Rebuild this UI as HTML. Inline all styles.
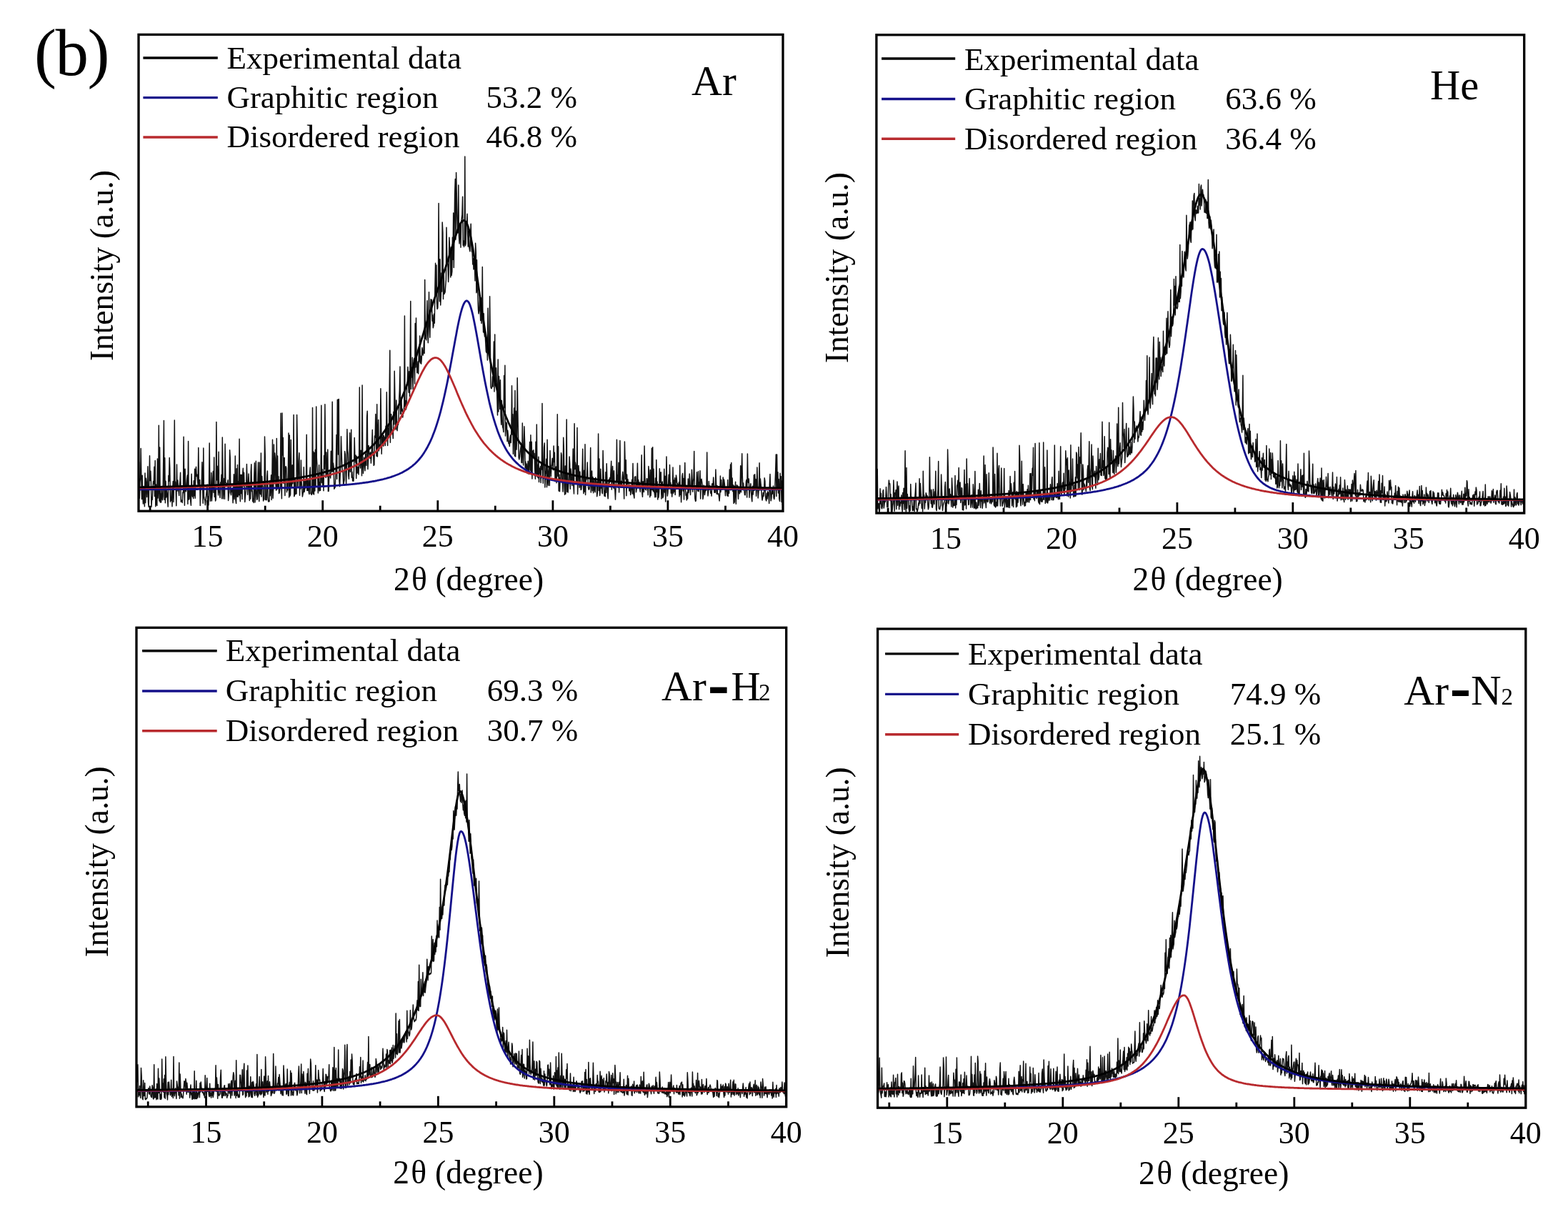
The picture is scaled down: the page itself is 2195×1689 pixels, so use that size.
<!DOCTYPE html>
<html><head><meta charset="utf-8"><title>XRD fits</title>
<style>html,body{margin:0;padding:0;background:#fff;}svg{display:block;}</style>
</head><body>
<svg xmlns="http://www.w3.org/2000/svg" width="2195" height="1689" viewBox="0 0 2195 1689"><rect width="2195" height="1689" fill="#fff"/><clipPath id="c0"><rect x="194.0" y="48.4" width="902.0" height="666.8000000000001"/></clipPath><g clip-path="url(#c0)"><polyline points="194.0,690.5 194.6,646.8 195.3,697.3 195.9,674.9 196.6,668.3 197.2,627.4 197.9,670.9 198.5,698.6 199.2,665.2 199.8,694.5 200.4,704.9 201.1,680.6 201.7,700.0 202.4,708.8 203.0,662.1 203.7,703.5 204.3,669.3 205.0,675.6 205.6,695.4 206.2,681.9 206.9,652.8 207.5,702.5 208.2,709.3 208.8,676.1 209.5,637.8 210.1,672.6 210.8,659.3 211.4,673.0 212.0,709.3 212.7,696.1 213.3,699.3 214.0,681.9 214.6,673.5 215.3,677.1 215.9,653.2 216.5,694.6 217.2,644.5 217.8,708.7 218.5,678.0 219.1,705.7 219.8,707.4 220.4,642.1 221.1,696.9 221.7,684.5 222.3,595.2 223.0,701.1 223.6,626.0 224.3,703.1 224.9,691.0 225.6,703.0 226.2,682.6 226.9,695.3 227.5,699.7 228.1,694.6 228.8,640.2 229.4,588.4 230.1,699.3 230.7,640.7 231.4,703.7 232.0,673.2 232.7,696.0 233.3,685.7 233.9,689.9 234.6,698.5 235.2,709.1 235.9,665.5 236.5,673.6 237.2,640.6 237.8,655.9 238.5,702.2 239.1,699.4 239.7,700.3 240.4,683.9 241.0,708.8 241.7,684.6 242.3,673.6 243.0,702.4 243.6,666.9 244.3,587.9 244.9,679.8 245.5,674.1 246.2,685.1 246.8,707.8 247.5,650.0 248.1,687.0 248.8,671.9 249.4,682.0 250.1,687.8 250.7,693.5 251.3,679.6 252.0,673.2 252.6,661.2 253.3,702.2 253.9,700.1 254.6,700.2 255.2,703.4 255.9,688.8 256.5,689.6 257.1,611.2 257.8,676.5 258.4,707.3 259.1,656.2 259.7,683.1 260.4,687.8 261.0,680.8 261.6,671.1 262.3,664.9 262.9,705.2 263.6,617.5 264.2,699.1 264.9,698.2 265.5,687.4 266.2,684.8 266.8,701.4 267.4,707.2 268.1,663.3 268.7,690.0 269.4,694.9 270.0,685.7 270.7,697.6 271.3,672.8 272.0,693.8 272.6,656.2 273.2,697.3 273.9,658.2 274.5,653.3 275.2,666.5 275.8,664.0 276.5,671.4 277.1,679.3 277.8,626.5 278.4,675.0 279.0,679.9 279.7,671.5 280.3,707.6 281.0,682.3 281.6,684.9 282.3,675.9 282.9,646.7 283.6,681.3 284.2,704.2 284.8,627.1 285.5,694.6 286.1,697.9 286.8,700.3 287.4,706.7 288.1,698.2 288.7,693.4 289.4,685.0 290.0,677.9 290.6,705.4 291.3,694.9 291.9,707.1 292.6,675.9 293.2,620.1 293.9,684.2 294.5,701.2 295.2,689.2 295.8,661.5 296.4,701.0 297.1,691.5 297.7,670.1 298.4,659.4 299.0,689.2 299.7,639.9 300.3,695.2 301.0,683.4 301.6,701.1 302.2,699.3 302.9,590.4 303.5,671.8 304.2,652.2 304.8,678.1 305.5,692.9 306.1,632.3 306.7,687.3 307.4,690.7 308.0,696.4 308.7,675.1 309.3,679.5 310.0,664.3 310.6,697.8 311.3,612.1 311.9,654.3 312.5,697.9 313.2,684.7 313.8,669.6 314.5,698.2 315.1,621.3 315.8,675.5 316.4,675.7 317.1,677.7 317.7,678.0 318.3,677.4 319.0,671.8 319.6,700.5 320.3,692.0 320.9,688.2 321.6,629.7 322.2,640.1 322.9,689.5 323.5,692.8 324.1,684.4 324.8,687.9 325.4,682.9 326.1,703.7 326.7,688.7 327.4,663.8 328.0,698.7 328.7,690.6 329.3,638.1 329.9,699.3 330.6,704.5 331.2,655.7 331.9,695.0 332.5,650.6 333.2,695.3 333.8,674.1 334.5,692.8 335.1,614.3 335.7,690.5 336.4,701.8 337.0,664.3 337.7,690.4 338.3,664.5 339.0,698.5 339.6,664.1 340.3,655.2 340.9,680.3 341.5,661.3 342.2,683.7 342.8,702.5 343.5,694.0 344.1,688.2 344.8,677.4 345.4,649.6 346.1,676.2 346.7,692.2 347.3,680.2 348.0,663.1 348.6,679.3 349.3,700.6 349.9,676.1 350.6,697.9 351.2,660.8 351.8,649.7 352.5,687.8 353.1,686.0 353.8,701.8 354.4,698.0 355.1,703.4 355.7,667.5 356.4,647.8 357.0,702.9 357.6,693.7 358.3,645.2 358.9,685.3 359.6,699.3 360.2,698.6 360.9,675.6 361.5,647.0 362.2,694.7 362.8,701.6 363.4,647.0 364.1,688.9 364.7,691.7 365.4,634.0 366.0,695.1 366.7,666.6 367.3,680.2 368.0,680.0 368.6,701.1 369.2,698.2 369.9,699.0 370.5,611.1 371.2,636.2 371.8,699.6 372.5,698.5 373.1,699.7 373.8,666.7 374.4,658.9 375.0,696.4 375.7,701.9 376.3,701.6 377.0,701.8 377.6,672.4 378.3,693.8 378.9,680.3 379.6,664.8 380.2,699.5 380.8,673.7 381.5,615.3 382.1,697.3 382.8,681.3 383.4,622.0 384.1,674.0 384.7,634.1 385.4,642.4 386.0,678.6 386.6,686.2 387.3,613.6 387.9,684.8 388.6,638.0 389.2,682.7 389.9,666.7 390.5,690.6 391.2,689.2 391.8,683.9 392.4,682.2 393.1,578.3 393.7,673.4 394.4,697.7 395.0,578.0 395.7,637.0 396.3,612.6 396.9,676.4 397.6,641.4 398.2,640.5 398.9,693.6 399.5,653.6 400.2,652.7 400.8,654.9 401.5,688.8 402.1,674.3 402.7,686.0 403.4,659.7 404.0,606.0 404.7,696.1 405.3,609.1 406.0,694.0 406.6,691.7 407.3,615.5 407.9,676.0 408.5,680.8 409.2,650.7 409.8,676.8 410.5,667.6 411.1,580.4 411.8,694.8 412.4,693.1 413.1,670.2 413.7,691.5 414.3,689.4 415.0,690.9 415.6,580.6 416.3,618.3 416.9,681.6 417.6,665.5 418.2,645.4 418.9,633.8 419.5,693.3 420.1,673.3 420.8,684.1 421.4,644.1 422.1,675.4 422.7,681.1 423.4,694.9 424.0,691.6 424.7,687.8 425.3,653.7 425.9,688.5 426.6,685.6 427.2,673.4 427.9,683.0 428.5,670.7 429.2,608.3 429.8,686.4 430.5,670.2 431.1,686.4 431.7,670.9 432.4,689.7 433.0,691.4 433.7,660.8 434.3,654.0 435.0,690.3 435.6,691.4 436.3,692.4 436.9,686.2 437.5,570.4 438.2,691.1 438.8,631.9 439.5,691.9 440.1,633.4 440.8,687.1 441.4,629.3 442.0,681.0 442.7,569.1 443.3,641.1 444.0,653.0 444.6,665.6 445.3,689.9 445.9,679.6 446.6,650.8 447.2,686.9 447.8,674.7 448.5,686.3 449.1,657.3 449.8,567.2 450.4,675.5 451.1,656.8 451.7,680.7 452.4,665.7 453.0,686.7 453.6,637.6 454.3,656.2 454.9,565.7 455.6,633.6 456.2,668.5 456.9,633.1 457.5,661.0 458.2,667.0 458.8,628.9 459.4,687.5 460.1,687.3 460.7,667.9 461.4,661.1 462.0,661.7 462.7,668.9 463.3,631.3 464.0,652.0 464.6,660.6 465.2,562.2 465.9,659.8 466.5,647.9 467.2,654.1 467.8,684.2 468.5,682.7 469.1,682.1 469.8,666.5 470.4,647.6 471.0,608.5 471.7,670.3 472.3,559.4 473.0,559.1 473.6,636.0 474.3,558.6 474.9,672.4 475.6,680.8 476.2,665.1 476.8,652.4 477.5,610.7 478.1,631.9 478.8,651.2 479.4,660.2 480.1,659.2 480.7,679.1 481.4,674.8 482.0,671.7 482.6,631.5 483.3,635.8 483.9,657.3 484.6,677.2 485.2,656.4 485.9,600.8 486.5,629.4 487.1,634.8 487.8,665.3 488.4,670.3 489.1,645.5 489.7,605.7 490.4,660.2 491.0,640.0 491.7,601.3 492.3,668.2 492.9,660.2 493.6,673.0 494.2,669.1 494.9,673.2 495.5,656.6 496.2,612.4 496.8,637.4 497.5,647.0 498.1,637.0 498.7,669.5 499.4,638.8 500.0,662.1 500.7,661.4 501.3,653.6 502.0,663.9 502.6,647.1 503.3,541.9 503.9,645.1 504.5,655.1 505.2,630.2 505.8,635.7 506.5,665.8 507.1,538.9 507.8,646.7 508.4,662.5 509.1,651.3 509.7,640.3 510.3,646.4 511.0,658.8 511.6,635.0 512.3,643.2 512.9,651.6 513.6,584.0 514.2,575.2 514.9,656.6 515.5,644.1 516.1,623.5 516.8,632.9 517.4,635.2 518.1,641.3 518.7,633.0 519.4,648.1 520.0,637.8 520.7,620.1 521.3,601.6 521.9,635.3 522.6,632.7 523.2,651.4 523.9,650.2 524.5,609.9 525.2,612.4 525.8,579.6 526.5,622.2 527.1,638.2 527.7,565.8 528.4,639.0 529.0,608.9 529.7,587.4 530.3,630.9 531.0,627.1 531.6,622.1 532.2,626.7 532.9,543.8 533.5,586.8 534.2,635.2 534.8,611.5 535.5,621.5 536.1,608.0 536.8,624.3 537.4,609.7 538.0,617.8 538.7,612.0 539.3,623.6 540.0,596.3 540.6,613.2 541.3,548.8 541.9,596.0 542.6,623.4 543.2,598.7 543.8,603.2 544.5,609.2 545.1,550.2 545.8,490.2 546.4,619.3 547.1,580.3 547.7,579.6 548.4,606.7 549.0,601.8 549.6,603.6 550.3,613.6 550.9,576.2 551.6,593.7 552.2,519.3 552.9,556.9 553.5,597.0 554.2,601.0 554.8,560.0 555.4,585.1 556.1,602.7 556.7,595.0 557.4,594.5 558.0,588.6 558.7,559.2 559.3,546.6 560.0,512.9 560.6,579.6 561.2,578.9 561.9,557.5 562.5,575.1 563.2,572.3 563.8,584.0 564.5,575.2 565.1,578.3 565.8,564.8 566.4,442.0 567.0,569.0 567.7,560.4 568.3,572.9 569.0,569.6 569.6,538.5 570.3,534.0 570.9,513.5 571.6,533.4 572.2,549.2 572.8,519.8 573.5,554.5 574.1,505.9 574.8,421.4 575.4,544.6 576.1,514.5 576.7,528.0 577.3,500.3 578.0,544.8 578.6,515.2 579.3,504.0 579.9,501.3 580.6,537.1 581.2,452.4 581.9,514.0 582.5,445.1 583.1,498.6 583.8,521.8 584.4,520.6 585.1,506.0 585.7,523.0 586.4,488.4 587.0,505.7 587.7,470.1 588.3,508.0 588.9,498.3 589.6,509.3 590.2,502.6 590.9,486.6 591.5,491.2 592.2,497.1 592.8,493.0 593.5,476.6 594.1,494.5 594.7,391.6 595.4,474.0 596.0,470.1 596.7,475.9 597.3,455.0 598.0,420.7 598.6,465.8 599.3,479.7 599.9,449.5 600.5,408.8 601.2,455.0 601.8,472.2 602.5,442.5 603.1,418.8 603.8,427.9 604.4,419.4 605.1,449.3 605.7,441.0 606.3,458.8 607.0,455.6 607.6,439.3 608.3,452.3 608.9,403.8 609.6,368.3 610.2,413.2 610.9,370.9 611.5,422.8 612.1,432.5 612.8,430.9 613.4,414.3 614.1,284.5 614.7,388.2 615.4,421.8 616.0,362.7 616.7,426.9 617.3,413.6 617.9,382.0 618.6,407.9 619.2,311.1 619.9,325.7 620.5,418.6 621.2,382.2 621.8,411.6 622.4,410.1 623.1,408.9 623.7,400.0 624.4,391.8 625.0,318.3 625.7,357.8 626.3,367.1 627.0,370.7 627.6,394.4 628.2,384.0 628.9,332.3 629.5,344.5 630.2,349.9 630.8,387.9 631.5,346.0 632.1,385.4 632.8,379.8 633.4,332.3 634.0,363.3 634.7,297.9 635.3,374.6 636.0,324.4 636.6,273.0 637.3,250.4 637.9,335.2 638.6,241.5 639.2,269.0 639.8,303.8 640.5,325.7 641.1,325.7 641.8,259.1 642.4,329.4 643.1,340.9 643.7,318.4 644.4,312.4 645.0,346.3 645.6,310.0 646.3,305.0 646.9,300.9 647.6,275.2 648.2,343.3 648.9,337.1 649.5,345.5 650.2,338.0 650.8,218.9 651.4,343.7 652.1,340.9 652.7,310.3 653.4,312.9 654.0,299.3 654.7,328.5 655.3,345.1 656.0,323.3 656.6,344.4 657.2,348.5 657.9,351.8 658.5,330.8 659.2,313.3 659.8,342.9 660.5,352.3 661.1,352.9 661.8,369.9 662.4,361.8 663.0,376.9 663.7,374.0 664.3,365.5 665.0,392.9 665.6,340.2 666.3,352.7 666.9,409.7 667.5,363.8 668.2,405.9 668.8,410.5 669.5,433.1 670.1,439.0 670.8,433.8 671.4,416.2 672.1,430.4 672.7,448.5 673.3,416.7 674.0,452.6 674.6,440.4 675.3,373.6 675.9,441.2 676.6,465.0 677.2,438.8 677.9,466.0 678.5,470.9 679.1,466.6 679.8,480.2 680.4,491.7 681.1,493.5 681.7,474.5 682.4,503.9 683.0,431.2 683.7,486.7 684.3,485.0 684.9,493.8 685.6,414.7 686.2,466.9 686.9,540.7 687.5,543.3 688.2,543.6 688.8,540.6 689.5,527.1 690.1,541.0 690.7,513.9 691.4,477.9 692.0,548.1 692.7,468.0 693.3,539.0 694.0,530.0 694.6,514.7 695.3,534.6 695.9,557.4 696.5,581.0 697.2,503.0 697.8,575.9 698.5,526.6 699.1,542.9 699.8,572.5 700.4,531.8 701.1,581.6 701.7,594.3 702.3,560.6 703.0,582.9 703.6,597.6 704.3,599.5 704.9,604.6 705.6,525.4 706.2,570.5 706.9,511.2 707.5,610.1 708.1,600.9 708.8,591.1 709.4,592.7 710.1,617.8 710.7,602.2 711.4,609.9 712.0,620.7 712.6,617.3 713.3,624.6 713.9,613.7 714.6,609.0 715.2,619.6 715.9,601.4 716.5,539.7 717.2,608.3 717.8,579.7 718.4,635.2 719.1,598.0 719.7,571.1 720.4,638.0 721.0,546.6 721.7,638.9 722.3,575.2 723.0,629.1 723.6,614.9 724.2,528.7 724.9,579.8 725.5,609.7 726.2,640.4 726.8,642.9 727.5,639.3 728.1,631.6 728.8,627.5 729.4,623.9 730.0,647.3 730.7,647.7 731.3,592.1 732.0,628.5 732.6,650.9 733.3,627.2 733.9,596.8 734.6,619.7 735.2,654.7 735.8,646.0 736.5,659.4 737.1,649.1 737.8,658.0 738.4,662.6 739.1,645.2 739.7,655.3 740.4,663.5 741.0,639.2 741.6,618.5 742.3,658.2 742.9,608.8 743.6,661.9 744.2,618.2 744.9,670.0 745.5,631.1 746.2,638.8 746.8,629.7 747.4,639.6 748.1,634.6 748.7,657.3 749.4,670.2 750.0,618.3 750.7,663.8 751.3,594.1 752.0,667.0 752.6,650.4 753.2,668.8 753.9,639.2 754.5,674.6 755.2,655.2 755.8,662.5 756.5,652.7 757.1,675.6 757.7,648.5 758.4,657.0 759.0,564.6 759.7,662.6 760.3,676.3 761.0,649.0 761.6,625.8 762.3,619.9 762.9,682.0 763.5,660.2 764.2,662.4 764.8,642.3 765.5,681.8 766.1,615.2 766.8,673.3 767.4,679.3 768.1,659.7 768.7,654.3 769.3,679.6 770.0,630.5 770.6,651.3 771.3,666.8 771.9,653.1 772.6,649.6 773.2,641.2 773.9,651.7 774.5,657.8 775.1,623.9 775.8,646.6 776.4,633.2 777.1,673.8 777.7,665.5 778.4,653.0 779.0,675.8 779.7,653.0 780.3,579.7 780.9,666.5 781.6,624.7 782.2,687.0 782.9,664.2 783.5,687.8 784.2,668.7 784.8,671.4 785.5,633.7 786.1,636.6 786.7,673.8 787.4,675.5 788.0,687.9 788.7,612.2 789.3,627.6 790.0,679.3 790.6,692.3 791.3,652.1 791.9,690.9 792.5,662.4 793.2,587.0 793.8,688.2 794.5,664.3 795.1,689.1 795.8,676.1 796.4,671.4 797.1,638.9 797.7,648.8 798.3,684.2 799.0,655.9 799.6,664.4 800.3,674.1 800.9,679.4 801.6,659.1 802.2,628.1 802.8,679.1 803.5,690.9 804.1,592.7 804.8,656.4 805.4,647.1 806.1,651.9 806.7,676.6 807.4,669.8 808.0,598.5 808.6,691.4 809.3,669.4 809.9,651.4 810.6,663.6 811.2,682.2 811.9,660.1 812.5,674.2 813.2,685.5 813.8,684.7 814.4,676.0 815.1,657.3 815.7,628.2 816.4,678.3 817.0,690.6 817.7,658.3 818.3,688.0 819.0,621.8 819.6,692.6 820.2,670.7 820.9,671.2 821.5,666.6 822.2,647.0 822.8,665.4 823.5,682.5 824.1,685.1 824.8,684.8 825.4,681.3 826.0,670.9 826.7,626.5 827.3,689.1 828.0,673.2 828.6,659.0 829.3,686.7 829.9,667.4 830.6,689.7 831.2,682.0 831.8,670.0 832.5,686.6 833.1,688.8 833.8,668.3 834.4,673.2 835.1,673.9 835.7,694.7 836.4,689.3 837.0,659.2 837.6,607.0 838.3,686.4 838.9,642.1 839.6,693.4 840.2,688.7 840.9,656.2 841.5,682.9 842.2,679.2 842.8,689.2 843.4,690.7 844.1,630.5 844.7,656.2 845.4,676.6 846.0,693.9 846.7,686.9 847.3,694.7 847.9,660.7 848.6,689.2 849.2,648.8 849.9,671.7 850.5,691.5 851.2,697.8 851.8,678.3 852.5,670.7 853.1,676.0 853.7,668.5 854.4,673.1 855.0,659.4 855.7,645.2 856.3,685.1 857.0,667.4 857.6,652.4 858.3,673.5 858.9,683.1 859.5,658.8 860.2,682.9 860.8,685.1 861.5,699.1 862.1,682.2 862.8,670.7 863.4,615.3 864.1,673.9 864.7,664.7 865.3,682.3 866.0,647.3 866.6,688.9 867.3,671.0 867.9,616.5 868.6,678.8 869.2,682.3 869.9,673.3 870.5,680.3 871.1,669.0 871.8,660.3 872.4,666.4 873.1,680.6 873.7,698.0 874.4,618.1 875.0,642.4 875.7,670.6 876.3,643.7 876.9,693.7 877.6,664.0 878.2,677.9 878.9,670.8 879.5,676.2 880.2,675.5 880.8,687.0 881.5,686.0 882.1,678.9 882.7,692.5 883.4,686.9 884.0,681.2 884.7,671.2 885.3,690.9 886.0,648.5 886.6,690.2 887.3,693.7 887.9,697.1 888.5,667.2 889.2,672.4 889.8,666.8 890.5,688.7 891.1,684.6 891.8,673.0 892.4,648.3 893.0,680.9 893.7,671.5 894.3,679.1 895.0,674.8 895.6,683.7 896.3,688.2 896.9,678.3 897.6,669.1 898.2,636.7 898.8,689.1 899.5,695.3 900.1,673.8 900.8,681.4 901.4,688.4 902.1,623.9 902.7,659.6 903.4,684.9 904.0,685.1 904.6,685.9 905.3,669.7 905.9,669.7 906.6,681.6 907.2,692.7 907.9,652.6 908.5,659.9 909.2,677.9 909.8,695.8 910.4,657.4 911.1,693.5 911.7,682.2 912.4,627.3 913.0,685.5 913.7,625.8 914.3,687.2 915.0,656.2 915.6,688.4 916.2,689.7 916.9,695.8 917.5,669.0 918.2,695.5 918.8,643.4 919.5,688.4 920.1,673.9 920.8,699.0 921.4,684.2 922.0,696.1 922.7,687.9 923.3,655.7 924.0,675.5 924.6,661.4 925.3,660.9 925.9,698.1 926.6,678.5 927.2,674.1 927.8,696.8 928.5,694.6 929.1,684.7 929.8,656.2 930.4,689.1 931.1,666.2 931.7,701.9 932.4,679.5 933.0,639.1 933.6,677.6 934.3,694.1 934.9,690.0 935.6,676.2 936.2,664.3 936.9,678.9 937.5,650.6 938.1,677.1 938.8,675.5 939.4,690.1 940.1,682.7 940.7,695.1 941.4,686.7 942.0,654.1 942.7,690.2 943.3,672.0 943.9,687.9 944.6,668.8 945.2,692.4 945.9,677.7 946.5,665.0 947.2,669.3 947.8,676.9 948.5,676.8 949.1,680.1 949.7,683.5 950.4,674.9 951.0,694.7 951.7,651.2 952.3,692.2 953.0,683.0 953.6,702.8 954.3,686.2 954.9,666.4 955.5,662.5 956.2,687.1 956.8,669.4 957.5,698.9 958.1,673.0 958.8,647.6 959.4,680.1 960.1,693.3 960.7,691.1 961.3,699.9 962.0,688.7 962.6,698.1 963.3,670.1 963.9,689.6 964.6,684.0 965.2,662.9 965.9,674.5 966.5,692.5 967.1,681.3 967.8,678.7 968.4,657.3 969.1,671.8 969.7,688.1 970.4,673.9 971.0,669.0 971.7,631.6 972.3,682.8 972.9,697.6 973.6,701.4 974.2,701.0 974.9,679.0 975.5,660.7 976.2,683.5 976.8,687.0 977.5,659.8 978.1,687.8 978.7,675.0 979.4,678.8 980.0,658.8 980.7,698.0 981.3,672.1 982.0,670.2 982.6,674.2 983.2,679.1 983.9,698.4 984.5,695.0 985.2,679.1 985.8,681.1 986.5,692.5 987.1,688.4 987.8,680.8 988.4,686.6 989.0,683.2 989.7,633.1 990.3,680.0 991.0,694.0 991.6,689.5 992.3,673.5 992.9,685.0 993.6,680.1 994.2,681.2 994.8,690.2 995.5,687.8 996.1,694.1 996.8,676.9 997.4,676.8 998.1,679.1 998.7,668.1 999.4,679.9 1000.0,689.1 1000.6,689.3 1001.3,689.0 1001.9,657.1 1002.6,677.7 1003.2,691.2 1003.9,679.4 1004.5,690.9 1005.2,691.7 1005.8,690.7 1006.4,694.6 1007.1,701.0 1007.7,692.7 1008.4,665.9 1009.0,688.5 1009.7,671.6 1010.3,684.8 1011.0,685.0 1011.6,683.8 1012.2,667.9 1012.9,681.4 1013.5,671.0 1014.2,676.4 1014.8,681.5 1015.5,693.8 1016.1,683.9 1016.8,687.5 1017.4,684.0 1018.0,693.8 1018.7,671.6 1019.3,694.4 1020.0,682.3 1020.6,690.3 1021.3,657.0 1021.9,684.9 1022.6,649.9 1023.2,686.0 1023.8,647.5 1024.5,684.1 1025.1,668.9 1025.8,687.6 1026.4,678.7 1027.1,704.4 1027.7,680.1 1028.3,702.9 1029.0,683.7 1029.6,674.3 1030.3,705.2 1030.9,685.7 1031.6,678.8 1032.2,681.2 1032.9,680.1 1033.5,698.2 1034.1,682.4 1034.8,683.0 1035.4,690.8 1036.1,685.6 1036.7,651.7 1037.4,688.7 1038.0,662.7 1038.7,634.7 1039.3,666.1 1039.9,683.3 1040.6,675.9 1041.2,685.9 1041.9,686.5 1042.5,692.3 1043.2,692.8 1043.8,685.1 1044.5,673.6 1045.1,671.2 1045.7,695.9 1046.4,634.9 1047.0,672.4 1047.7,675.5 1048.3,670.0 1049.0,696.2 1049.6,685.8 1050.3,681.9 1050.9,676.7 1051.5,687.9 1052.2,697.1 1052.8,701.8 1053.5,680.2 1054.1,692.1 1054.8,685.2 1055.4,664.7 1056.1,686.2 1056.7,663.8 1057.3,680.6 1058.0,670.5 1058.6,694.2 1059.3,683.7 1059.9,654.1 1060.6,679.8 1061.2,697.0 1061.9,689.0 1062.5,679.6 1063.1,647.7 1063.8,685.9 1064.4,670.1 1065.1,677.3 1065.7,683.4 1066.4,694.2 1067.0,700.0 1067.7,696.3 1068.3,689.4 1068.9,694.4 1069.6,687.2 1070.2,668.8 1070.9,673.3 1071.5,693.5 1072.2,699.7 1072.8,700.9 1073.4,690.2 1074.1,697.9 1074.7,687.8 1075.4,689.3 1076.0,694.1 1076.7,704.4 1077.3,678.2 1078.0,663.5 1078.6,687.5 1079.2,700.8 1079.9,697.1 1080.5,686.7 1081.2,691.2 1081.8,687.4 1082.5,680.1 1083.1,696.4 1083.8,698.5 1084.4,693.9 1085.0,676.9 1085.7,658.7 1086.3,635.9 1087.0,694.4 1087.6,635.9 1088.3,685.0 1088.9,660.7 1089.6,690.1 1090.2,670.6 1090.8,698.0 1091.5,701.4 1092.1,662.3 1092.8,681.1 1093.4,666.7 1094.1,702.6 1094.7,672.9 1095.4,706.4 1096.0,654.2" fill="none" stroke="#111" stroke-width="1.5" stroke-linejoin="round"/><polyline points="194.0,685.0 195.3,685.0 196.6,685.0 197.9,684.9 199.2,684.9 200.4,684.9 201.7,684.9 203.0,684.9 204.3,684.9 205.6,684.9 206.9,684.9 208.2,684.9 209.5,684.9 210.8,684.9 212.0,684.9 213.3,684.9 214.6,684.9 215.9,684.9 217.2,684.9 218.5,684.8 219.8,684.8 221.1,684.8 222.3,684.8 223.6,684.8 224.9,684.8 226.2,684.8 227.5,684.8 228.8,684.8 230.1,684.8 231.4,684.8 232.7,684.8 233.9,684.8 235.2,684.7 236.5,684.7 237.8,684.7 239.1,684.7 240.4,684.7 241.7,684.7 243.0,684.7 244.3,684.7 245.5,684.7 246.8,684.7 248.1,684.7 249.4,684.7 250.7,684.6 252.0,684.6 253.3,684.6 254.6,684.6 255.9,684.6 257.1,684.6 258.4,684.6 259.7,684.6 261.0,684.6 262.3,684.6 263.6,684.6 264.9,684.5 266.2,684.5 267.4,684.5 268.7,684.5 270.0,684.5 271.3,684.5 272.6,684.5 273.9,684.5 275.2,684.5 276.5,684.5 277.8,684.4 279.0,684.4 280.3,684.4 281.6,684.4 282.9,684.4 284.2,684.4 285.5,684.4 286.8,684.4 288.1,684.4 289.4,684.3 290.6,684.3 291.9,684.3 293.2,684.3 294.5,684.3 295.8,684.3 297.1,684.3 298.4,684.3 299.7,684.2 301.0,684.2 302.2,684.2 303.5,684.2 304.8,684.2 306.1,684.2 307.4,684.2 308.7,684.1 310.0,684.1 311.3,684.1 312.5,684.1 313.8,684.1 315.1,684.1 316.4,684.1 317.7,684.0 319.0,684.0 320.3,684.0 321.6,684.0 322.9,684.0 324.1,684.0 325.4,683.9 326.7,683.9 328.0,683.9 329.3,683.9 330.6,683.9 331.9,683.9 333.2,683.8 334.5,683.8 335.7,683.8 337.0,683.8 338.3,683.8 339.6,683.8 340.9,683.7 342.2,683.7 343.5,683.7 344.8,683.7 346.1,683.7 347.3,683.6 348.6,683.6 349.9,683.6 351.2,683.6 352.5,683.6 353.8,683.5 355.1,683.5 356.4,683.5 357.6,683.5 358.9,683.5 360.2,683.4 361.5,683.4 362.8,683.4 364.1,683.4 365.4,683.3 366.7,683.3 368.0,683.3 369.2,683.3 370.5,683.2 371.8,683.2 373.1,683.2 374.4,683.2 375.7,683.1 377.0,683.1 378.3,683.1 379.6,683.1 380.8,683.0 382.1,683.0 383.4,683.0 384.7,682.9 386.0,682.9 387.3,682.9 388.6,682.8 389.9,682.8 391.2,682.8 392.4,682.8 393.7,682.7 395.0,682.7 396.3,682.7 397.6,682.6 398.9,682.6 400.2,682.6 401.5,682.5 402.7,682.5 404.0,682.4 405.3,682.4 406.6,682.4 407.9,682.3 409.2,682.3 410.5,682.3 411.8,682.2 413.1,682.2 414.3,682.1 415.6,682.1 416.9,682.1 418.2,682.0 419.5,682.0 420.8,681.9 422.1,681.9 423.4,681.8 424.7,681.8 425.9,681.7 427.2,681.7 428.5,681.6 429.8,681.6 431.1,681.5 432.4,681.5 433.7,681.4 435.0,681.4 436.3,681.3 437.5,681.3 438.8,681.2 440.1,681.2 441.4,681.1 442.7,681.0 444.0,681.0 445.3,680.9 446.6,680.9 447.8,680.8 449.1,680.7 450.4,680.7 451.7,680.6 453.0,680.5 454.3,680.5 455.6,680.4 456.9,680.3 458.2,680.2 459.4,680.2 460.7,680.1 462.0,680.0 463.3,679.9 464.6,679.8 465.9,679.8 467.2,679.7 468.5,679.6 469.8,679.5 471.0,679.4 472.3,679.3 473.6,679.2 474.9,679.1 476.2,679.0 477.5,678.9 478.8,678.8 480.1,678.7 481.4,678.6 482.6,678.5 483.9,678.4 485.2,678.3 486.5,678.2 487.8,678.1 489.1,677.9 490.4,677.8 491.7,677.7 492.9,677.6 494.2,677.4 495.5,677.3 496.8,677.1 498.1,677.0 499.4,676.9 500.7,676.7 502.0,676.6 503.3,676.4 504.5,676.2 505.8,676.1 507.1,675.9 508.4,675.7 509.7,675.5 511.0,675.4 512.3,675.2 513.6,675.0 514.9,674.8 516.1,674.6 517.4,674.4 518.7,674.2 520.0,674.0 521.3,673.7 522.6,673.5 523.9,673.3 525.2,673.0 526.5,672.8 527.7,672.5 529.0,672.2 530.3,672.0 531.6,671.7 532.9,671.4 534.2,671.1 535.5,670.8 536.8,670.5 538.0,670.1 539.3,669.8 540.6,669.5 541.9,669.1 543.2,668.7 544.5,668.4 545.8,668.0 547.1,667.6 548.4,667.1 549.6,666.7 550.9,666.2 552.2,665.8 553.5,665.3 554.8,664.8 556.1,664.3 557.4,663.7 558.7,663.2 560.0,662.6 561.2,662.0 562.5,661.4 563.8,660.7 565.1,660.0 566.4,659.3 567.7,658.6 569.0,657.8 570.3,657.0 571.6,656.2 572.8,655.3 574.1,654.4 575.4,653.5 576.7,652.5 578.0,651.4 579.3,650.3 580.6,649.2 581.9,648.0 583.1,646.7 584.4,645.4 585.7,644.0 587.0,642.5 588.3,640.9 589.6,639.3 590.9,637.6 592.2,635.8 593.5,633.9 594.7,631.9 596.0,629.8 597.3,627.5 598.6,625.2 599.9,622.7 601.2,620.1 602.5,617.4 603.8,614.5 605.1,611.5 606.3,608.3 607.6,604.9 608.9,601.4 610.2,597.7 611.5,593.8 612.8,589.7 614.1,585.4 615.4,580.9 616.7,576.2 617.9,571.3 619.2,566.1 620.5,560.8 621.8,555.2 623.1,549.4 624.4,543.4 625.7,537.3 627.0,530.9 628.2,524.3 629.5,517.5 630.8,510.7 632.1,503.7 633.4,496.6 634.7,489.5 636.0,482.4 637.3,475.3 638.6,468.4 639.8,461.7 641.1,455.2 642.4,449.0 643.7,443.3 645.0,438.0 646.3,433.3 647.6,429.3 648.9,426.0 650.2,423.5 651.4,421.8 652.7,420.9 654.0,421.0 655.3,422.0 656.6,423.9 657.9,426.8 659.2,430.6 660.5,435.1 661.8,440.3 663.0,446.1 664.3,452.5 665.6,459.2 666.9,466.2 668.2,473.5 669.5,480.9 670.8,488.4 672.1,495.9 673.3,503.3 674.6,510.6 675.9,517.8 677.2,524.8 678.5,531.7 679.8,538.3 681.1,544.6 682.4,550.8 683.7,556.7 684.9,562.3 686.2,567.7 687.5,572.9 688.8,577.8 690.1,582.5 691.4,587.0 692.7,591.2 694.0,595.3 695.3,599.1 696.5,602.8 697.8,606.2 699.1,609.5 700.4,612.6 701.7,615.6 703.0,618.4 704.3,621.1 705.6,623.6 706.9,626.0 708.1,628.3 709.4,630.4 710.7,632.5 712.0,634.4 713.3,636.3 714.6,638.0 715.9,639.7 717.2,641.3 718.4,642.8 719.7,644.2 721.0,645.6 722.3,646.9 723.6,648.1 724.9,649.3 726.2,650.5 727.5,651.6 728.8,652.6 730.0,653.6 731.3,654.5 732.6,655.4 733.9,656.3 735.2,657.1 736.5,657.9 737.8,658.7 739.1,659.4 740.4,660.1 741.6,660.8 742.9,661.5 744.2,662.1 745.5,662.7 746.8,663.3 748.1,663.9 749.4,664.4 750.7,664.9 752.0,665.4 753.2,665.9 754.5,666.4 755.8,666.8 757.1,667.3 758.4,667.7 759.7,668.1 761.0,668.5 762.3,668.9 763.5,669.3 764.8,669.6 766.1,670.0 767.4,670.3 768.7,670.6 770.0,671.0 771.3,671.3 772.6,671.6 773.9,671.9 775.1,672.1 776.4,672.4 777.7,672.7 779.0,672.9 780.3,673.2 781.6,673.4 782.9,673.7 784.2,673.9 785.5,674.1 786.7,674.3 788.0,674.6 789.3,674.8 790.6,675.0 791.9,675.2 793.2,675.3 794.5,675.5 795.8,675.7 797.1,675.9 798.3,676.1 799.6,676.2 800.9,676.4 802.2,676.6 803.5,676.7 804.8,676.9 806.1,677.0 807.4,677.2 808.6,677.3 809.9,677.4 811.2,677.6 812.5,677.7 813.8,677.8 815.1,678.0 816.4,678.1 817.7,678.2 819.0,678.3 820.2,678.4 821.5,678.5 822.8,678.7 824.1,678.8 825.4,678.9 826.7,679.0 828.0,679.1 829.3,679.2 830.6,679.3 831.8,679.4 833.1,679.5 834.4,679.5 835.7,679.6 837.0,679.7 838.3,679.8 839.6,679.9 840.9,680.0 842.2,680.1 843.4,680.1 844.7,680.2 846.0,680.3 847.3,680.4 848.6,680.4 849.9,680.5 851.2,680.6 852.5,680.6 853.7,680.7 855.0,680.8 856.3,680.8 857.6,680.9 858.9,681.0 860.2,681.0 861.5,681.1 862.8,681.2 864.1,681.2 865.3,681.3 866.6,681.3 867.9,681.4 869.2,681.4 870.5,681.5 871.8,681.5 873.1,681.6 874.4,681.6 875.7,681.7 876.9,681.7 878.2,681.8 879.5,681.8 880.8,681.9 882.1,681.9 883.4,682.0 884.7,682.0 886.0,682.1 887.3,682.1 888.5,682.1 889.8,682.2 891.1,682.2 892.4,682.3 893.7,682.3 895.0,682.4 896.3,682.4 897.6,682.4 898.8,682.5 900.1,682.5 901.4,682.5 902.7,682.6 904.0,682.6 905.3,682.6 906.6,682.7 907.9,682.7 909.2,682.7 910.4,682.8 911.7,682.8 913.0,682.8 914.3,682.9 915.6,682.9 916.9,682.9 918.2,683.0 919.5,683.0 920.8,683.0 922.0,683.0 923.3,683.1 924.6,683.1 925.9,683.1 927.2,683.2 928.5,683.2 929.8,683.2 931.1,683.2 932.4,683.3 933.6,683.3 934.9,683.3 936.2,683.3 937.5,683.4 938.8,683.4 940.1,683.4 941.4,683.4 942.7,683.5 943.9,683.5 945.2,683.5 946.5,683.5 947.8,683.5 949.1,683.6 950.4,683.6 951.7,683.6 953.0,683.6 954.3,683.6 955.5,683.7 956.8,683.7 958.1,683.7 959.4,683.7 960.7,683.7 962.0,683.8 963.3,683.8 964.6,683.8 965.9,683.8 967.1,683.8 968.4,683.9 969.7,683.9 971.0,683.9 972.3,683.9 973.6,683.9 974.9,683.9 976.2,684.0 977.5,684.0 978.7,684.0 980.0,684.0 981.3,684.0 982.6,684.0 983.9,684.1 985.2,684.1 986.5,684.1 987.8,684.1 989.0,684.1 990.3,684.1 991.6,684.1 992.9,684.2 994.2,684.2 995.5,684.2 996.8,684.2 998.1,684.2 999.4,684.2 1000.6,684.2 1001.9,684.3 1003.2,684.3 1004.5,684.3 1005.8,684.3 1007.1,684.3 1008.4,684.3 1009.7,684.3 1011.0,684.3 1012.2,684.4 1013.5,684.4 1014.8,684.4 1016.1,684.4 1017.4,684.4 1018.7,684.4 1020.0,684.4 1021.3,684.4 1022.6,684.4 1023.8,684.5 1025.1,684.5 1026.4,684.5 1027.7,684.5 1029.0,684.5 1030.3,684.5 1031.6,684.5 1032.9,684.5 1034.1,684.5 1035.4,684.5 1036.7,684.6 1038.0,684.6 1039.3,684.6 1040.6,684.6 1041.9,684.6 1043.2,684.6 1044.5,684.6 1045.7,684.6 1047.0,684.6 1048.3,684.6 1049.6,684.7 1050.9,684.7 1052.2,684.7 1053.5,684.7 1054.8,684.7 1056.1,684.7 1057.3,684.7 1058.6,684.7 1059.9,684.7 1061.2,684.7 1062.5,684.7 1063.8,684.7 1065.1,684.8 1066.4,684.8 1067.7,684.8 1068.9,684.8 1070.2,684.8 1071.5,684.8 1072.8,684.8 1074.1,684.8 1075.4,684.8 1076.7,684.8 1078.0,684.8 1079.2,684.8 1080.5,684.8 1081.8,684.9 1083.1,684.9 1084.4,684.9 1085.7,684.9 1087.0,684.9 1088.3,684.9 1089.6,684.9 1090.8,684.9 1092.1,684.9 1093.4,684.9 1094.7,684.9 1096.0,684.9" fill="none" stroke="#14108a" stroke-width="2.8" stroke-linejoin="round"/><polyline points="194.0,683.0 195.3,683.0 196.6,683.0 197.9,682.9 199.2,682.9 200.4,682.9 201.7,682.9 203.0,682.9 204.3,682.8 205.6,682.8 206.9,682.8 208.2,682.8 209.5,682.8 210.8,682.7 212.0,682.7 213.3,682.7 214.6,682.7 215.9,682.7 217.2,682.6 218.5,682.6 219.8,682.6 221.1,682.6 222.3,682.5 223.6,682.5 224.9,682.5 226.2,682.5 227.5,682.5 228.8,682.4 230.1,682.4 231.4,682.4 232.7,682.4 233.9,682.3 235.2,682.3 236.5,682.3 237.8,682.3 239.1,682.2 240.4,682.2 241.7,682.2 243.0,682.2 244.3,682.1 245.5,682.1 246.8,682.1 248.1,682.0 249.4,682.0 250.7,682.0 252.0,682.0 253.3,681.9 254.6,681.9 255.9,681.9 257.1,681.8 258.4,681.8 259.7,681.8 261.0,681.7 262.3,681.7 263.6,681.7 264.9,681.7 266.2,681.6 267.4,681.6 268.7,681.6 270.0,681.5 271.3,681.5 272.6,681.5 273.9,681.4 275.2,681.4 276.5,681.4 277.8,681.3 279.0,681.3 280.3,681.2 281.6,681.2 282.9,681.2 284.2,681.1 285.5,681.1 286.8,681.1 288.1,681.0 289.4,681.0 290.6,680.9 291.9,680.9 293.2,680.9 294.5,680.8 295.8,680.8 297.1,680.7 298.4,680.7 299.7,680.6 301.0,680.6 302.2,680.6 303.5,680.5 304.8,680.5 306.1,680.4 307.4,680.4 308.7,680.3 310.0,680.3 311.3,680.2 312.5,680.2 313.8,680.1 315.1,680.1 316.4,680.0 317.7,680.0 319.0,679.9 320.3,679.9 321.6,679.8 322.9,679.8 324.1,679.7 325.4,679.7 326.7,679.6 328.0,679.5 329.3,679.5 330.6,679.4 331.9,679.4 333.2,679.3 334.5,679.3 335.7,679.2 337.0,679.1 338.3,679.1 339.6,679.0 340.9,678.9 342.2,678.9 343.5,678.8 344.8,678.7 346.1,678.7 347.3,678.6 348.6,678.5 349.9,678.5 351.2,678.4 352.5,678.3 353.8,678.2 355.1,678.2 356.4,678.1 357.6,678.0 358.9,677.9 360.2,677.8 361.5,677.8 362.8,677.7 364.1,677.6 365.4,677.5 366.7,677.4 368.0,677.3 369.2,677.2 370.5,677.2 371.8,677.1 373.1,677.0 374.4,676.9 375.7,676.8 377.0,676.7 378.3,676.6 379.6,676.5 380.8,676.4 382.1,676.3 383.4,676.2 384.7,676.1 386.0,676.0 387.3,675.8 388.6,675.7 389.9,675.6 391.2,675.5 392.4,675.4 393.7,675.3 395.0,675.1 396.3,675.0 397.6,674.9 398.9,674.8 400.2,674.6 401.5,674.5 402.7,674.4 404.0,674.2 405.3,674.1 406.6,673.9 407.9,673.8 409.2,673.7 410.5,673.5 411.8,673.4 413.1,673.2 414.3,673.0 415.6,672.9 416.9,672.7 418.2,672.5 419.5,672.4 420.8,672.2 422.1,672.0 423.4,671.8 424.7,671.7 425.9,671.5 427.2,671.3 428.5,671.1 429.8,670.9 431.1,670.7 432.4,670.5 433.7,670.3 435.0,670.1 436.3,669.9 437.5,669.6 438.8,669.4 440.1,669.2 441.4,668.9 442.7,668.7 444.0,668.5 445.3,668.2 446.6,667.9 447.8,667.7 449.1,667.4 450.4,667.1 451.7,666.9 453.0,666.6 454.3,666.3 455.6,666.0 456.9,665.7 458.2,665.4 459.4,665.1 460.7,664.8 462.0,664.4 463.3,664.1 464.6,663.7 465.9,663.4 467.2,663.0 468.5,662.7 469.8,662.3 471.0,661.9 472.3,661.5 473.6,661.1 474.9,660.7 476.2,660.3 477.5,659.8 478.8,659.4 480.1,658.9 481.4,658.5 482.6,658.0 483.9,657.5 485.2,657.0 486.5,656.5 487.8,656.0 489.1,655.4 490.4,654.9 491.7,654.3 492.9,653.7 494.2,653.1 495.5,652.5 496.8,651.9 498.1,651.2 499.4,650.6 500.7,649.9 502.0,649.2 503.3,648.5 504.5,647.8 505.8,647.0 507.1,646.2 508.4,645.4 509.7,644.6 511.0,643.8 512.3,642.9 513.6,642.0 514.9,641.1 516.1,640.2 517.4,639.2 518.7,638.2 520.0,637.2 521.3,636.1 522.6,635.1 523.9,634.0 525.2,632.8 526.5,631.6 527.7,630.4 529.0,629.2 530.3,627.9 531.6,626.6 532.9,625.3 534.2,623.9 535.5,622.4 536.8,621.0 538.0,619.5 539.3,617.9 540.6,616.3 541.9,614.7 543.2,613.0 544.5,611.2 545.8,609.4 547.1,607.6 548.4,605.7 549.6,603.8 550.9,601.8 552.2,599.7 553.5,597.6 554.8,595.5 556.1,593.3 557.4,591.0 558.7,588.7 560.0,586.4 561.2,584.0 562.5,581.5 563.8,579.0 565.1,576.4 566.4,573.8 567.7,571.1 569.0,568.4 570.3,565.7 571.6,562.9 572.8,560.1 574.1,557.3 575.4,554.4 576.7,551.5 578.0,548.6 579.3,545.7 580.6,542.9 581.9,540.0 583.1,537.1 584.4,534.3 585.7,531.5 587.0,528.8 588.3,526.1 589.6,523.5 590.9,520.9 592.2,518.5 593.5,516.2 594.7,514.0 596.0,511.9 597.3,510.0 598.6,508.2 599.9,506.6 601.2,505.2 602.5,503.9 603.8,502.8 605.1,502.0 606.3,501.3 607.6,500.9 608.9,500.6 610.2,500.6 611.5,500.8 612.8,501.3 614.1,502.0 615.4,502.9 616.7,504.0 617.9,505.4 619.2,507.0 620.5,508.7 621.8,510.7 623.1,512.8 624.4,515.1 625.7,517.5 627.0,520.1 628.2,522.7 629.5,525.5 630.8,528.3 632.1,531.2 633.4,534.2 634.7,537.2 636.0,540.3 637.3,543.3 638.6,546.4 639.8,549.5 641.1,552.6 642.4,555.6 643.7,558.7 645.0,561.7 646.3,564.7 647.6,567.6 648.9,570.5 650.2,573.3 651.4,576.1 652.7,578.9 654.0,581.5 655.3,584.2 656.6,586.7 657.9,589.2 659.2,591.7 660.5,594.1 661.8,596.4 663.0,598.7 664.3,600.9 665.6,603.0 666.9,605.1 668.2,607.1 669.5,609.1 670.8,611.0 672.1,612.9 673.3,614.7 674.6,616.4 675.9,618.1 677.2,619.8 678.5,621.4 679.8,622.9 681.1,624.4 682.4,625.9 683.7,627.3 684.9,628.7 686.2,630.0 687.5,631.3 688.8,632.6 690.1,633.8 691.4,635.0 692.7,636.1 694.0,637.3 695.3,638.3 696.5,639.4 697.8,640.4 699.1,641.4 700.4,642.4 701.7,643.3 703.0,644.2 704.3,645.1 705.6,646.0 706.9,646.8 708.1,647.6 709.4,648.4 710.7,649.1 712.0,649.9 713.3,650.6 714.6,651.3 715.9,652.0 717.2,652.7 718.4,653.3 719.7,653.9 721.0,654.6 722.3,655.2 723.6,655.7 724.9,656.3 726.2,656.9 727.5,657.4 728.8,657.9 730.0,658.4 731.3,658.9 732.6,659.4 733.9,659.9 735.2,660.3 736.5,660.8 737.8,661.2 739.1,661.7 740.4,662.1 741.6,662.5 742.9,662.9 744.2,663.3 745.5,663.6 746.8,664.0 748.1,664.4 749.4,664.7 750.7,665.1 752.0,665.4 753.2,665.7 754.5,666.0 755.8,666.4 757.1,666.7 758.4,667.0 759.7,667.3 761.0,667.5 762.3,667.8 763.5,668.1 764.8,668.4 766.1,668.6 767.4,668.9 768.7,669.1 770.0,669.4 771.3,669.6 772.6,669.9 773.9,670.1 775.1,670.3 776.4,670.5 777.7,670.8 779.0,671.0 780.3,671.2 781.6,671.4 782.9,671.6 784.2,671.8 785.5,672.0 786.7,672.2 788.0,672.4 789.3,672.5 790.6,672.7 791.9,672.9 793.2,673.1 794.5,673.2 795.8,673.4 797.1,673.6 798.3,673.7 799.6,673.9 800.9,674.0 802.2,674.2 803.5,674.3 804.8,674.5 806.1,674.6 807.4,674.7 808.6,674.9 809.9,675.0 811.2,675.1 812.5,675.3 813.8,675.4 815.1,675.5 816.4,675.7 817.7,675.8 819.0,675.9 820.2,676.0 821.5,676.1 822.8,676.2 824.1,676.4 825.4,676.5 826.7,676.6 828.0,676.7 829.3,676.8 830.6,676.9 831.8,677.0 833.1,677.1 834.4,677.2 835.7,677.3 837.0,677.4 838.3,677.5 839.6,677.6 840.9,677.6 842.2,677.7 843.4,677.8 844.7,677.9 846.0,678.0 847.3,678.1 848.6,678.2 849.9,678.2 851.2,678.3 852.5,678.4 853.7,678.5 855.0,678.5 856.3,678.6 857.6,678.7 858.9,678.8 860.2,678.8 861.5,678.9 862.8,679.0 864.1,679.0 865.3,679.1 866.6,679.2 867.9,679.2 869.2,679.3 870.5,679.4 871.8,679.4 873.1,679.5 874.4,679.6 875.7,679.6 876.9,679.7 878.2,679.7 879.5,679.8 880.8,679.9 882.1,679.9 883.4,680.0 884.7,680.0 886.0,680.1 887.3,680.1 888.5,680.2 889.8,680.2 891.1,680.3 892.4,680.3 893.7,680.4 895.0,680.4 896.3,680.5 897.6,680.5 898.8,680.6 900.1,680.6 901.4,680.7 902.7,680.7 904.0,680.8 905.3,680.8 906.6,680.9 907.9,680.9 909.2,680.9 910.4,681.0 911.7,681.0 913.0,681.1 914.3,681.1 915.6,681.1 916.9,681.2 918.2,681.2 919.5,681.3 920.8,681.3 922.0,681.3 923.3,681.4 924.6,681.4 925.9,681.5 927.2,681.5 928.5,681.5 929.8,681.6 931.1,681.6 932.4,681.6 933.6,681.7 934.9,681.7 936.2,681.7 937.5,681.8 938.8,681.8 940.1,681.8 941.4,681.9 942.7,681.9 943.9,681.9 945.2,682.0 946.5,682.0 947.8,682.0 949.1,682.0 950.4,682.1 951.7,682.1 953.0,682.1 954.3,682.2 955.5,682.2 956.8,682.2 958.1,682.2 959.4,682.3 960.7,682.3 962.0,682.3 963.3,682.4 964.6,682.4 965.9,682.4 967.1,682.4 968.4,682.5 969.7,682.5 971.0,682.5 972.3,682.5 973.6,682.6 974.9,682.6 976.2,682.6 977.5,682.6 978.7,682.6 980.0,682.7 981.3,682.7 982.6,682.7 983.9,682.7 985.2,682.8 986.5,682.8 987.8,682.8 989.0,682.8 990.3,682.8 991.6,682.9 992.9,682.9 994.2,682.9 995.5,682.9 996.8,683.0 998.1,683.0 999.4,683.0 1000.6,683.0 1001.9,683.0 1003.2,683.1 1004.5,683.1 1005.8,683.1 1007.1,683.1 1008.4,683.1 1009.7,683.1 1011.0,683.2 1012.2,683.2 1013.5,683.2 1014.8,683.2 1016.1,683.2 1017.4,683.3 1018.7,683.3 1020.0,683.3 1021.3,683.3 1022.6,683.3 1023.8,683.3 1025.1,683.4 1026.4,683.4 1027.7,683.4 1029.0,683.4 1030.3,683.4 1031.6,683.4 1032.9,683.4 1034.1,683.5 1035.4,683.5 1036.7,683.5 1038.0,683.5 1039.3,683.5 1040.6,683.5 1041.9,683.6 1043.2,683.6 1044.5,683.6 1045.7,683.6 1047.0,683.6 1048.3,683.6 1049.6,683.6 1050.9,683.7 1052.2,683.7 1053.5,683.7 1054.8,683.7 1056.1,683.7 1057.3,683.7 1058.6,683.7 1059.9,683.7 1061.2,683.8 1062.5,683.8 1063.8,683.8 1065.1,683.8 1066.4,683.8 1067.7,683.8 1068.9,683.8 1070.2,683.8 1071.5,683.9 1072.8,683.9 1074.1,683.9 1075.4,683.9 1076.7,683.9 1078.0,683.9 1079.2,683.9 1080.5,683.9 1081.8,684.0 1083.1,684.0 1084.4,684.0 1085.7,684.0 1087.0,684.0 1088.3,684.0 1089.6,684.0 1090.8,684.0 1092.1,684.0 1093.4,684.0 1094.7,684.1 1096.0,684.1" fill="none" stroke="#b82a2e" stroke-width="2.8" stroke-linejoin="round"/><polyline points="194.0,681.9 195.3,681.9 196.6,681.9 197.9,681.9 199.2,681.8 200.4,681.8 201.7,681.8 203.0,681.8 204.3,681.7 205.6,681.7 206.9,681.7 208.2,681.6 209.5,681.6 210.8,681.6 212.0,681.6 213.3,681.5 214.6,681.5 215.9,681.5 217.2,681.5 218.5,681.4 219.8,681.4 221.1,681.4 222.3,681.3 223.6,681.3 224.9,681.3 226.2,681.2 227.5,681.2 228.8,681.2 230.1,681.1 231.4,681.1 232.7,681.1 233.9,681.1 235.2,681.0 236.5,681.0 237.8,681.0 239.1,680.9 240.4,680.9 241.7,680.8 243.0,680.8 244.3,680.8 245.5,680.7 246.8,680.7 248.1,680.7 249.4,680.6 250.7,680.6 252.0,680.6 253.3,680.5 254.6,680.5 255.9,680.4 257.1,680.4 258.4,680.4 259.7,680.3 261.0,680.3 262.3,680.2 263.6,680.2 264.9,680.2 266.2,680.1 267.4,680.1 268.7,680.0 270.0,680.0 271.3,679.9 272.6,679.9 273.9,679.9 275.2,679.8 276.5,679.8 277.8,679.7 279.0,679.7 280.3,679.6 281.6,679.6 282.9,679.5 284.2,679.5 285.5,679.4 286.8,679.4 288.1,679.3 289.4,679.3 290.6,679.2 291.9,679.2 293.2,679.1 294.5,679.1 295.8,679.0 297.1,679.0 298.4,678.9 299.7,678.9 301.0,678.8 302.2,678.7 303.5,678.7 304.8,678.6 306.1,678.6 307.4,678.5 308.7,678.4 310.0,678.4 311.3,678.3 312.5,678.3 313.8,678.2 315.1,678.1 316.4,678.1 317.7,678.0 319.0,677.9 320.3,677.9 321.6,677.8 322.9,677.7 324.1,677.6 325.4,677.6 326.7,677.5 328.0,677.4 329.3,677.4 330.6,677.3 331.9,677.2 333.2,677.1 334.5,677.0 335.7,677.0 337.0,676.9 338.3,676.8 339.6,676.7 340.9,676.6 342.2,676.6 343.5,676.5 344.8,676.4 346.1,676.3 347.3,676.2 348.6,676.1 349.9,676.0 351.2,675.9 352.5,675.8 353.8,675.7 355.1,675.6 356.4,675.5 357.6,675.4 358.9,675.3 360.2,675.2 361.5,675.1 362.8,675.0 364.1,674.9 365.4,674.8 366.7,674.7 368.0,674.6 369.2,674.5 370.5,674.4 371.8,674.2 373.1,674.1 374.4,674.0 375.7,673.9 377.0,673.8 378.3,673.6 379.6,673.5 380.8,673.4 382.1,673.2 383.4,673.1 384.7,673.0 386.0,672.8 387.3,672.7 388.6,672.5 389.9,672.4 391.2,672.3 392.4,672.1 393.7,671.9 395.0,671.8 396.3,671.6 397.6,671.5 398.9,671.3 400.2,671.2 401.5,671.0 402.7,670.8 404.0,670.6 405.3,670.5 406.6,670.3 407.9,670.1 409.2,669.9 410.5,669.7 411.8,669.5 413.1,669.3 414.3,669.1 415.6,668.9 416.9,668.7 418.2,668.5 419.5,668.3 420.8,668.1 422.1,667.9 423.4,667.6 424.7,667.4 425.9,667.2 427.2,666.9 428.5,666.7 429.8,666.4 431.1,666.2 432.4,665.9 433.7,665.7 435.0,665.4 436.3,665.1 437.5,664.9 438.8,664.6 440.1,664.3 441.4,664.0 442.7,663.7 444.0,663.4 445.3,663.1 446.6,662.8 447.8,662.4 449.1,662.1 450.4,661.8 451.7,661.4 453.0,661.1 454.3,660.7 455.6,660.4 456.9,660.0 458.2,659.6 459.4,659.2 460.7,658.8 462.0,658.4 463.3,658.0 464.6,657.6 465.9,657.1 467.2,656.7 468.5,656.2 469.8,655.8 471.0,655.3 472.3,654.8 473.6,654.3 474.9,653.8 476.2,653.3 477.5,652.7 478.8,652.2 480.1,651.6 481.4,651.1 482.6,650.5 483.9,649.9 485.2,649.3 486.5,648.6 487.8,648.0 489.1,647.3 490.4,646.6 491.7,645.9 492.9,645.2 494.2,644.5 495.5,643.8 496.8,643.0 498.1,642.2 499.4,641.4 500.7,640.6 502.0,639.7 503.3,638.8 504.5,638.0 505.8,637.0 507.1,636.1 508.4,635.1 509.7,634.1 511.0,633.1 512.3,632.1 513.6,631.0 514.9,629.9 516.1,628.7 517.4,627.6 518.7,626.4 520.0,625.1 521.3,623.8 522.6,622.5 523.9,621.2 525.2,619.8 526.5,618.4 527.7,616.9 529.0,615.4 530.3,613.9 531.6,612.3 532.9,610.6 534.2,608.9 535.5,607.2 536.8,605.4 538.0,603.6 539.3,601.7 540.6,599.7 541.9,597.7 543.2,595.7 544.5,593.5 545.8,591.4 547.1,589.1 548.4,586.8 549.6,584.4 550.9,582.0 552.2,579.5 553.5,576.9 554.8,574.3 556.1,571.5 557.4,568.7 558.7,565.9 560.0,562.9 561.2,559.9 562.5,556.8 563.8,553.7 565.1,550.4 566.4,547.1 567.7,543.7 569.0,540.2 570.3,536.7 571.6,533.1 572.8,529.4 574.1,525.6 575.4,521.8 576.7,518.0 578.0,514.0 579.3,510.0 580.6,506.0 581.9,501.9 583.1,497.8 584.4,493.6 585.7,489.4 587.0,485.2 588.3,481.0 589.6,476.7 590.9,472.5 592.2,468.3 593.5,464.0 594.7,459.8 596.0,455.6 597.3,451.5 598.6,447.4 599.9,443.3 601.2,439.2 602.5,435.2 603.8,431.3 605.1,427.4 606.3,423.5 607.6,419.7 608.9,415.9 610.2,412.2 611.5,408.5 612.8,404.8 614.1,401.2 615.4,397.6 616.7,394.1 617.9,390.5 619.2,386.9 620.5,383.3 621.8,379.7 623.1,376.0 624.4,372.2 625.7,368.4 627.0,364.5 628.2,360.6 629.5,356.5 630.8,352.5 632.1,348.3 633.4,344.1 634.7,340.0 636.0,335.8 637.3,331.8 638.6,327.8 639.8,324.1 641.1,320.5 642.4,317.3 643.7,314.5 645.0,312.1 646.3,310.3 647.6,309.1 648.9,308.5 650.2,308.7 651.4,309.6 652.7,311.3 654.0,313.8 655.3,317.2 656.6,321.6 657.9,326.7 659.2,332.7 660.5,339.4 661.8,346.7 663.0,354.6 664.3,362.9 665.6,371.5 666.9,380.4 668.2,389.4 669.5,398.6 670.8,407.7 672.1,416.9 673.3,425.9 674.6,434.7 675.9,443.4 677.2,451.8 678.5,460.1 679.8,468.0 681.1,475.7 682.4,483.2 683.7,490.3 684.9,497.2 686.2,503.8 687.5,510.2 688.8,516.3 690.1,522.2 691.4,527.8 692.7,533.1 694.0,538.3 695.3,543.2 696.5,547.9 697.8,552.5 699.1,556.8 700.4,561.0 701.7,565.0 703.0,568.8 704.3,572.5 705.6,576.0 706.9,579.4 708.1,582.7 709.4,585.8 710.7,588.8 712.0,591.7 713.3,594.5 714.6,597.2 715.9,599.8 717.2,602.2 718.4,604.6 719.7,607.0 721.0,609.2 722.3,611.3 723.6,613.4 724.9,615.4 726.2,617.3 727.5,619.1 728.8,620.9 730.0,622.6 731.3,624.3 732.6,625.9 733.9,627.4 735.2,628.9 736.5,630.4 737.8,631.7 739.1,633.1 740.4,634.3 741.6,635.6 742.9,636.8 744.2,637.9 745.5,639.0 746.8,640.1 748.1,641.1 749.4,642.1 750.7,643.1 752.0,644.0 753.2,644.9 754.5,645.8 755.8,646.6 757.1,647.4 758.4,648.2 759.7,648.9 761.0,649.7 762.3,650.4 763.5,651.1 764.8,651.7 766.1,652.4 767.4,653.0 768.7,653.6 770.0,654.2 771.3,654.7 772.6,655.3 773.9,655.8 775.1,656.3 776.4,656.9 777.7,657.3 779.0,657.8 780.3,658.3 781.6,658.7 782.9,659.2 784.2,659.6 785.5,660.0 786.7,660.5 788.0,660.9 789.3,661.2 790.6,661.6 791.9,662.0 793.2,662.4 794.5,662.7 795.8,663.1 797.1,663.4 798.3,663.7 799.6,664.1 800.9,664.4 802.2,664.7 803.5,665.0 804.8,665.3 806.1,665.6 807.4,665.9 808.6,666.1 809.9,666.4 811.2,666.7 812.5,666.9 813.8,667.2 815.1,667.5 816.4,667.7 817.7,667.9 819.0,668.2 820.2,668.4 821.5,668.6 822.8,668.9 824.1,669.1 825.4,669.3 826.7,669.5 828.0,669.7 829.3,669.9 830.6,670.1 831.8,670.3 833.1,670.5 834.4,670.7 835.7,670.9 837.0,671.1 838.3,671.2 839.6,671.4 840.9,671.6 842.2,671.8 843.4,671.9 844.7,672.1 846.0,672.2 847.3,672.4 848.6,672.6 849.9,672.7 851.2,672.9 852.5,673.0 853.7,673.1 855.0,673.3 856.3,673.4 857.6,673.6 858.9,673.7 860.2,673.8 861.5,674.0 862.8,674.1 864.1,674.2 865.3,674.3 866.6,674.5 867.9,674.6 869.2,674.7 870.5,674.8 871.8,674.9 873.1,675.1 874.4,675.2 875.7,675.3 876.9,675.4 878.2,675.5 879.5,675.6 880.8,675.7 882.1,675.8 883.4,675.9 884.7,676.0 886.0,676.1 887.3,676.2 888.5,676.3 889.8,676.4 891.1,676.5 892.4,676.6 893.7,676.7 895.0,676.8 896.3,676.8 897.6,676.9 898.8,677.0 900.1,677.1 901.4,677.2 902.7,677.3 904.0,677.3 905.3,677.4 906.6,677.5 907.9,677.6 909.2,677.6 910.4,677.7 911.7,677.8 913.0,677.9 914.3,677.9 915.6,678.0 916.9,678.1 918.2,678.2 919.5,678.2 920.8,678.3 922.0,678.4 923.3,678.4 924.6,678.5 925.9,678.5 927.2,678.6 928.5,678.7 929.8,678.7 931.1,678.8 932.4,678.9 933.6,678.9 934.9,679.0 936.2,679.0 937.5,679.1 938.8,679.1 940.1,679.2 941.4,679.3 942.7,679.3 943.9,679.4 945.2,679.4 946.5,679.5 947.8,679.5 949.1,679.6 950.4,679.6 951.7,679.7 953.0,679.7 954.3,679.8 955.5,679.8 956.8,679.9 958.1,679.9 959.4,680.0 960.7,680.0 962.0,680.1 963.3,680.1 964.6,680.1 965.9,680.2 967.1,680.2 968.4,680.3 969.7,680.3 971.0,680.4 972.3,680.4 973.6,680.4 974.9,680.5 976.2,680.5 977.5,680.6 978.7,680.6 980.0,680.6 981.3,680.7 982.6,680.7 983.9,680.8 985.2,680.8 986.5,680.8 987.8,680.9 989.0,680.9 990.3,680.9 991.6,681.0 992.9,681.0 994.2,681.0 995.5,681.1 996.8,681.1 998.1,681.1 999.4,681.2 1000.6,681.2 1001.9,681.2 1003.2,681.3 1004.5,681.3 1005.8,681.3 1007.1,681.4 1008.4,681.4 1009.7,681.4 1011.0,681.5 1012.2,681.5 1013.5,681.5 1014.8,681.6 1016.1,681.6 1017.4,681.6 1018.7,681.6 1020.0,681.7 1021.3,681.7 1022.6,681.7 1023.8,681.8 1025.1,681.8 1026.4,681.8 1027.7,681.8 1029.0,681.9 1030.3,681.9 1031.6,681.9 1032.9,681.9 1034.1,682.0 1035.4,682.0 1036.7,682.0 1038.0,682.0 1039.3,682.1 1040.6,682.1 1041.9,682.1 1043.2,682.1 1044.5,682.2 1045.7,682.2 1047.0,682.2 1048.3,682.2 1049.6,682.3 1050.9,682.3 1052.2,682.3 1053.5,682.3 1054.8,682.3 1056.1,682.4 1057.3,682.4 1058.6,682.4 1059.9,682.4 1061.2,682.5 1062.5,682.5 1063.8,682.5 1065.1,682.5 1066.4,682.5 1067.7,682.6 1068.9,682.6 1070.2,682.6 1071.5,682.6 1072.8,682.6 1074.1,682.7 1075.4,682.7 1076.7,682.7 1078.0,682.7 1079.2,682.7 1080.5,682.8 1081.8,682.8 1083.1,682.8 1084.4,682.8 1085.7,682.8 1087.0,682.8 1088.3,682.9 1089.6,682.9 1090.8,682.9 1092.1,682.9 1093.4,682.9 1094.7,682.9 1096.0,683.0" fill="none" stroke="#000" stroke-width="2.8" stroke-linejoin="round"/></g><rect x="194.0" y="48.4" width="902.0" height="666.8000000000001" fill="none" stroke="#000" stroke-width="3.3"/><line x1="210.1" y1="715.2" x2="210.1" y2="707.7" stroke="#000" stroke-width="2.8"/><line x1="290.6" y1="715.2" x2="290.6" y2="700.2" stroke="#000" stroke-width="2.8"/><line x1="371.2" y1="715.2" x2="371.2" y2="707.7" stroke="#000" stroke-width="2.8"/><line x1="451.7" y1="715.2" x2="451.7" y2="700.2" stroke="#000" stroke-width="2.8"/><line x1="532.2" y1="715.2" x2="532.2" y2="707.7" stroke="#000" stroke-width="2.8"/><line x1="612.8" y1="715.2" x2="612.8" y2="700.2" stroke="#000" stroke-width="2.8"/><line x1="693.3" y1="715.2" x2="693.3" y2="707.7" stroke="#000" stroke-width="2.8"/><line x1="773.9" y1="715.2" x2="773.9" y2="700.2" stroke="#000" stroke-width="2.8"/><line x1="854.4" y1="715.2" x2="854.4" y2="707.7" stroke="#000" stroke-width="2.8"/><line x1="934.9" y1="715.2" x2="934.9" y2="700.2" stroke="#000" stroke-width="2.8"/><line x1="1015.5" y1="715.2" x2="1015.5" y2="707.7" stroke="#000" stroke-width="2.8"/><text x="290.6" y="764.5" font-family="'Liberation Serif','Times New Roman',serif" font-size="44" text-anchor="middle">15</text><text x="451.7" y="764.5" font-family="'Liberation Serif','Times New Roman',serif" font-size="44" text-anchor="middle">20</text><text x="612.8" y="764.5" font-family="'Liberation Serif','Times New Roman',serif" font-size="44" text-anchor="middle">25</text><text x="773.9" y="764.5" font-family="'Liberation Serif','Times New Roman',serif" font-size="44" text-anchor="middle">30</text><text x="934.9" y="764.5" font-family="'Liberation Serif','Times New Roman',serif" font-size="44" text-anchor="middle">35</text><text x="1096.0" y="764.5" font-family="'Liberation Serif','Times New Roman',serif" font-size="44" text-anchor="middle">40</text><text x="550.9" y="825.5" font-family="'Liberation Serif','Times New Roman',serif" font-size="45.5">2<tspan dx="2.3">θ</tspan><tspan dx="0.5"> (degree)</tspan></text><text transform="translate(158.1,505.3) rotate(-90)" font-family="'Liberation Serif','Times New Roman',serif" font-size="45.6">Intensity (a.u.)</text><line x1="200.4" y1="81.0" x2="304.8" y2="81.0" stroke="#000" stroke-width="3.4"/><text x="317.4" y="95.5" font-family="'Liberation Serif','Times New Roman',serif" font-size="45">Experimental data</text><line x1="200.4" y1="136.6" x2="304.8" y2="136.6" stroke="#14108a" stroke-width="3.4"/><text x="317.4" y="151.4" font-family="'Liberation Serif','Times New Roman',serif" font-size="45">Graphitic region</text><line x1="200.4" y1="192.0" x2="304.8" y2="192.0" stroke="#b82a2e" stroke-width="3.4"/><text x="317.4" y="206.2" font-family="'Liberation Serif','Times New Roman',serif" font-size="45">Disordered region</text><text x="680.5" y="151.4" font-family="'Liberation Serif','Times New Roman',serif" font-size="45">53.2 %</text><text x="680.5" y="206.2" font-family="'Liberation Serif','Times New Roman',serif" font-size="45">46.8 %</text><clipPath id="c1"><rect x="1226.9" y="48.8" width="906.7999999999997" height="669.2"/></clipPath><g clip-path="url(#c1)"><polyline points="1226.9,704.3 1227.5,688.0 1228.2,656.4 1228.8,712.0 1229.5,705.9 1230.1,704.5 1230.8,717.4 1231.4,714.2 1232.1,683.7 1232.7,705.0 1233.4,690.2 1234.0,710.7 1234.7,711.7 1235.3,708.2 1236.0,687.2 1236.6,685.5 1237.3,711.1 1237.9,706.3 1238.6,700.6 1239.2,702.4 1239.9,696.1 1240.5,681.6 1241.1,691.7 1241.8,709.4 1242.4,708.9 1243.1,709.3 1243.7,680.7 1244.4,672.0 1245.0,677.3 1245.7,676.7 1246.3,700.6 1247.0,691.4 1247.6,716.6 1248.3,696.8 1248.9,716.5 1249.6,708.4 1250.2,704.6 1250.9,671.9 1251.5,691.1 1252.2,715.3 1252.8,689.7 1253.5,691.5 1254.1,685.6 1254.8,712.5 1255.4,691.4 1256.0,673.9 1256.7,707.2 1257.3,687.3 1258.0,680.1 1258.6,712.7 1259.3,700.5 1259.9,708.3 1260.6,702.8 1261.2,704.0 1261.9,692.7 1262.5,708.5 1263.2,716.4 1263.8,689.6 1264.5,704.5 1265.1,683.2 1265.8,713.3 1266.4,694.7 1267.1,630.7 1267.7,710.4 1268.4,716.4 1269.0,654.5 1269.6,711.2 1270.3,691.5 1270.9,698.8 1271.6,697.8 1272.2,711.7 1272.9,716.7 1273.5,707.8 1274.2,714.8 1274.8,677.6 1275.5,699.3 1276.1,695.6 1276.8,706.4 1277.4,714.6 1278.1,708.7 1278.7,713.9 1279.4,697.4 1280.0,715.7 1280.7,696.7 1281.3,688.9 1282.0,676.0 1282.6,712.6 1283.3,711.8 1283.9,716.1 1284.5,714.4 1285.2,710.6 1285.8,703.8 1286.5,707.1 1287.1,669.8 1287.8,704.4 1288.4,676.6 1289.1,689.6 1289.7,698.1 1290.4,711.2 1291.0,705.5 1291.7,715.9 1292.3,659.2 1293.0,694.6 1293.6,692.7 1294.3,712.0 1294.9,701.2 1295.6,703.3 1296.2,689.7 1296.9,691.9 1297.5,695.2 1298.1,693.7 1298.8,706.0 1299.4,712.7 1300.1,710.1 1300.7,697.1 1301.4,639.7 1302.0,683.1 1302.7,690.9 1303.3,704.7 1304.0,685.2 1304.6,709.4 1305.3,710.1 1305.9,706.2 1306.6,684.7 1307.2,701.4 1307.9,705.5 1308.5,688.0 1309.2,696.6 1309.8,659.2 1310.5,712.2 1311.1,714.6 1311.8,698.1 1312.4,694.3 1313.0,684.9 1313.7,645.5 1314.3,711.5 1315.0,712.4 1315.6,712.7 1316.3,708.9 1316.9,707.0 1317.6,663.9 1318.2,681.7 1318.9,697.5 1319.5,714.5 1320.2,707.2 1320.8,705.4 1321.5,703.1 1322.1,701.9 1322.8,680.6 1323.4,674.4 1324.1,700.6 1324.7,708.1 1325.4,698.3 1326.0,704.0 1326.6,629.1 1327.3,655.8 1327.9,705.1 1328.6,698.9 1329.2,683.9 1329.9,699.6 1330.5,691.8 1331.2,699.2 1331.8,709.0 1332.5,669.1 1333.1,682.1 1333.8,709.9 1334.4,699.2 1335.1,707.5 1335.7,707.6 1336.4,707.0 1337.0,665.6 1337.7,710.9 1338.3,701.2 1339.0,706.3 1339.6,679.5 1340.2,678.1 1340.9,672.2 1341.5,692.8 1342.2,654.6 1342.8,695.6 1343.5,677.2 1344.1,675.0 1344.8,703.4 1345.4,697.8 1346.1,682.4 1346.7,683.6 1347.4,713.5 1348.0,703.1 1348.7,714.0 1349.3,694.8 1350.0,657.4 1350.6,707.0 1351.3,705.6 1351.9,677.4 1352.6,712.1 1353.2,642.0 1353.9,694.4 1354.5,676.7 1355.1,692.1 1355.8,706.5 1356.4,705.6 1357.1,669.4 1357.7,695.8 1358.4,694.3 1359.0,710.2 1359.7,701.8 1360.3,692.6 1361.0,703.4 1361.6,710.1 1362.3,677.7 1362.9,686.4 1363.6,711.2 1364.2,710.3 1364.9,659.5 1365.5,710.6 1366.2,712.3 1366.8,703.1 1367.5,711.0 1368.1,709.1 1368.7,710.7 1369.4,685.3 1370.0,707.3 1370.7,694.9 1371.3,676.5 1372.0,702.3 1372.6,710.4 1373.3,686.8 1373.9,701.5 1374.6,695.9 1375.2,711.2 1375.9,704.0 1376.5,691.8 1377.2,638.1 1377.8,703.9 1378.5,700.2 1379.1,650.4 1379.8,704.0 1380.4,710.6 1381.1,663.8 1381.7,700.1 1382.4,702.5 1383.0,701.9 1383.6,695.1 1384.3,661.8 1384.9,691.6 1385.6,703.9 1386.2,695.5 1386.9,697.5 1387.5,704.9 1388.2,702.9 1388.8,696.5 1389.5,701.9 1390.1,626.1 1390.8,655.2 1391.4,706.6 1392.1,708.3 1392.7,663.6 1393.4,709.9 1394.0,709.5 1394.7,702.5 1395.3,707.7 1396.0,634.3 1396.6,707.9 1397.2,695.4 1397.9,656.0 1398.5,651.5 1399.2,696.3 1399.8,697.3 1400.5,708.1 1401.1,688.3 1401.8,655.1 1402.4,686.2 1403.1,708.3 1403.7,705.6 1404.4,703.3 1405.0,698.9 1405.7,655.4 1406.3,710.1 1407.0,701.8 1407.6,694.4 1408.3,699.1 1408.9,709.6 1409.6,695.0 1410.2,709.1 1410.9,700.1 1411.5,710.1 1412.1,686.5 1412.8,704.2 1413.4,710.4 1414.1,666.4 1414.7,690.5 1415.4,676.8 1416.0,684.9 1416.7,707.7 1417.3,690.5 1418.0,688.4 1418.6,709.6 1419.3,675.2 1419.9,690.4 1420.6,659.5 1421.2,698.8 1421.9,690.8 1422.5,709.7 1423.2,687.6 1423.8,708.4 1424.5,690.8 1425.1,703.1 1425.7,689.4 1426.4,695.6 1427.0,623.2 1427.7,642.8 1428.3,700.2 1429.0,707.7 1429.6,690.6 1430.3,645.2 1430.9,692.2 1431.6,706.1 1432.2,677.4 1432.9,693.4 1433.5,702.7 1434.2,708.2 1434.8,702.6 1435.5,707.5 1436.1,688.8 1436.8,703.0 1437.4,699.1 1438.1,684.7 1438.7,702.5 1439.4,679.3 1440.0,694.4 1440.6,703.0 1441.3,697.6 1441.9,662.7 1442.6,699.5 1443.2,662.4 1443.9,691.6 1444.5,682.8 1445.2,655.2 1445.8,665.3 1446.5,626.2 1447.1,698.5 1447.8,688.1 1448.4,700.7 1449.1,620.6 1449.7,693.0 1450.4,692.3 1451.0,697.6 1451.7,688.1 1452.3,692.9 1453.0,687.3 1453.6,701.6 1454.2,703.9 1454.9,619.8 1455.5,705.8 1456.2,694.3 1456.8,685.4 1457.5,701.8 1458.1,695.5 1458.8,702.3 1459.4,700.2 1460.1,697.4 1460.7,618.9 1461.4,699.2 1462.0,675.7 1462.7,653.8 1463.3,704.5 1464.0,694.4 1464.6,692.9 1465.3,703.1 1465.9,630.0 1466.6,704.0 1467.2,700.8 1467.8,698.7 1468.5,690.9 1469.1,700.2 1469.8,693.4 1470.4,677.8 1471.1,690.6 1471.7,699.4 1472.4,671.4 1473.0,667.4 1473.7,699.7 1474.3,699.7 1475.0,699.3 1475.6,687.7 1476.3,623.0 1476.9,695.7 1477.6,690.9 1478.2,692.5 1478.9,696.4 1479.5,695.8 1480.2,676.6 1480.8,695.0 1481.5,698.7 1482.1,659.2 1482.7,696.5 1483.4,698.4 1484.0,674.0 1484.7,624.8 1485.3,689.6 1486.0,691.6 1486.6,683.4 1487.3,676.1 1487.9,674.8 1488.6,689.2 1489.2,662.3 1489.9,692.1 1490.5,684.1 1491.2,684.4 1491.8,630.7 1492.5,650.4 1493.1,642.4 1493.8,694.1 1494.4,640.4 1495.1,675.2 1495.7,694.9 1496.3,658.0 1497.0,686.4 1497.6,674.8 1498.3,697.0 1498.9,622.8 1499.6,688.0 1500.2,670.9 1500.9,678.9 1501.5,642.0 1502.2,680.9 1502.8,695.2 1503.5,692.8 1504.1,678.2 1504.8,694.7 1505.4,667.8 1506.1,694.0 1506.7,633.0 1507.4,635.8 1508.0,669.1 1508.7,650.1 1509.3,684.5 1510.0,625.5 1510.6,652.0 1511.2,685.8 1511.9,639.6 1512.5,648.2 1513.2,605.7 1513.8,645.0 1514.5,692.1 1515.1,691.6 1515.8,649.9 1516.4,658.6 1517.1,685.7 1517.7,677.0 1518.4,678.9 1519.0,683.3 1519.7,683.0 1520.3,687.5 1521.0,669.7 1521.6,680.1 1522.3,657.4 1522.9,651.6 1523.6,675.3 1524.2,647.0 1524.8,617.7 1525.5,683.7 1526.1,686.4 1526.8,660.4 1527.4,654.9 1528.1,622.1 1528.7,680.1 1529.4,684.7 1530.0,638.0 1530.7,661.3 1531.3,666.2 1532.0,666.9 1532.6,659.2 1533.3,672.8 1533.9,683.2 1534.6,652.6 1535.2,661.2 1535.9,662.9 1536.5,678.6 1537.2,627.2 1537.8,671.5 1538.5,667.3 1539.1,642.7 1539.7,655.1 1540.4,634.4 1541.0,665.0 1541.7,662.9 1542.3,665.6 1543.0,590.3 1543.6,654.4 1544.3,644.6 1544.9,665.5 1545.6,661.1 1546.2,610.8 1546.9,669.2 1547.5,670.4 1548.2,671.1 1548.8,653.6 1549.5,671.1 1550.1,633.1 1550.8,626.3 1551.4,633.3 1552.1,663.5 1552.7,591.3 1553.3,660.3 1554.0,669.3 1554.6,614.7 1555.3,645.1 1555.9,629.7 1556.6,648.5 1557.2,647.2 1557.9,661.4 1558.5,630.4 1559.2,660.1 1559.8,663.2 1560.5,644.7 1561.1,646.9 1561.8,637.9 1562.4,661.3 1563.1,648.4 1563.7,593.1 1564.4,645.1 1565.0,652.5 1565.7,570.3 1566.3,649.0 1566.9,635.0 1567.6,627.5 1568.2,619.8 1568.9,642.7 1569.5,653.5 1570.2,645.5 1570.8,640.3 1571.5,563.4 1572.1,604.6 1572.8,611.2 1573.4,626.5 1574.1,600.4 1574.7,647.5 1575.4,632.1 1576.0,613.5 1576.7,592.4 1577.3,628.5 1578.0,639.4 1578.6,638.0 1579.3,638.0 1579.9,599.0 1580.6,636.3 1581.2,625.3 1581.8,632.8 1582.5,635.9 1583.1,618.5 1583.8,633.2 1584.4,633.8 1585.1,622.9 1585.7,588.1 1586.4,554.9 1587.0,571.9 1587.7,619.2 1588.3,590.0 1589.0,614.1 1589.6,599.2 1590.3,602.0 1590.9,596.0 1591.6,601.2 1592.2,600.7 1592.9,618.0 1593.5,610.8 1594.2,612.5 1594.8,606.8 1595.4,588.9 1596.1,575.7 1596.7,608.1 1597.4,609.3 1598.0,583.3 1598.7,604.1 1599.3,590.6 1600.0,601.2 1600.6,585.3 1601.3,560.2 1601.9,572.4 1602.6,588.2 1603.2,575.7 1603.9,575.8 1604.5,532.5 1605.2,574.0 1605.8,497.7 1606.5,575.0 1607.1,580.0 1607.8,560.2 1608.4,559.5 1609.1,500.0 1609.7,558.8 1610.3,571.1 1611.0,554.3 1611.6,541.2 1612.3,522.5 1612.9,554.3 1613.6,565.7 1614.2,494.0 1614.9,471.4 1615.5,514.2 1616.2,551.3 1616.8,546.6 1617.5,553.9 1618.1,500.9 1618.8,534.8 1619.4,501.1 1620.1,545.2 1620.7,535.0 1621.4,472.8 1622.0,518.1 1622.7,530.8 1623.3,478.4 1623.9,511.8 1624.6,500.2 1625.2,526.6 1625.9,513.2 1626.5,517.7 1627.2,509.5 1627.8,520.5 1628.5,463.3 1629.1,505.6 1629.8,512.2 1630.4,485.5 1631.1,492.4 1631.7,496.5 1632.4,493.6 1633.0,445.3 1633.7,494.7 1634.3,465.0 1635.0,435.8 1635.6,474.6 1636.3,480.3 1636.9,486.3 1637.6,482.5 1638.2,453.5 1638.8,405.6 1639.5,470.8 1640.1,456.4 1640.8,443.2 1641.4,456.0 1642.1,452.8 1642.7,437.2 1643.4,390.4 1644.0,427.0 1644.7,400.6 1645.3,441.1 1646.0,386.7 1646.6,428.2 1647.3,431.6 1647.9,432.0 1648.6,429.4 1649.2,411.0 1649.9,422.5 1650.5,400.8 1651.2,422.5 1651.8,342.5 1652.4,417.6 1653.1,408.5 1653.7,386.2 1654.4,400.5 1655.0,351.4 1655.7,383.5 1656.3,382.1 1657.0,388.1 1657.6,365.6 1658.3,352.3 1658.9,357.8 1659.6,376.5 1660.2,378.9 1660.9,301.2 1661.5,348.2 1662.2,362.1 1662.8,357.4 1663.5,347.7 1664.1,329.3 1664.8,315.2 1665.4,313.5 1666.1,310.8 1666.7,337.6 1667.3,339.2 1668.0,314.1 1668.6,321.7 1669.3,281.0 1669.9,320.8 1670.6,289.6 1671.2,273.5 1671.9,270.5 1672.5,302.7 1673.2,308.7 1673.8,293.6 1674.5,294.2 1675.1,298.8 1675.8,297.9 1676.4,288.3 1677.1,298.2 1677.7,297.5 1678.4,257.4 1679.0,286.9 1679.7,277.8 1680.3,292.9 1680.9,261.8 1681.6,258.9 1682.2,287.9 1682.9,273.1 1683.5,265.2 1684.2,274.4 1684.8,272.2 1685.5,280.7 1686.1,297.1 1686.8,295.5 1687.4,297.5 1688.1,279.8 1688.7,298.5 1689.4,282.2 1690.0,305.5 1690.7,305.6 1691.3,251.4 1692.0,311.4 1692.6,319.2 1693.3,316.2 1693.9,303.1 1694.5,320.3 1695.2,307.9 1695.8,314.1 1696.5,326.5 1697.1,347.7 1697.8,330.1 1698.4,333.4 1699.1,320.9 1699.7,360.3 1700.4,372.2 1701.0,374.8 1701.7,350.4 1702.3,376.1 1703.0,328.2 1703.6,395.0 1704.3,391.2 1704.9,394.8 1705.6,355.8 1706.2,385.8 1706.9,352.0 1707.5,415.9 1708.2,380.2 1708.8,409.5 1709.4,389.4 1710.1,434.8 1710.7,415.5 1711.4,432.1 1712.0,447.3 1712.7,453.3 1713.3,454.4 1714.0,437.2 1714.6,465.2 1715.3,472.5 1715.9,461.9 1716.6,482.1 1717.2,465.4 1717.9,437.5 1718.5,475.3 1719.2,485.0 1719.8,498.9 1720.5,508.7 1721.1,488.8 1721.8,508.8 1722.4,468.2 1723.0,485.8 1723.7,533.3 1724.3,533.3 1725.0,515.3 1725.6,514.8 1726.3,482.3 1726.9,513.7 1727.6,536.8 1728.2,547.7 1728.9,545.5 1729.5,490.4 1730.2,567.1 1730.8,496.7 1731.5,525.6 1732.1,549.1 1732.8,565.5 1733.4,569.8 1734.1,545.1 1734.7,579.8 1735.4,590.6 1736.0,587.8 1736.7,585.1 1737.3,594.5 1737.9,596.7 1738.6,605.1 1739.2,576.6 1739.9,525.2 1740.5,601.4 1741.2,585.1 1741.8,592.6 1742.5,599.9 1743.1,618.9 1743.8,619.7 1744.4,611.8 1745.1,621.6 1745.7,613.2 1746.4,603.1 1747.0,599.5 1747.7,634.7 1748.3,632.7 1749.0,593.6 1749.6,633.6 1750.3,603.2 1750.9,632.3 1751.5,642.7 1752.2,637.6 1752.8,624.2 1753.5,639.4 1754.1,619.4 1754.8,630.5 1755.4,630.6 1756.1,635.3 1756.7,646.2 1757.4,644.5 1758.0,614.5 1758.7,653.6 1759.3,651.2 1760.0,607.0 1760.6,659.7 1761.3,652.1 1761.9,653.2 1762.6,641.2 1763.2,631.5 1763.9,657.4 1764.5,654.7 1765.2,657.9 1765.8,668.6 1766.4,640.5 1767.1,658.1 1767.7,647.3 1768.4,634.3 1769.0,654.0 1769.7,654.4 1770.3,643.4 1771.0,671.8 1771.6,651.5 1772.3,673.6 1772.9,623.6 1773.6,671.5 1774.2,670.9 1774.9,673.7 1775.5,668.0 1776.2,664.7 1776.8,628.0 1777.5,652.0 1778.1,664.4 1778.8,633.6 1779.4,670.6 1780.0,642.9 1780.7,662.2 1781.3,634.0 1782.0,648.9 1782.6,667.2 1783.3,667.8 1783.9,661.6 1784.6,669.0 1785.2,662.8 1785.9,677.4 1786.5,676.2 1787.2,666.5 1787.8,682.9 1788.5,680.4 1789.1,644.4 1789.8,666.4 1790.4,682.8 1791.1,678.5 1791.7,679.6 1792.4,616.8 1793.0,673.7 1793.6,644.8 1794.3,660.3 1794.9,682.7 1795.6,648.9 1796.2,668.1 1796.9,673.3 1797.5,684.3 1798.2,682.9 1798.8,681.0 1799.5,688.3 1800.1,658.6 1800.8,621.6 1801.4,670.3 1802.1,671.0 1802.7,678.6 1803.4,685.4 1804.0,659.3 1804.7,676.1 1805.3,680.4 1806.0,677.4 1806.6,680.6 1807.3,679.1 1807.9,692.4 1808.5,689.0 1809.2,679.9 1809.8,665.8 1810.5,681.8 1811.1,690.8 1811.8,660.3 1812.4,685.8 1813.1,666.0 1813.7,685.3 1814.4,683.8 1815.0,671.0 1815.7,685.6 1816.3,689.2 1817.0,649.0 1817.6,688.5 1818.3,693.9 1818.9,694.0 1819.6,674.2 1820.2,675.6 1820.9,656.8 1821.5,685.5 1822.1,678.7 1822.8,665.6 1823.4,681.1 1824.1,664.7 1824.7,691.7 1825.4,634.3 1826.0,691.3 1826.7,693.6 1827.3,696.3 1828.0,684.4 1828.6,694.6 1829.3,688.3 1829.9,673.4 1830.6,687.1 1831.2,678.1 1831.9,688.0 1832.5,631.0 1833.2,651.4 1833.8,676.2 1834.5,679.4 1835.1,682.2 1835.8,689.3 1836.4,690.8 1837.0,671.4 1837.7,649.2 1838.3,690.2 1839.0,677.9 1839.6,690.7 1840.3,689.1 1840.9,687.5 1841.6,676.9 1842.2,685.6 1842.9,693.4 1843.5,688.5 1844.2,674.8 1844.8,669.4 1845.5,695.4 1846.1,675.0 1846.8,692.6 1847.4,685.6 1848.1,669.0 1848.7,686.3 1849.4,698.4 1850.0,655.0 1850.6,700.3 1851.3,672.2 1851.9,701.3 1852.6,680.9 1853.2,671.5 1853.9,693.8 1854.5,697.0 1855.2,682.3 1855.8,685.1 1856.5,667.2 1857.1,679.3 1857.8,682.3 1858.4,684.9 1859.1,662.4 1859.7,696.8 1860.4,681.8 1861.0,688.6 1861.7,692.3 1862.3,681.2 1863.0,685.0 1863.6,687.1 1864.3,693.2 1864.9,682.3 1865.5,661.1 1866.2,698.5 1866.8,681.4 1867.5,691.1 1868.1,687.2 1868.8,687.2 1869.4,677.0 1870.1,681.7 1870.7,696.6 1871.4,667.4 1872.0,701.1 1872.7,695.7 1873.3,695.7 1874.0,684.5 1874.6,691.7 1875.3,679.1 1875.9,690.8 1876.6,667.7 1877.2,699.7 1877.9,689.3 1878.5,693.4 1879.1,698.9 1879.8,683.1 1880.4,695.8 1881.1,699.3 1881.7,702.5 1882.4,671.6 1883.0,681.0 1883.7,699.3 1884.3,685.2 1885.0,691.8 1885.6,697.3 1886.3,679.8 1886.9,699.1 1887.6,694.2 1888.2,684.8 1888.9,685.7 1889.5,691.5 1890.2,684.9 1890.8,701.7 1891.5,692.2 1892.1,677.5 1892.8,701.1 1893.4,672.0 1894.0,680.9 1894.7,690.5 1895.3,674.0 1896.0,662.6 1896.6,673.0 1897.3,693.4 1897.9,658.4 1898.6,701.7 1899.2,700.9 1899.9,701.2 1900.5,685.3 1901.2,694.4 1901.8,694.9 1902.5,689.5 1903.1,691.1 1903.8,693.0 1904.4,678.2 1905.1,686.4 1905.7,686.5 1906.4,687.5 1907.0,684.8 1907.6,685.1 1908.3,686.6 1908.9,701.8 1909.6,696.5 1910.2,698.5 1910.9,702.8 1911.5,696.9 1912.2,692.8 1912.8,699.6 1913.5,680.7 1914.1,672.9 1914.8,690.2 1915.4,661.4 1916.1,699.7 1916.7,697.5 1917.4,688.6 1918.0,694.7 1918.7,702.8 1919.3,666.2 1920.0,677.1 1920.6,695.2 1921.2,700.8 1921.9,684.5 1922.5,679.0 1923.2,671.7 1923.8,694.3 1924.5,695.6 1925.1,687.4 1925.8,689.2 1926.4,700.1 1927.1,686.2 1927.7,689.6 1928.4,692.9 1929.0,688.2 1929.7,673.4 1930.3,697.3 1931.0,664.0 1931.6,685.5 1932.3,702.9 1932.9,686.7 1933.6,703.3 1934.2,676.3 1934.9,689.2 1935.5,665.5 1936.1,699.6 1936.8,698.8 1937.4,696.4 1938.1,681.1 1938.7,708.0 1939.4,692.1 1940.0,701.6 1940.7,701.9 1941.3,699.7 1942.0,688.0 1942.6,694.5 1943.3,699.7 1943.9,703.9 1944.6,672.5 1945.2,679.2 1945.9,685.7 1946.5,671.7 1947.2,683.7 1947.8,681.5 1948.5,704.0 1949.1,701.1 1949.7,705.0 1950.4,698.0 1951.0,695.1 1951.7,698.8 1952.3,690.2 1953.0,698.9 1953.6,679.4 1954.3,696.7 1954.9,693.1 1955.6,706.7 1956.2,687.5 1956.9,700.9 1957.5,681.3 1958.2,702.4 1958.8,682.7 1959.5,700.0 1960.1,702.3 1960.8,694.0 1961.4,703.0 1962.1,695.6 1962.7,701.1 1963.4,708.1 1964.0,692.0 1964.6,697.0 1965.3,697.7 1965.9,703.5 1966.6,692.1 1967.2,691.8 1967.9,703.3 1968.5,694.6 1969.2,701.0 1969.8,687.3 1970.5,691.9 1971.1,697.7 1971.8,692.5 1972.4,691.7 1973.1,686.1 1973.7,708.5 1974.4,697.2 1975.0,704.7 1975.7,701.5 1976.3,708.9 1977.0,694.0 1977.6,687.7 1978.2,702.2 1978.9,698.7 1979.5,704.2 1980.2,693.5 1980.8,695.7 1981.5,702.2 1982.1,695.1 1982.8,698.9 1983.4,691.8 1984.1,686.1 1984.7,699.6 1985.4,692.3 1986.0,704.4 1986.7,693.7 1987.3,680.4 1988.0,704.8 1988.6,707.6 1989.3,698.9 1989.9,679.6 1990.6,700.9 1991.2,686.4 1991.9,705.6 1992.5,703.5 1993.1,702.4 1993.8,692.1 1994.4,707.4 1995.1,702.5 1995.7,702.8 1996.4,682.0 1997.0,694.1 1997.7,690.5 1998.3,701.1 1999.0,692.2 1999.6,698.0 2000.3,703.3 2000.9,698.0 2001.6,687.6 2002.2,698.3 2002.9,686.6 2003.5,698.5 2004.2,702.6 2004.8,705.3 2005.5,699.2 2006.1,687.8 2006.7,698.1 2007.4,689.4 2008.0,696.0 2008.7,703.8 2009.3,700.8 2010.0,698.0 2010.6,705.7 2011.3,707.9 2011.9,701.0 2012.6,689.7 2013.2,700.7 2013.9,689.7 2014.5,703.7 2015.2,705.2 2015.8,699.3 2016.5,705.3 2017.1,699.5 2017.8,697.7 2018.4,685.2 2019.1,692.7 2019.7,688.9 2020.3,692.7 2021.0,693.9 2021.6,694.0 2022.3,701.3 2022.9,698.3 2023.6,704.0 2024.2,690.7 2024.9,696.5 2025.5,685.6 2026.2,694.6 2026.8,687.9 2027.5,708.8 2028.1,709.8 2028.8,703.9 2029.4,694.0 2030.1,695.3 2030.7,683.3 2031.4,701.8 2032.0,705.2 2032.7,696.3 2033.3,707.8 2034.0,704.7 2034.6,692.2 2035.2,697.0 2035.9,705.1 2036.5,708.7 2037.2,704.6 2037.8,692.6 2038.5,697.4 2039.1,709.7 2039.8,695.5 2040.4,689.2 2041.1,693.3 2041.7,699.8 2042.4,705.2 2043.0,692.9 2043.7,693.2 2044.3,703.2 2045.0,703.8 2045.6,697.0 2046.3,687.3 2046.9,706.3 2047.6,698.1 2048.2,705.9 2048.8,691.3 2049.5,702.7 2050.1,696.3 2050.8,682.3 2051.4,696.4 2052.1,690.5 2052.7,693.9 2053.4,672.5 2054.0,674.7 2054.7,703.4 2055.3,708.1 2056.0,684.7 2056.6,701.0 2057.3,695.8 2057.9,705.2 2058.6,703.2 2059.2,705.6 2059.9,703.7 2060.5,706.0 2061.2,697.3 2061.8,693.0 2062.5,698.6 2063.1,691.8 2063.7,708.2 2064.4,699.7 2065.0,688.0 2065.7,692.2 2066.3,682.1 2067.0,686.0 2067.6,706.1 2068.3,703.8 2068.9,704.7 2069.6,700.2 2070.2,695.5 2070.9,701.9 2071.5,687.9 2072.2,707.8 2072.8,707.6 2073.5,703.1 2074.1,701.9 2074.8,697.5 2075.4,693.3 2076.1,687.4 2076.7,706.6 2077.3,699.7 2078.0,697.0 2078.6,707.9 2079.3,678.1 2079.9,707.3 2080.6,698.0 2081.2,699.2 2081.9,705.3 2082.5,702.4 2083.2,694.8 2083.8,701.1 2084.5,702.7 2085.1,694.7 2085.8,695.4 2086.4,702.1 2087.1,704.1 2087.7,701.5 2088.4,686.8 2089.0,698.1 2089.7,694.2 2090.3,684.5 2091.0,703.2 2091.6,696.9 2092.2,699.8 2092.9,693.1 2093.5,704.7 2094.2,705.8 2094.8,688.6 2095.5,686.2 2096.1,686.5 2096.8,697.6 2097.4,702.5 2098.1,701.6 2098.7,704.1 2099.4,697.8 2100.0,686.3 2100.7,696.0 2101.3,676.7 2102.0,705.7 2102.6,701.9 2103.3,706.3 2103.9,705.5 2104.6,695.3 2105.2,705.2 2105.8,683.2 2106.5,704.0 2107.1,695.0 2107.8,708.4 2108.4,708.0 2109.1,679.9 2109.7,688.8 2110.4,706.7 2111.0,701.5 2111.7,708.1 2112.3,699.0 2113.0,698.6 2113.6,688.5 2114.3,692.7 2114.9,697.7 2115.6,708.9 2116.2,701.6 2116.9,704.5 2117.5,706.0 2118.2,708.8 2118.8,709.5 2119.5,685.0 2120.1,707.4 2120.7,695.7 2121.4,697.8 2122.0,706.8 2122.7,706.7 2123.3,692.0 2124.0,689.5 2124.6,704.9 2125.3,699.6 2125.9,707.1 2126.6,704.0 2127.2,698.3 2127.9,701.3 2128.5,698.9 2129.2,706.6 2129.8,702.9 2130.5,700.6 2131.1,698.6 2131.8,705.1 2132.4,701.5 2133.1,704.7 2133.7,698.4" fill="none" stroke="#111" stroke-width="1.5" stroke-linejoin="round"/><polyline points="1226.9,699.3 1228.2,699.3 1229.5,699.3 1230.8,699.3 1232.1,699.3 1233.4,699.3 1234.7,699.3 1236.0,699.3 1237.3,699.3 1238.6,699.3 1239.9,699.3 1241.1,699.3 1242.4,699.2 1243.7,699.2 1245.0,699.2 1246.3,699.2 1247.6,699.2 1248.9,699.2 1250.2,699.2 1251.5,699.2 1252.8,699.2 1254.1,699.2 1255.4,699.1 1256.7,699.1 1258.0,699.1 1259.3,699.1 1260.6,699.1 1261.9,699.1 1263.2,699.1 1264.5,699.1 1265.8,699.1 1267.1,699.1 1268.4,699.0 1269.6,699.0 1270.9,699.0 1272.2,699.0 1273.5,699.0 1274.8,699.0 1276.1,699.0 1277.4,699.0 1278.7,699.0 1280.0,698.9 1281.3,698.9 1282.6,698.9 1283.9,698.9 1285.2,698.9 1286.5,698.9 1287.8,698.9 1289.1,698.9 1290.4,698.8 1291.7,698.8 1293.0,698.8 1294.3,698.8 1295.6,698.8 1296.9,698.8 1298.1,698.8 1299.4,698.7 1300.7,698.7 1302.0,698.7 1303.3,698.7 1304.6,698.7 1305.9,698.7 1307.2,698.7 1308.5,698.6 1309.8,698.6 1311.1,698.6 1312.4,698.6 1313.7,698.6 1315.0,698.6 1316.3,698.6 1317.6,698.5 1318.9,698.5 1320.2,698.5 1321.5,698.5 1322.8,698.5 1324.1,698.5 1325.4,698.4 1326.6,698.4 1327.9,698.4 1329.2,698.4 1330.5,698.4 1331.8,698.4 1333.1,698.3 1334.4,698.3 1335.7,698.3 1337.0,698.3 1338.3,698.3 1339.6,698.2 1340.9,698.2 1342.2,698.2 1343.5,698.2 1344.8,698.2 1346.1,698.1 1347.4,698.1 1348.7,698.1 1350.0,698.1 1351.3,698.1 1352.6,698.0 1353.9,698.0 1355.1,698.0 1356.4,698.0 1357.7,698.0 1359.0,697.9 1360.3,697.9 1361.6,697.9 1362.9,697.9 1364.2,697.8 1365.5,697.8 1366.8,697.8 1368.1,697.8 1369.4,697.7 1370.7,697.7 1372.0,697.7 1373.3,697.7 1374.6,697.6 1375.9,697.6 1377.2,697.6 1378.5,697.6 1379.8,697.5 1381.1,697.5 1382.4,697.5 1383.6,697.4 1384.9,697.4 1386.2,697.4 1387.5,697.4 1388.8,697.3 1390.1,697.3 1391.4,697.3 1392.7,697.2 1394.0,697.2 1395.3,697.2 1396.6,697.1 1397.9,697.1 1399.2,697.1 1400.5,697.0 1401.8,697.0 1403.1,697.0 1404.4,696.9 1405.7,696.9 1407.0,696.9 1408.3,696.8 1409.6,696.8 1410.9,696.8 1412.1,696.7 1413.4,696.7 1414.7,696.6 1416.0,696.6 1417.3,696.6 1418.6,696.5 1419.9,696.5 1421.2,696.4 1422.5,696.4 1423.8,696.3 1425.1,696.3 1426.4,696.3 1427.7,696.2 1429.0,696.2 1430.3,696.1 1431.6,696.1 1432.9,696.0 1434.2,696.0 1435.5,695.9 1436.8,695.9 1438.1,695.8 1439.4,695.8 1440.6,695.7 1441.9,695.7 1443.2,695.6 1444.5,695.6 1445.8,695.5 1447.1,695.4 1448.4,695.4 1449.7,695.3 1451.0,695.3 1452.3,695.2 1453.6,695.1 1454.9,695.1 1456.2,695.0 1457.5,695.0 1458.8,694.9 1460.1,694.8 1461.4,694.7 1462.7,694.7 1464.0,694.6 1465.3,694.5 1466.6,694.5 1467.8,694.4 1469.1,694.3 1470.4,694.2 1471.7,694.2 1473.0,694.1 1474.3,694.0 1475.6,693.9 1476.9,693.8 1478.2,693.7 1479.5,693.7 1480.8,693.6 1482.1,693.5 1483.4,693.4 1484.7,693.3 1486.0,693.2 1487.3,693.1 1488.6,693.0 1489.9,692.9 1491.2,692.8 1492.5,692.7 1493.8,692.6 1495.1,692.5 1496.3,692.3 1497.6,692.2 1498.9,692.1 1500.2,692.0 1501.5,691.9 1502.8,691.7 1504.1,691.6 1505.4,691.5 1506.7,691.4 1508.0,691.2 1509.3,691.1 1510.6,690.9 1511.9,690.8 1513.2,690.6 1514.5,690.5 1515.8,690.3 1517.1,690.2 1518.4,690.0 1519.7,689.9 1521.0,689.7 1522.3,689.5 1523.6,689.3 1524.8,689.2 1526.1,689.0 1527.4,688.8 1528.7,688.6 1530.0,688.4 1531.3,688.2 1532.6,688.0 1533.9,687.8 1535.2,687.6 1536.5,687.3 1537.8,687.1 1539.1,686.9 1540.4,686.6 1541.7,686.4 1543.0,686.1 1544.3,685.9 1545.6,685.6 1546.9,685.3 1548.2,685.0 1549.5,684.7 1550.8,684.4 1552.1,684.1 1553.3,683.8 1554.6,683.5 1555.9,683.2 1557.2,682.8 1558.5,682.5 1559.8,682.1 1561.1,681.7 1562.4,681.4 1563.7,681.0 1565.0,680.6 1566.3,680.1 1567.6,679.7 1568.9,679.3 1570.2,678.8 1571.5,678.3 1572.8,677.8 1574.1,677.3 1575.4,676.8 1576.7,676.2 1578.0,675.7 1579.3,675.1 1580.6,674.5 1581.8,673.9 1583.1,673.2 1584.4,672.6 1585.7,671.9 1587.0,671.2 1588.3,670.4 1589.6,669.6 1590.9,668.8 1592.2,668.0 1593.5,667.1 1594.8,666.2 1596.1,665.2 1597.4,664.2 1598.7,663.2 1600.0,662.1 1601.3,660.9 1602.6,659.7 1603.9,658.5 1605.2,657.2 1606.5,655.8 1607.8,654.3 1609.1,652.8 1610.3,651.2 1611.6,649.5 1612.9,647.7 1614.2,645.9 1615.5,643.9 1616.8,641.8 1618.1,639.6 1619.4,637.3 1620.7,634.9 1622.0,632.3 1623.3,629.6 1624.6,626.8 1625.9,623.8 1627.2,620.6 1628.5,617.3 1629.8,613.8 1631.1,610.1 1632.4,606.2 1633.7,602.1 1635.0,597.8 1636.3,593.3 1637.6,588.5 1638.8,583.5 1640.1,578.3 1641.4,572.8 1642.7,567.1 1644.0,561.1 1645.3,554.9 1646.6,548.4 1647.9,541.6 1649.2,534.6 1650.5,527.3 1651.8,519.7 1653.1,511.9 1654.4,503.8 1655.7,495.5 1657.0,487.0 1658.3,478.2 1659.6,469.4 1660.9,460.3 1662.2,451.2 1663.5,442.1 1664.8,432.9 1666.1,423.8 1667.3,414.9 1668.6,406.1 1669.9,397.7 1671.2,389.6 1672.5,382.0 1673.8,374.9 1675.1,368.6 1676.4,362.9 1677.7,358.1 1679.0,354.2 1680.3,351.3 1681.6,349.3 1682.9,348.5 1684.2,348.6 1685.5,349.5 1686.8,351.2 1688.1,353.6 1689.4,356.7 1690.7,360.5 1692.0,364.9 1693.3,369.9 1694.5,375.5 1695.8,381.6 1697.1,388.1 1698.4,395.1 1699.7,402.4 1701.0,410.0 1702.3,417.9 1703.6,426.1 1704.9,434.4 1706.2,442.8 1707.5,451.3 1708.8,459.9 1710.1,468.5 1711.4,477.1 1712.7,485.7 1714.0,494.2 1715.3,502.6 1716.6,510.8 1717.9,519.0 1719.2,527.0 1720.5,534.8 1721.8,542.4 1723.0,549.8 1724.3,557.0 1725.6,564.0 1726.9,570.8 1728.2,577.3 1729.5,583.6 1730.8,589.7 1732.1,595.5 1733.4,601.0 1734.7,606.3 1736.0,611.4 1737.3,616.3 1738.6,620.9 1739.9,625.2 1741.2,629.4 1742.5,633.3 1743.8,637.0 1745.1,640.5 1746.4,643.8 1747.7,646.9 1749.0,649.8 1750.3,652.5 1751.5,655.1 1752.8,657.5 1754.1,659.8 1755.4,661.9 1756.7,663.8 1758.0,665.7 1759.3,667.4 1760.6,669.0 1761.9,670.5 1763.2,671.9 1764.5,673.2 1765.8,674.4 1767.1,675.5 1768.4,676.6 1769.7,677.5 1771.0,678.4 1772.3,679.3 1773.6,680.1 1774.9,680.8 1776.2,681.5 1777.5,682.2 1778.8,682.8 1780.0,683.4 1781.3,683.9 1782.6,684.4 1783.9,684.9 1785.2,685.3 1786.5,685.8 1787.8,686.2 1789.1,686.5 1790.4,686.9 1791.7,687.2 1793.0,687.6 1794.3,687.9 1795.6,688.2 1796.9,688.5 1798.2,688.8 1799.5,689.0 1800.8,689.3 1802.1,689.5 1803.4,689.8 1804.7,690.0 1806.0,690.2 1807.3,690.4 1808.5,690.6 1809.8,690.8 1811.1,691.0 1812.4,691.2 1813.7,691.4 1815.0,691.5 1816.3,691.7 1817.6,691.9 1818.9,692.0 1820.2,692.2 1821.5,692.3 1822.8,692.5 1824.1,692.6 1825.4,692.8 1826.7,692.9 1828.0,693.0 1829.3,693.2 1830.6,693.3 1831.9,693.4 1833.2,693.5 1834.5,693.7 1835.8,693.8 1837.0,693.9 1838.3,694.0 1839.6,694.1 1840.9,694.2 1842.2,694.3 1843.5,694.4 1844.8,694.5 1846.1,694.6 1847.4,694.7 1848.7,694.8 1850.0,694.9 1851.3,695.0 1852.6,695.1 1853.9,695.1 1855.2,695.2 1856.5,695.3 1857.8,695.4 1859.1,695.5 1860.4,695.5 1861.7,695.6 1863.0,695.7 1864.3,695.7 1865.5,695.8 1866.8,695.9 1868.1,695.9 1869.4,696.0 1870.7,696.1 1872.0,696.1 1873.3,696.2 1874.6,696.3 1875.9,696.3 1877.2,696.4 1878.5,696.4 1879.8,696.5 1881.1,696.5 1882.4,696.6 1883.7,696.6 1885.0,696.7 1886.3,696.7 1887.6,696.8 1888.9,696.8 1890.2,696.9 1891.5,696.9 1892.8,697.0 1894.0,697.0 1895.3,697.1 1896.6,697.1 1897.9,697.2 1899.2,697.2 1900.5,697.2 1901.8,697.3 1903.1,697.3 1904.4,697.4 1905.7,697.4 1907.0,697.4 1908.3,697.5 1909.6,697.5 1910.9,697.6 1912.2,697.6 1913.5,697.6 1914.8,697.7 1916.1,697.7 1917.4,697.7 1918.7,697.8 1920.0,697.8 1921.2,697.8 1922.5,697.9 1923.8,697.9 1925.1,697.9 1926.4,698.0 1927.7,698.0 1929.0,698.0 1930.3,698.0 1931.6,698.1 1932.9,698.1 1934.2,698.1 1935.5,698.1 1936.8,698.2 1938.1,698.2 1939.4,698.2 1940.7,698.3 1942.0,698.3 1943.3,698.3 1944.6,698.3 1945.9,698.3 1947.2,698.4 1948.5,698.4 1949.7,698.4 1951.0,698.4 1952.3,698.5 1953.6,698.5 1954.9,698.5 1956.2,698.5 1957.5,698.6 1958.8,698.6 1960.1,698.6 1961.4,698.6 1962.7,698.6 1964.0,698.7 1965.3,698.7 1966.6,698.7 1967.9,698.7 1969.2,698.7 1970.5,698.7 1971.8,698.8 1973.1,698.8 1974.4,698.8 1975.7,698.8 1977.0,698.8 1978.2,698.9 1979.5,698.9 1980.8,698.9 1982.1,698.9 1983.4,698.9 1984.7,698.9 1986.0,698.9 1987.3,699.0 1988.6,699.0 1989.9,699.0 1991.2,699.0 1992.5,699.0 1993.8,699.0 1995.1,699.1 1996.4,699.1 1997.7,699.1 1999.0,699.1 2000.3,699.1 2001.6,699.1 2002.9,699.1 2004.2,699.1 2005.5,699.2 2006.7,699.2 2008.0,699.2 2009.3,699.2 2010.6,699.2 2011.9,699.2 2013.2,699.2 2014.5,699.2 2015.8,699.3 2017.1,699.3 2018.4,699.3 2019.7,699.3 2021.0,699.3 2022.3,699.3 2023.6,699.3 2024.9,699.3 2026.2,699.4 2027.5,699.4 2028.8,699.4 2030.1,699.4 2031.4,699.4 2032.7,699.4 2034.0,699.4 2035.2,699.4 2036.5,699.4 2037.8,699.4 2039.1,699.5 2040.4,699.5 2041.7,699.5 2043.0,699.5 2044.3,699.5 2045.6,699.5 2046.9,699.5 2048.2,699.5 2049.5,699.5 2050.8,699.5 2052.1,699.5 2053.4,699.6 2054.7,699.6 2056.0,699.6 2057.3,699.6 2058.6,699.6 2059.9,699.6 2061.2,699.6 2062.5,699.6 2063.7,699.6 2065.0,699.6 2066.3,699.6 2067.6,699.6 2068.9,699.7 2070.2,699.7 2071.5,699.7 2072.8,699.7 2074.1,699.7 2075.4,699.7 2076.7,699.7 2078.0,699.7 2079.3,699.7 2080.6,699.7 2081.9,699.7 2083.2,699.7 2084.5,699.7 2085.8,699.7 2087.1,699.8 2088.4,699.8 2089.7,699.8 2091.0,699.8 2092.2,699.8 2093.5,699.8 2094.8,699.8 2096.1,699.8 2097.4,699.8 2098.7,699.8 2100.0,699.8 2101.3,699.8 2102.6,699.8 2103.9,699.8 2105.2,699.8 2106.5,699.8 2107.8,699.9 2109.1,699.9 2110.4,699.9 2111.7,699.9 2113.0,699.9 2114.3,699.9 2115.6,699.9 2116.9,699.9 2118.2,699.9 2119.5,699.9 2120.7,699.9 2122.0,699.9 2123.3,699.9 2124.6,699.9 2125.9,699.9 2127.2,699.9 2128.5,699.9 2129.8,699.9 2131.1,699.9 2132.4,700.0 2133.7,700.0" fill="none" stroke="#14108a" stroke-width="2.8" stroke-linejoin="round"/><polyline points="1226.9,699.0 1228.2,699.0 1229.5,699.0 1230.8,699.0 1232.1,698.9 1233.4,698.9 1234.7,698.9 1236.0,698.9 1237.3,698.9 1238.6,698.9 1239.9,698.9 1241.1,698.9 1242.4,698.8 1243.7,698.8 1245.0,698.8 1246.3,698.8 1247.6,698.8 1248.9,698.8 1250.2,698.8 1251.5,698.8 1252.8,698.7 1254.1,698.7 1255.4,698.7 1256.7,698.7 1258.0,698.7 1259.3,698.7 1260.6,698.7 1261.9,698.6 1263.2,698.6 1264.5,698.6 1265.8,698.6 1267.1,698.6 1268.4,698.6 1269.6,698.6 1270.9,698.5 1272.2,698.5 1273.5,698.5 1274.8,698.5 1276.1,698.5 1277.4,698.5 1278.7,698.4 1280.0,698.4 1281.3,698.4 1282.6,698.4 1283.9,698.4 1285.2,698.4 1286.5,698.3 1287.8,698.3 1289.1,698.3 1290.4,698.3 1291.7,698.3 1293.0,698.2 1294.3,698.2 1295.6,698.2 1296.9,698.2 1298.1,698.2 1299.4,698.1 1300.7,698.1 1302.0,698.1 1303.3,698.1 1304.6,698.1 1305.9,698.0 1307.2,698.0 1308.5,698.0 1309.8,698.0 1311.1,698.0 1312.4,697.9 1313.7,697.9 1315.0,697.9 1316.3,697.9 1317.6,697.9 1318.9,697.8 1320.2,697.8 1321.5,697.8 1322.8,697.8 1324.1,697.7 1325.4,697.7 1326.6,697.7 1327.9,697.7 1329.2,697.6 1330.5,697.6 1331.8,697.6 1333.1,697.6 1334.4,697.5 1335.7,697.5 1337.0,697.5 1338.3,697.4 1339.6,697.4 1340.9,697.4 1342.2,697.4 1343.5,697.3 1344.8,697.3 1346.1,697.3 1347.4,697.2 1348.7,697.2 1350.0,697.2 1351.3,697.1 1352.6,697.1 1353.9,697.1 1355.1,697.0 1356.4,697.0 1357.7,697.0 1359.0,696.9 1360.3,696.9 1361.6,696.9 1362.9,696.8 1364.2,696.8 1365.5,696.8 1366.8,696.7 1368.1,696.7 1369.4,696.7 1370.7,696.6 1372.0,696.6 1373.3,696.5 1374.6,696.5 1375.9,696.5 1377.2,696.4 1378.5,696.4 1379.8,696.3 1381.1,696.3 1382.4,696.2 1383.6,696.2 1384.9,696.2 1386.2,696.1 1387.5,696.1 1388.8,696.0 1390.1,696.0 1391.4,695.9 1392.7,695.9 1394.0,695.8 1395.3,695.8 1396.6,695.7 1397.9,695.7 1399.2,695.6 1400.5,695.6 1401.8,695.5 1403.1,695.4 1404.4,695.4 1405.7,695.3 1407.0,695.3 1408.3,695.2 1409.6,695.2 1410.9,695.1 1412.1,695.0 1413.4,695.0 1414.7,694.9 1416.0,694.8 1417.3,694.8 1418.6,694.7 1419.9,694.6 1421.2,694.6 1422.5,694.5 1423.8,694.4 1425.1,694.4 1426.4,694.3 1427.7,694.2 1429.0,694.1 1430.3,694.0 1431.6,694.0 1432.9,693.9 1434.2,693.8 1435.5,693.7 1436.8,693.6 1438.1,693.6 1439.4,693.5 1440.6,693.4 1441.9,693.3 1443.2,693.2 1444.5,693.1 1445.8,693.0 1447.1,692.9 1448.4,692.8 1449.7,692.7 1451.0,692.6 1452.3,692.5 1453.6,692.4 1454.9,692.3 1456.2,692.2 1457.5,692.0 1458.8,691.9 1460.1,691.8 1461.4,691.7 1462.7,691.6 1464.0,691.4 1465.3,691.3 1466.6,691.2 1467.8,691.0 1469.1,690.9 1470.4,690.8 1471.7,690.6 1473.0,690.5 1474.3,690.3 1475.6,690.2 1476.9,690.0 1478.2,689.9 1479.5,689.7 1480.8,689.5 1482.1,689.4 1483.4,689.2 1484.7,689.0 1486.0,688.9 1487.3,688.7 1488.6,688.5 1489.9,688.3 1491.2,688.1 1492.5,687.9 1493.8,687.7 1495.1,687.5 1496.3,687.3 1497.6,687.0 1498.9,686.8 1500.2,686.6 1501.5,686.4 1502.8,686.1 1504.1,685.9 1505.4,685.6 1506.7,685.4 1508.0,685.1 1509.3,684.8 1510.6,684.5 1511.9,684.3 1513.2,684.0 1514.5,683.7 1515.8,683.4 1517.1,683.1 1518.4,682.7 1519.7,682.4 1521.0,682.1 1522.3,681.7 1523.6,681.4 1524.8,681.0 1526.1,680.6 1527.4,680.2 1528.7,679.8 1530.0,679.4 1531.3,679.0 1532.6,678.6 1533.9,678.1 1535.2,677.7 1536.5,677.2 1537.8,676.7 1539.1,676.2 1540.4,675.7 1541.7,675.2 1543.0,674.7 1544.3,674.1 1545.6,673.5 1546.9,673.0 1548.2,672.3 1549.5,671.7 1550.8,671.1 1552.1,670.4 1553.3,669.8 1554.6,669.1 1555.9,668.3 1557.2,667.6 1558.5,666.8 1559.8,666.1 1561.1,665.3 1562.4,664.4 1563.7,663.6 1565.0,662.7 1566.3,661.8 1567.6,660.9 1568.9,659.9 1570.2,658.9 1571.5,657.9 1572.8,656.8 1574.1,655.7 1575.4,654.6 1576.7,653.5 1578.0,652.3 1579.3,651.1 1580.6,649.8 1581.8,648.6 1583.1,647.2 1584.4,645.9 1585.7,644.5 1587.0,643.1 1588.3,641.6 1589.6,640.1 1590.9,638.6 1592.2,637.0 1593.5,635.4 1594.8,633.7 1596.1,632.1 1597.4,630.4 1598.7,628.6 1600.0,626.8 1601.3,625.0 1602.6,623.2 1603.9,621.4 1605.2,619.5 1606.5,617.6 1607.8,615.7 1609.1,613.8 1610.3,611.9 1611.6,610.0 1612.9,608.1 1614.2,606.2 1615.5,604.4 1616.8,602.5 1618.1,600.7 1619.4,599.0 1620.7,597.3 1622.0,595.7 1623.3,594.1 1624.6,592.6 1625.9,591.2 1627.2,589.9 1628.5,588.7 1629.8,587.6 1631.1,586.6 1632.4,585.8 1633.7,585.1 1635.0,584.5 1636.3,584.1 1637.6,583.8 1638.8,583.6 1640.1,583.6 1641.4,583.8 1642.7,584.1 1644.0,584.6 1645.3,585.3 1646.6,586.2 1647.9,587.2 1649.2,588.3 1650.5,589.6 1651.8,591.0 1653.1,592.6 1654.4,594.2 1655.7,595.9 1657.0,597.8 1658.3,599.6 1659.6,601.6 1660.9,603.6 1662.2,605.6 1663.5,607.7 1664.8,609.8 1666.1,611.9 1667.3,614.0 1668.6,616.0 1669.9,618.1 1671.2,620.2 1672.5,622.2 1673.8,624.3 1675.1,626.3 1676.4,628.2 1677.7,630.1 1679.0,632.0 1680.3,633.9 1681.6,635.7 1682.9,637.4 1684.2,639.2 1685.5,640.8 1686.8,642.5 1688.1,644.0 1689.4,645.6 1690.7,647.1 1692.0,648.5 1693.3,649.9 1694.5,651.3 1695.8,652.6 1697.1,653.9 1698.4,655.2 1699.7,656.4 1701.0,657.5 1702.3,658.7 1703.6,659.8 1704.9,660.8 1706.2,661.9 1707.5,662.9 1708.8,663.8 1710.1,664.8 1711.4,665.7 1712.7,666.5 1714.0,667.4 1715.3,668.2 1716.6,669.0 1717.9,669.8 1719.2,670.5 1720.5,671.2 1721.8,671.9 1723.0,672.6 1724.3,673.2 1725.6,673.9 1726.9,674.5 1728.2,675.1 1729.5,675.7 1730.8,676.2 1732.1,676.8 1733.4,677.3 1734.7,677.8 1736.0,678.3 1737.3,678.8 1738.6,679.2 1739.9,679.7 1741.2,680.1 1742.5,680.6 1743.8,681.0 1745.1,681.4 1746.4,681.8 1747.7,682.2 1749.0,682.5 1750.3,682.9 1751.5,683.2 1752.8,683.6 1754.1,683.9 1755.4,684.2 1756.7,684.5 1758.0,684.9 1759.3,685.2 1760.6,685.4 1761.9,685.7 1763.2,686.0 1764.5,686.3 1765.8,686.5 1767.1,686.8 1768.4,687.0 1769.7,687.3 1771.0,687.5 1772.3,687.7 1773.6,688.0 1774.9,688.2 1776.2,688.4 1777.5,688.6 1778.8,688.8 1780.0,689.0 1781.3,689.2 1782.6,689.4 1783.9,689.6 1785.2,689.7 1786.5,689.9 1787.8,690.1 1789.1,690.3 1790.4,690.4 1791.7,690.6 1793.0,690.7 1794.3,690.9 1795.6,691.0 1796.9,691.2 1798.2,691.3 1799.5,691.5 1800.8,691.6 1802.1,691.7 1803.4,691.9 1804.7,692.0 1806.0,692.1 1807.3,692.3 1808.5,692.4 1809.8,692.5 1811.1,692.6 1812.4,692.7 1813.7,692.8 1815.0,692.9 1816.3,693.1 1817.6,693.2 1818.9,693.3 1820.2,693.4 1821.5,693.5 1822.8,693.6 1824.1,693.7 1825.4,693.7 1826.7,693.8 1828.0,693.9 1829.3,694.0 1830.6,694.1 1831.9,694.2 1833.2,694.3 1834.5,694.4 1835.8,694.4 1837.0,694.5 1838.3,694.6 1839.6,694.7 1840.9,694.7 1842.2,694.8 1843.5,694.9 1844.8,695.0 1846.1,695.0 1847.4,695.1 1848.7,695.2 1850.0,695.2 1851.3,695.3 1852.6,695.4 1853.9,695.4 1855.2,695.5 1856.5,695.5 1857.8,695.6 1859.1,695.7 1860.4,695.7 1861.7,695.8 1863.0,695.8 1864.3,695.9 1865.5,695.9 1866.8,696.0 1868.1,696.0 1869.4,696.1 1870.7,696.1 1872.0,696.2 1873.3,696.2 1874.6,696.3 1875.9,696.3 1877.2,696.4 1878.5,696.4 1879.8,696.5 1881.1,696.5 1882.4,696.6 1883.7,696.6 1885.0,696.7 1886.3,696.7 1887.6,696.7 1888.9,696.8 1890.2,696.8 1891.5,696.9 1892.8,696.9 1894.0,696.9 1895.3,697.0 1896.6,697.0 1897.9,697.0 1899.2,697.1 1900.5,697.1 1901.8,697.2 1903.1,697.2 1904.4,697.2 1905.7,697.3 1907.0,697.3 1908.3,697.3 1909.6,697.4 1910.9,697.4 1912.2,697.4 1913.5,697.4 1914.8,697.5 1916.1,697.5 1917.4,697.5 1918.7,697.6 1920.0,697.6 1921.2,697.6 1922.5,697.7 1923.8,697.7 1925.1,697.7 1926.4,697.7 1927.7,697.8 1929.0,697.8 1930.3,697.8 1931.6,697.8 1932.9,697.9 1934.2,697.9 1935.5,697.9 1936.8,697.9 1938.1,698.0 1939.4,698.0 1940.7,698.0 1942.0,698.0 1943.3,698.1 1944.6,698.1 1945.9,698.1 1947.2,698.1 1948.5,698.1 1949.7,698.2 1951.0,698.2 1952.3,698.2 1953.6,698.2 1954.9,698.3 1956.2,698.3 1957.5,698.3 1958.8,698.3 1960.1,698.3 1961.4,698.4 1962.7,698.4 1964.0,698.4 1965.3,698.4 1966.6,698.4 1967.9,698.4 1969.2,698.5 1970.5,698.5 1971.8,698.5 1973.1,698.5 1974.4,698.5 1975.7,698.6 1977.0,698.6 1978.2,698.6 1979.5,698.6 1980.8,698.6 1982.1,698.6 1983.4,698.6 1984.7,698.7 1986.0,698.7 1987.3,698.7 1988.6,698.7 1989.9,698.7 1991.2,698.7 1992.5,698.8 1993.8,698.8 1995.1,698.8 1996.4,698.8 1997.7,698.8 1999.0,698.8 2000.3,698.8 2001.6,698.9 2002.9,698.9 2004.2,698.9 2005.5,698.9 2006.7,698.9 2008.0,698.9 2009.3,698.9 2010.6,698.9 2011.9,699.0 2013.2,699.0 2014.5,699.0 2015.8,699.0 2017.1,699.0 2018.4,699.0 2019.7,699.0 2021.0,699.0 2022.3,699.1 2023.6,699.1 2024.9,699.1 2026.2,699.1 2027.5,699.1 2028.8,699.1 2030.1,699.1 2031.4,699.1 2032.7,699.1 2034.0,699.2 2035.2,699.2 2036.5,699.2 2037.8,699.2 2039.1,699.2 2040.4,699.2 2041.7,699.2 2043.0,699.2 2044.3,699.2 2045.6,699.2 2046.9,699.3 2048.2,699.3 2049.5,699.3 2050.8,699.3 2052.1,699.3 2053.4,699.3 2054.7,699.3 2056.0,699.3 2057.3,699.3 2058.6,699.3 2059.9,699.4 2061.2,699.4 2062.5,699.4 2063.7,699.4 2065.0,699.4 2066.3,699.4 2067.6,699.4 2068.9,699.4 2070.2,699.4 2071.5,699.4 2072.8,699.4 2074.1,699.4 2075.4,699.5 2076.7,699.5 2078.0,699.5 2079.3,699.5 2080.6,699.5 2081.9,699.5 2083.2,699.5 2084.5,699.5 2085.8,699.5 2087.1,699.5 2088.4,699.5 2089.7,699.5 2091.0,699.5 2092.2,699.5 2093.5,699.6 2094.8,699.6 2096.1,699.6 2097.4,699.6 2098.7,699.6 2100.0,699.6 2101.3,699.6 2102.6,699.6 2103.9,699.6 2105.2,699.6 2106.5,699.6 2107.8,699.6 2109.1,699.6 2110.4,699.6 2111.7,699.6 2113.0,699.7 2114.3,699.7 2115.6,699.7 2116.9,699.7 2118.2,699.7 2119.5,699.7 2120.7,699.7 2122.0,699.7 2123.3,699.7 2124.6,699.7 2125.9,699.7 2127.2,699.7 2128.5,699.7 2129.8,699.7 2131.1,699.7 2132.4,699.7 2133.7,699.7" fill="none" stroke="#b82a2e" stroke-width="2.8" stroke-linejoin="round"/><polyline points="1226.9,697.5 1228.2,697.5 1229.5,697.5 1230.8,697.5 1232.1,697.5 1233.4,697.4 1234.7,697.4 1236.0,697.4 1237.3,697.4 1238.6,697.4 1239.9,697.3 1241.1,697.3 1242.4,697.3 1243.7,697.3 1245.0,697.2 1246.3,697.2 1247.6,697.2 1248.9,697.2 1250.2,697.2 1251.5,697.1 1252.8,697.1 1254.1,697.1 1255.4,697.1 1256.7,697.0 1258.0,697.0 1259.3,697.0 1260.6,697.0 1261.9,696.9 1263.2,696.9 1264.5,696.9 1265.8,696.9 1267.1,696.8 1268.4,696.8 1269.6,696.8 1270.9,696.8 1272.2,696.7 1273.5,696.7 1274.8,696.7 1276.1,696.6 1277.4,696.6 1278.7,696.6 1280.0,696.6 1281.3,696.5 1282.6,696.5 1283.9,696.5 1285.2,696.4 1286.5,696.4 1287.8,696.4 1289.1,696.4 1290.4,696.3 1291.7,696.3 1293.0,696.3 1294.3,696.2 1295.6,696.2 1296.9,696.2 1298.1,696.1 1299.4,696.1 1300.7,696.1 1302.0,696.0 1303.3,696.0 1304.6,696.0 1305.9,695.9 1307.2,695.9 1308.5,695.9 1309.8,695.8 1311.1,695.8 1312.4,695.7 1313.7,695.7 1315.0,695.7 1316.3,695.6 1317.6,695.6 1318.9,695.6 1320.2,695.5 1321.5,695.5 1322.8,695.4 1324.1,695.4 1325.4,695.3 1326.6,695.3 1327.9,695.3 1329.2,695.2 1330.5,695.2 1331.8,695.1 1333.1,695.1 1334.4,695.0 1335.7,695.0 1337.0,694.9 1338.3,694.9 1339.6,694.9 1340.9,694.8 1342.2,694.8 1343.5,694.7 1344.8,694.7 1346.1,694.6 1347.4,694.6 1348.7,694.5 1350.0,694.5 1351.3,694.4 1352.6,694.3 1353.9,694.3 1355.1,694.2 1356.4,694.2 1357.7,694.1 1359.0,694.1 1360.3,694.0 1361.6,694.0 1362.9,693.9 1364.2,693.8 1365.5,693.8 1366.8,693.7 1368.1,693.6 1369.4,693.6 1370.7,693.5 1372.0,693.5 1373.3,693.4 1374.6,693.3 1375.9,693.2 1377.2,693.2 1378.5,693.1 1379.8,693.0 1381.1,693.0 1382.4,692.9 1383.6,692.8 1384.9,692.7 1386.2,692.7 1387.5,692.6 1388.8,692.5 1390.1,692.4 1391.4,692.4 1392.7,692.3 1394.0,692.2 1395.3,692.1 1396.6,692.0 1397.9,691.9 1399.2,691.8 1400.5,691.8 1401.8,691.7 1403.1,691.6 1404.4,691.5 1405.7,691.4 1407.0,691.3 1408.3,691.2 1409.6,691.1 1410.9,691.0 1412.1,690.9 1413.4,690.8 1414.7,690.7 1416.0,690.6 1417.3,690.4 1418.6,690.3 1419.9,690.2 1421.2,690.1 1422.5,690.0 1423.8,689.9 1425.1,689.7 1426.4,689.6 1427.7,689.5 1429.0,689.4 1430.3,689.2 1431.6,689.1 1432.9,689.0 1434.2,688.8 1435.5,688.7 1436.8,688.6 1438.1,688.4 1439.4,688.3 1440.6,688.1 1441.9,688.0 1443.2,687.8 1444.5,687.6 1445.8,687.5 1447.1,687.3 1448.4,687.2 1449.7,687.0 1451.0,686.8 1452.3,686.6 1453.6,686.5 1454.9,686.3 1456.2,686.1 1457.5,685.9 1458.8,685.7 1460.1,685.5 1461.4,685.3 1462.7,685.1 1464.0,684.9 1465.3,684.7 1466.6,684.5 1467.8,684.2 1469.1,684.0 1470.4,683.8 1471.7,683.5 1473.0,683.3 1474.3,683.1 1475.6,682.8 1476.9,682.5 1478.2,682.3 1479.5,682.0 1480.8,681.7 1482.1,681.5 1483.4,681.2 1484.7,680.9 1486.0,680.6 1487.3,680.3 1488.6,680.0 1489.9,679.7 1491.2,679.3 1492.5,679.0 1493.8,678.7 1495.1,678.3 1496.3,678.0 1497.6,677.6 1498.9,677.3 1500.2,676.9 1501.5,676.5 1502.8,676.1 1504.1,675.7 1505.4,675.3 1506.7,674.9 1508.0,674.4 1509.3,674.0 1510.6,673.5 1511.9,673.1 1513.2,672.6 1514.5,672.1 1515.8,671.6 1517.1,671.1 1518.4,670.6 1519.7,670.0 1521.0,669.5 1522.3,668.9 1523.6,668.4 1524.8,667.8 1526.1,667.2 1527.4,666.5 1528.7,665.9 1530.0,665.2 1531.3,664.6 1532.6,663.9 1533.9,663.2 1535.2,662.5 1536.5,661.7 1537.8,660.9 1539.1,660.2 1540.4,659.4 1541.7,658.5 1543.0,657.7 1544.3,656.8 1545.6,655.9 1546.9,655.0 1548.2,654.0 1549.5,653.1 1550.8,652.1 1552.1,651.0 1553.3,650.0 1554.6,648.9 1555.9,647.8 1557.2,646.6 1558.5,645.5 1559.8,644.2 1561.1,643.0 1562.4,641.7 1563.7,640.4 1565.0,639.0 1566.3,637.6 1567.6,636.2 1568.9,634.7 1570.2,633.1 1571.5,631.6 1572.8,629.9 1574.1,628.3 1575.4,626.6 1576.7,624.8 1578.0,623.0 1579.3,621.1 1580.6,619.1 1581.8,617.1 1583.1,615.1 1584.4,613.0 1585.7,610.8 1587.0,608.6 1588.3,606.2 1589.6,603.9 1590.9,601.4 1592.2,598.9 1593.5,596.3 1594.8,593.7 1596.1,590.9 1597.4,588.1 1598.7,585.2 1600.0,582.3 1601.3,579.2 1602.6,576.1 1603.9,572.9 1605.2,569.6 1606.5,566.2 1607.8,562.8 1609.1,559.2 1610.3,555.6 1611.6,551.9 1612.9,548.1 1614.2,544.3 1615.5,540.4 1616.8,536.3 1618.1,532.3 1619.4,528.1 1620.7,523.9 1622.0,519.6 1623.3,515.2 1624.6,510.7 1625.9,506.2 1627.2,501.7 1628.5,497.0 1629.8,492.3 1631.1,487.5 1632.4,482.7 1633.7,477.7 1635.0,472.7 1636.3,467.7 1637.6,462.5 1638.8,457.3 1640.1,451.9 1641.4,446.5 1642.7,441.0 1644.0,435.5 1645.3,429.8 1646.6,424.1 1647.9,418.2 1649.2,412.2 1650.5,406.1 1651.8,399.8 1653.1,393.4 1654.4,386.9 1655.7,380.2 1657.0,373.4 1658.3,366.4 1659.6,359.4 1660.9,352.3 1662.2,345.1 1663.5,337.9 1664.8,330.8 1666.1,323.7 1667.3,316.7 1668.6,310.0 1669.9,303.5 1671.2,297.4 1672.5,291.8 1673.8,286.7 1675.1,282.2 1676.4,278.4 1677.7,275.4 1679.0,273.3 1680.3,272.2 1681.6,272.0 1682.9,272.8 1684.2,274.6 1685.5,277.1 1686.8,280.3 1688.1,284.3 1689.4,288.8 1690.7,294.0 1692.0,299.9 1693.3,306.2 1694.5,313.1 1695.8,320.5 1697.1,328.3 1698.4,336.4 1699.7,344.9 1701.0,353.7 1702.3,362.7 1703.6,371.8 1704.9,381.1 1706.2,390.6 1707.5,400.1 1708.8,409.6 1710.1,419.1 1711.4,428.5 1712.7,437.9 1714.0,447.3 1715.3,456.4 1716.6,465.5 1717.9,474.4 1719.2,483.1 1720.5,491.6 1721.8,499.9 1723.0,508.0 1724.3,515.9 1725.6,523.5 1726.9,530.9 1728.2,538.0 1729.5,544.9 1730.8,551.5 1732.1,557.9 1733.4,564.0 1734.7,569.8 1736.0,575.4 1737.3,580.7 1738.6,585.8 1739.9,590.7 1741.2,595.3 1742.5,599.7 1743.8,603.8 1745.1,607.7 1746.4,611.5 1747.7,615.0 1749.0,618.3 1750.3,621.5 1751.5,624.4 1752.8,627.2 1754.1,629.9 1755.4,632.3 1756.7,634.7 1758.0,636.9 1759.3,638.9 1760.6,640.9 1761.9,642.7 1763.2,644.4 1764.5,646.1 1765.8,647.6 1767.1,649.1 1768.4,650.4 1769.7,651.7 1771.0,652.9 1772.3,654.1 1773.6,655.2 1774.9,656.2 1776.2,657.2 1777.5,658.2 1778.8,659.0 1780.0,659.9 1781.3,660.7 1782.6,661.5 1783.9,662.3 1785.2,663.0 1786.5,663.7 1787.8,664.3 1789.1,665.0 1790.4,665.6 1791.7,666.2 1793.0,666.8 1794.3,667.4 1795.6,667.9 1796.9,668.4 1798.2,669.0 1799.5,669.5 1800.8,670.0 1802.1,670.5 1803.4,670.9 1804.7,671.4 1806.0,671.8 1807.3,672.3 1808.5,672.7 1809.8,673.1 1811.1,673.5 1812.4,674.0 1813.7,674.4 1815.0,674.7 1816.3,675.1 1817.6,675.5 1818.9,675.9 1820.2,676.3 1821.5,676.6 1822.8,677.0 1824.1,677.3 1825.4,677.7 1826.7,678.0 1828.0,678.3 1829.3,678.7 1830.6,679.0 1831.9,679.3 1833.2,679.6 1834.5,679.9 1835.8,680.2 1837.0,680.5 1838.3,680.8 1839.6,681.1 1840.9,681.4 1842.2,681.7 1843.5,681.9 1844.8,682.2 1846.1,682.5 1847.4,682.8 1848.7,683.0 1850.0,683.3 1851.3,683.5 1852.6,683.8 1853.9,684.0 1855.2,684.3 1856.5,684.5 1857.8,684.7 1859.1,685.0 1860.4,685.2 1861.7,685.4 1863.0,685.7 1864.3,685.9 1865.5,686.1 1866.8,686.3 1868.1,686.5 1869.4,686.7 1870.7,686.9 1872.0,687.1 1873.3,687.3 1874.6,687.5 1875.9,687.7 1877.2,687.9 1878.5,688.1 1879.8,688.3 1881.1,688.5 1882.4,688.6 1883.7,688.8 1885.0,689.0 1886.3,689.1 1887.6,689.3 1888.9,689.5 1890.2,689.6 1891.5,689.8 1892.8,690.0 1894.0,690.1 1895.3,690.3 1896.6,690.4 1897.9,690.6 1899.2,690.7 1900.5,690.8 1901.8,691.0 1903.1,691.1 1904.4,691.3 1905.7,691.4 1907.0,691.5 1908.3,691.7 1909.6,691.8 1910.9,691.9 1912.2,692.0 1913.5,692.2 1914.8,692.3 1916.1,692.4 1917.4,692.5 1918.7,692.6 1920.0,692.7 1921.2,692.8 1922.5,692.9 1923.8,693.1 1925.1,693.2 1926.4,693.3 1927.7,693.4 1929.0,693.5 1930.3,693.6 1931.6,693.7 1932.9,693.7 1934.2,693.8 1935.5,693.9 1936.8,694.0 1938.1,694.1 1939.4,694.2 1940.7,694.3 1942.0,694.4 1943.3,694.4 1944.6,694.5 1945.9,694.6 1947.2,694.7 1948.5,694.8 1949.7,694.8 1951.0,694.9 1952.3,695.0 1953.6,695.0 1954.9,695.1 1956.2,695.2 1957.5,695.2 1958.8,695.3 1960.1,695.4 1961.4,695.4 1962.7,695.5 1964.0,695.6 1965.3,695.6 1966.6,695.7 1967.9,695.7 1969.2,695.8 1970.5,695.9 1971.8,695.9 1973.1,696.0 1974.4,696.0 1975.7,696.1 1977.0,696.1 1978.2,696.2 1979.5,696.2 1980.8,696.3 1982.1,696.3 1983.4,696.4 1984.7,696.4 1986.0,696.4 1987.3,696.5 1988.6,696.5 1989.9,696.6 1991.2,696.6 1992.5,696.7 1993.8,696.7 1995.1,696.7 1996.4,696.8 1997.7,696.8 1999.0,696.9 2000.3,696.9 2001.6,696.9 2002.9,697.0 2004.2,697.0 2005.5,697.0 2006.7,697.1 2008.0,697.1 2009.3,697.1 2010.6,697.2 2011.9,697.2 2013.2,697.2 2014.5,697.3 2015.8,697.3 2017.1,697.3 2018.4,697.4 2019.7,697.4 2021.0,697.4 2022.3,697.4 2023.6,697.5 2024.9,697.5 2026.2,697.5 2027.5,697.6 2028.8,697.6 2030.1,697.6 2031.4,697.6 2032.7,697.7 2034.0,697.7 2035.2,697.7 2036.5,697.7 2037.8,697.8 2039.1,697.8 2040.4,697.8 2041.7,697.8 2043.0,697.8 2044.3,697.9 2045.6,697.9 2046.9,697.9 2048.2,697.9 2049.5,698.0 2050.8,698.0 2052.1,698.0 2053.4,698.0 2054.7,698.0 2056.0,698.1 2057.3,698.1 2058.6,698.1 2059.9,698.1 2061.2,698.1 2062.5,698.1 2063.7,698.2 2065.0,698.2 2066.3,698.2 2067.6,698.2 2068.9,698.2 2070.2,698.3 2071.5,698.3 2072.8,698.3 2074.1,698.3 2075.4,698.3 2076.7,698.3 2078.0,698.4 2079.3,698.4 2080.6,698.4 2081.9,698.4 2083.2,698.4 2084.5,698.4 2085.8,698.4 2087.1,698.5 2088.4,698.5 2089.7,698.5 2091.0,698.5 2092.2,698.5 2093.5,698.5 2094.8,698.5 2096.1,698.6 2097.4,698.6 2098.7,698.6 2100.0,698.6 2101.3,698.6 2102.6,698.6 2103.9,698.6 2105.2,698.7 2106.5,698.7 2107.8,698.7 2109.1,698.7 2110.4,698.7 2111.7,698.7 2113.0,698.7 2114.3,698.7 2115.6,698.7 2116.9,698.8 2118.2,698.8 2119.5,698.8 2120.7,698.8 2122.0,698.8 2123.3,698.8 2124.6,698.8 2125.9,698.8 2127.2,698.9 2128.5,698.9 2129.8,698.9 2131.1,698.9 2132.4,698.9 2133.7,698.9" fill="none" stroke="#000" stroke-width="2.8" stroke-linejoin="round"/></g><rect x="1226.9" y="48.8" width="906.7999999999997" height="669.2" fill="none" stroke="#000" stroke-width="3.3"/><line x1="1243.1" y1="718.0" x2="1243.1" y2="710.5" stroke="#000" stroke-width="2.8"/><line x1="1324.1" y1="718.0" x2="1324.1" y2="703.0" stroke="#000" stroke-width="2.8"/><line x1="1405.0" y1="718.0" x2="1405.0" y2="710.5" stroke="#000" stroke-width="2.8"/><line x1="1486.0" y1="718.0" x2="1486.0" y2="703.0" stroke="#000" stroke-width="2.8"/><line x1="1567.0" y1="718.0" x2="1567.0" y2="710.5" stroke="#000" stroke-width="2.8"/><line x1="1647.9" y1="718.0" x2="1647.9" y2="703.0" stroke="#000" stroke-width="2.8"/><line x1="1728.9" y1="718.0" x2="1728.9" y2="710.5" stroke="#000" stroke-width="2.8"/><line x1="1809.8" y1="718.0" x2="1809.8" y2="703.0" stroke="#000" stroke-width="2.8"/><line x1="1890.8" y1="718.0" x2="1890.8" y2="710.5" stroke="#000" stroke-width="2.8"/><line x1="1971.8" y1="718.0" x2="1971.8" y2="703.0" stroke="#000" stroke-width="2.8"/><line x1="2052.7" y1="718.0" x2="2052.7" y2="710.5" stroke="#000" stroke-width="2.8"/><text x="1324.1" y="768.0" font-family="'Liberation Serif','Times New Roman',serif" font-size="44" text-anchor="middle">15</text><text x="1486.0" y="768.0" font-family="'Liberation Serif','Times New Roman',serif" font-size="44" text-anchor="middle">20</text><text x="1647.9" y="768.0" font-family="'Liberation Serif','Times New Roman',serif" font-size="44" text-anchor="middle">25</text><text x="1809.8" y="768.0" font-family="'Liberation Serif','Times New Roman',serif" font-size="44" text-anchor="middle">30</text><text x="1971.8" y="768.0" font-family="'Liberation Serif','Times New Roman',serif" font-size="44" text-anchor="middle">35</text><text x="2133.7" y="768.0" font-family="'Liberation Serif','Times New Roman',serif" font-size="44" text-anchor="middle">40</text><text x="1585.5" y="826.1" font-family="'Liberation Serif','Times New Roman',serif" font-size="45.5">2<tspan dx="2.3">θ</tspan><tspan dx="0.5"> (degree)</tspan></text><text transform="translate(1186.9,508.2) rotate(-90)" font-family="'Liberation Serif','Times New Roman',serif" font-size="45.6">Intensity (a.u.)</text><line x1="1234.1" y1="82.0" x2="1337.2" y2="82.0" stroke="#000" stroke-width="3.4"/><text x="1349.9" y="97.5" font-family="'Liberation Serif','Times New Roman',serif" font-size="45">Experimental data</text><line x1="1234.1" y1="138.5" x2="1337.2" y2="138.5" stroke="#14108a" stroke-width="3.4"/><text x="1349.9" y="153.2" font-family="'Liberation Serif','Times New Roman',serif" font-size="45">Graphitic region</text><line x1="1234.1" y1="194.2" x2="1337.2" y2="194.2" stroke="#b82a2e" stroke-width="3.4"/><text x="1349.9" y="208.8" font-family="'Liberation Serif','Times New Roman',serif" font-size="45">Disordered region</text><text x="1715.2" y="153.2" font-family="'Liberation Serif','Times New Roman',serif" font-size="45">63.6 %</text><text x="1715.2" y="208.8" font-family="'Liberation Serif','Times New Roman',serif" font-size="45">36.4 %</text><clipPath id="c2"><rect x="191.0" y="878.3" width="909.7" height="670.5"/></clipPath><g clip-path="url(#c2)"><polyline points="191.0,1489.7 191.6,1514.3 192.3,1505.4 192.9,1489.7 193.6,1534.8 194.2,1524.2 194.9,1532.6 195.5,1519.5 196.2,1533.7 196.8,1536.4 197.5,1494.6 198.1,1504.8 198.8,1525.9 199.4,1537.2 200.1,1538.8 200.7,1511.8 201.4,1533.6 202.0,1533.4 202.7,1515.6 203.3,1538.2 204.0,1538.7 204.6,1537.1 205.3,1537.5 205.9,1536.1 206.6,1527.0 207.2,1526.5 207.9,1522.4 208.5,1530.4 209.2,1531.3 209.8,1520.0 210.5,1525.3 211.1,1533.5 211.8,1535.2 212.4,1535.4 213.1,1518.8 213.7,1521.6 214.4,1537.1 215.0,1538.0 215.7,1489.8 216.3,1536.0 217.0,1529.0 217.6,1535.7 218.3,1523.9 218.9,1538.8 219.6,1516.5 220.2,1537.3 220.9,1537.9 221.5,1495.3 222.2,1529.4 222.8,1509.0 223.5,1524.9 224.1,1538.2 224.8,1531.4 225.4,1538.6 226.1,1536.7 226.7,1482.1 227.4,1526.7 228.0,1516.0 228.7,1528.2 229.3,1509.7 230.0,1535.8 230.6,1504.5 231.3,1537.2 231.9,1478.7 232.6,1516.1 233.2,1529.8 233.9,1533.0 234.5,1539.0 235.2,1514.5 235.8,1531.8 236.5,1514.0 237.1,1523.0 237.8,1524.5 238.4,1532.5 239.1,1529.2 239.7,1511.2 240.4,1534.6 241.0,1529.1 241.7,1523.3 242.3,1536.5 243.0,1478.5 243.6,1528.3 244.3,1533.8 244.9,1526.2 245.6,1523.1 246.2,1529.4 246.9,1537.4 247.5,1513.1 248.2,1518.4 248.8,1526.4 249.5,1521.3 250.1,1532.7 250.8,1487.0 251.4,1537.2 252.1,1502.9 252.7,1516.9 253.4,1535.6 254.0,1530.6 254.7,1534.4 255.3,1535.6 256.0,1536.8 256.6,1531.8 257.3,1521.8 257.9,1512.7 258.6,1513.6 259.2,1524.2 259.9,1509.6 260.5,1513.3 261.2,1531.2 261.8,1515.2 262.5,1523.0 263.1,1528.4 263.8,1527.5 264.4,1527.7 265.1,1523.9 265.7,1536.1 266.4,1524.5 267.0,1518.1 267.7,1532.0 268.3,1529.8 269.0,1538.4 269.6,1526.2 270.3,1537.8 270.9,1525.4 271.6,1537.1 272.2,1498.7 272.9,1538.0 273.5,1530.3 274.2,1537.3 274.8,1512.2 275.5,1537.8 276.1,1528.9 276.8,1535.9 277.4,1531.2 278.1,1527.4 278.7,1528.3 279.4,1535.7 280.0,1515.4 280.7,1527.9 281.3,1513.9 282.0,1523.3 282.6,1523.0 283.3,1528.6 283.9,1529.4 284.6,1528.5 285.2,1532.5 285.9,1529.2 286.5,1536.1 287.2,1504.8 287.8,1517.8 288.5,1533.7 289.1,1535.8 289.8,1508.6 290.4,1527.3 291.1,1523.0 291.7,1524.2 292.4,1532.2 293.0,1534.6 293.7,1516.2 294.3,1533.4 295.0,1529.9 295.6,1536.1 296.3,1526.8 296.9,1532.9 297.6,1524.0 298.2,1535.6 298.9,1531.7 299.5,1526.4 300.2,1524.4 300.8,1526.1 301.5,1521.3 302.1,1490.7 302.8,1527.2 303.4,1507.9 304.1,1518.8 304.7,1537.3 305.4,1517.4 306.0,1530.7 306.7,1533.2 307.3,1531.6 308.0,1531.1 308.6,1507.5 309.3,1497.2 309.9,1528.1 310.6,1536.1 311.2,1536.3 311.9,1522.6 312.5,1533.6 313.2,1532.7 313.8,1519.8 314.5,1518.8 315.1,1533.4 315.8,1528.7 316.4,1531.7 317.1,1530.2 317.7,1536.3 318.4,1532.7 319.0,1533.4 319.7,1516.7 320.3,1520.8 321.0,1529.9 321.6,1516.2 322.3,1529.0 322.9,1536.7 323.6,1514.0 324.2,1511.9 324.9,1532.9 325.5,1520.4 326.2,1506.0 326.8,1500.7 327.5,1504.6 328.1,1533.0 328.8,1529.1 329.4,1512.2 330.1,1536.5 330.7,1483.7 331.4,1533.2 332.0,1523.5 332.7,1530.2 333.3,1535.3 334.0,1532.1 334.6,1535.7 335.3,1534.9 335.9,1504.2 336.6,1504.4 337.2,1514.7 337.9,1526.7 338.5,1521.3 339.2,1496.7 339.8,1532.5 340.5,1530.9 341.1,1497.7 341.8,1488.3 342.4,1524.3 343.0,1526.6 343.7,1535.8 344.3,1526.4 345.0,1533.7 345.6,1497.9 346.3,1528.5 346.9,1491.1 347.6,1527.0 348.2,1535.0 348.9,1520.1 349.5,1533.9 350.2,1525.3 350.8,1506.7 351.5,1531.3 352.1,1535.6 352.8,1514.4 353.4,1535.7 354.1,1513.2 354.7,1514.6 355.4,1520.5 356.0,1530.5 356.7,1533.2 357.3,1529.8 358.0,1524.4 358.6,1516.7 359.3,1532.6 359.9,1475.6 360.6,1535.2 361.2,1533.1 361.9,1532.5 362.5,1520.9 363.2,1506.4 363.8,1530.7 364.5,1526.9 365.1,1532.2 365.8,1496.5 366.4,1530.7 367.1,1524.5 367.7,1513.7 368.4,1528.3 369.0,1535.5 369.7,1505.9 370.3,1531.9 371.0,1533.0 371.6,1478.7 372.3,1504.3 372.9,1528.5 373.6,1525.9 374.2,1512.7 374.9,1531.2 375.5,1505.6 376.2,1526.9 376.8,1525.6 377.5,1513.7 378.1,1521.5 378.8,1521.7 379.4,1533.4 380.1,1531.5 380.7,1524.6 381.4,1526.3 382.0,1529.7 382.7,1474.5 383.3,1510.1 384.0,1530.3 384.6,1528.4 385.3,1524.0 385.9,1491.9 386.6,1520.6 387.2,1525.7 387.9,1525.0 388.5,1516.1 389.2,1516.8 389.8,1507.4 390.5,1526.0 391.1,1503.5 391.8,1513.9 392.4,1520.7 393.1,1530.6 393.7,1524.7 394.4,1520.2 395.0,1532.5 395.7,1530.9 396.3,1532.9 397.0,1491.1 397.6,1504.7 398.3,1523.3 398.9,1518.2 399.6,1523.2 400.2,1516.4 400.9,1531.3 401.5,1530.6 402.2,1495.9 402.8,1521.1 403.5,1533.2 404.1,1533.5 404.8,1519.9 405.4,1514.4 406.1,1524.1 406.7,1498.2 407.4,1533.0 408.0,1501.4 408.7,1522.0 409.3,1532.3 410.0,1528.5 410.6,1532.8 411.3,1526.2 411.9,1517.7 412.6,1515.2 413.2,1524.1 413.9,1525.9 414.5,1525.4 415.2,1525.6 415.8,1532.7 416.5,1530.0 417.1,1524.2 417.8,1501.7 418.4,1491.9 419.1,1519.0 419.7,1529.8 420.4,1523.6 421.0,1512.1 421.7,1489.1 422.3,1529.5 423.0,1503.0 423.6,1511.2 424.3,1522.9 424.9,1499.5 425.6,1513.3 426.2,1518.2 426.9,1530.1 427.5,1514.3 428.2,1516.1 428.8,1530.2 429.5,1531.6 430.1,1502.3 430.8,1516.0 431.4,1495.5 432.1,1523.6 432.7,1513.3 433.4,1530.2 434.0,1516.9 434.7,1482.0 435.3,1488.1 436.0,1513.3 436.6,1520.8 437.3,1521.5 437.9,1525.9 438.6,1512.8 439.2,1526.1 439.9,1525.6 440.5,1520.4 441.2,1521.1 441.8,1490.7 442.5,1520.2 443.1,1514.0 443.8,1511.0 444.4,1528.9 445.1,1518.6 445.7,1497.6 446.4,1507.1 447.0,1512.7 447.7,1511.1 448.3,1526.7 449.0,1525.1 449.6,1522.3 450.3,1524.7 450.9,1516.3 451.6,1514.1 452.2,1495.6 452.9,1511.6 453.5,1523.9 454.2,1527.4 454.8,1514.8 455.5,1521.6 456.1,1503.3 456.8,1504.3 457.4,1517.8 458.1,1506.6 458.7,1515.0 459.4,1506.9 460.0,1506.5 460.7,1489.8 461.3,1523.4 462.0,1521.4 462.6,1526.5 463.3,1526.8 463.9,1512.1 464.6,1525.1 465.2,1517.0 465.9,1493.8 466.5,1526.2 467.2,1520.4 467.8,1465.6 468.5,1526.2 469.1,1497.6 469.8,1525.7 470.4,1494.6 471.1,1521.9 471.7,1509.4 472.4,1511.8 473.0,1521.4 473.7,1469.1 474.3,1512.2 475.0,1513.3 475.6,1509.2 476.3,1523.2 476.9,1512.1 477.6,1514.0 478.2,1523.5 478.9,1516.4 479.5,1495.6 480.2,1497.9 480.8,1523.9 481.5,1504.6 482.1,1499.3 482.8,1462.3 483.4,1519.8 484.1,1522.3 484.7,1516.4 485.4,1471.8 486.0,1461.5 486.7,1519.9 487.3,1512.8 488.0,1511.5 488.6,1506.3 489.3,1517.8 489.9,1499.5 490.6,1515.5 491.2,1482.9 491.9,1507.8 492.5,1474.9 493.2,1484.4 493.8,1510.2 494.4,1517.2 495.1,1514.3 495.7,1518.2 496.4,1511.7 497.0,1512.4 497.7,1509.3 498.3,1513.2 499.0,1502.4 499.6,1516.6 500.3,1514.7 500.9,1516.4 501.6,1515.5 502.2,1516.5 502.9,1507.3 503.5,1492.8 504.2,1507.5 504.8,1479.5 505.5,1515.5 506.1,1509.6 506.8,1506.5 507.4,1513.0 508.1,1483.9 508.7,1514.1 509.4,1508.9 510.0,1511.5 510.7,1511.4 511.3,1504.8 512.0,1512.7 512.6,1508.2 513.3,1510.2 513.9,1502.0 514.6,1486.4 515.2,1509.1 515.9,1450.4 516.5,1504.6 517.2,1501.2 517.8,1489.5 518.5,1506.8 519.1,1505.5 519.8,1507.7 520.4,1493.4 521.1,1507.3 521.7,1504.9 522.4,1505.8 523.0,1493.8 523.7,1496.2 524.3,1502.8 525.0,1507.3 525.6,1504.0 526.3,1481.6 526.9,1485.3 527.6,1500.8 528.2,1489.9 528.9,1489.9 529.5,1500.6 530.2,1499.7 530.8,1492.4 531.5,1490.4 532.1,1489.7 532.8,1496.7 533.4,1492.3 534.1,1495.0 534.7,1493.8 535.4,1488.5 536.0,1467.3 536.7,1484.6 537.3,1496.7 538.0,1489.9 538.6,1493.5 539.3,1492.9 539.9,1490.7 540.6,1475.0 541.2,1494.0 541.9,1468.5 542.5,1471.3 543.2,1493.0 543.8,1483.7 544.5,1485.9 545.1,1488.1 545.8,1469.7 546.4,1488.8 547.1,1469.2 547.7,1484.5 548.4,1466.0 549.0,1487.2 549.7,1484.4 550.3,1462.5 551.0,1481.5 551.6,1470.9 552.3,1468.0 552.9,1463.1 553.6,1479.9 554.2,1418.0 554.9,1474.5 555.5,1446.8 556.2,1475.8 556.8,1473.0 557.5,1459.4 558.1,1428.7 558.8,1473.1 559.4,1426.5 560.1,1473.0 560.7,1460.8 561.4,1457.1 562.0,1466.9 562.7,1461.6 563.3,1452.7 564.0,1458.7 564.6,1451.1 565.3,1452.7 565.9,1458.9 566.6,1451.5 567.2,1448.4 567.9,1443.7 568.5,1444.2 569.2,1457.9 569.8,1414.2 570.5,1453.4 571.1,1441.0 571.8,1444.0 572.4,1444.9 573.1,1449.7 573.7,1446.6 574.4,1413.7 575.0,1428.9 575.7,1441.0 576.3,1438.5 577.0,1429.9 577.6,1423.2 578.3,1406.0 578.9,1421.2 579.6,1427.4 580.2,1429.7 580.9,1428.6 581.5,1426.9 582.2,1427.7 582.8,1423.7 583.5,1408.0 584.1,1399.8 584.8,1413.5 585.4,1373.5 586.1,1414.6 586.7,1350.3 587.4,1407.2 588.0,1408.7 588.7,1408.3 589.3,1370.2 590.0,1393.9 590.6,1393.1 591.3,1380.9 591.9,1360.8 592.6,1393.6 593.2,1380.6 593.9,1388.2 594.5,1373.8 595.2,1389.1 595.8,1382.6 596.5,1377.1 597.1,1373.1 597.8,1342.3 598.4,1361.6 599.1,1371.7 599.7,1352.6 600.4,1361.7 601.0,1364.0 601.7,1363.4 602.3,1362.0 603.0,1362.8 603.6,1360.8 604.3,1309.9 604.9,1335.2 605.6,1344.8 606.2,1314.5 606.9,1345.5 607.5,1344.2 608.2,1319.4 608.8,1335.4 609.5,1320.6 610.1,1332.0 610.8,1309.9 611.4,1324.7 612.1,1288.1 612.7,1312.3 613.4,1307.8 614.0,1303.7 614.7,1312.0 615.3,1269.4 616.0,1301.3 616.6,1230.3 617.3,1280.7 617.9,1282.5 618.6,1285.4 619.2,1276.5 619.9,1280.0 620.5,1264.6 621.2,1263.8 621.8,1266.9 622.5,1245.2 623.1,1238.5 623.8,1245.7 624.4,1244.2 625.1,1238.3 625.7,1234.9 626.4,1238.1 627.0,1225.9 627.7,1226.1 628.3,1218.7 629.0,1220.0 629.6,1203.9 630.3,1202.5 630.9,1186.5 631.6,1188.7 632.2,1189.4 632.9,1183.8 633.5,1164.4 634.2,1174.1 634.8,1134.4 635.5,1152.1 636.1,1161.1 636.8,1146.6 637.4,1129.1 638.1,1133.4 638.7,1141.3 639.4,1125.2 640.0,1132.1 640.7,1099.7 641.3,1079.9 642.0,1106.6 642.6,1107.2 643.3,1097.5 643.9,1112.8 644.6,1121.4 645.2,1111.4 645.8,1123.3 646.5,1110.1 647.1,1106.1 647.8,1125.2 648.4,1133.7 649.1,1126.2 649.7,1137.8 650.4,1141.2 651.0,1121.4 651.7,1144.7 652.3,1120.3 653.0,1150.2 653.6,1083.1 654.3,1146.2 654.9,1151.0 655.6,1154.4 656.2,1177.6 656.9,1147.4 657.5,1169.5 658.2,1194.2 658.8,1166.7 659.5,1188.8 660.1,1200.6 660.8,1206.9 661.4,1215.2 662.1,1222.2 662.7,1203.0 663.4,1237.4 664.0,1239.4 664.7,1235.7 665.3,1241.0 666.0,1236.9 666.6,1229.2 667.3,1264.0 667.9,1255.1 668.6,1258.3 669.2,1272.6 669.9,1271.0 670.5,1232.9 671.2,1277.8 671.8,1302.5 672.5,1294.2 673.1,1313.0 673.8,1321.0 674.4,1298.1 675.1,1308.1 675.7,1309.3 676.4,1343.1 677.0,1344.0 677.7,1347.0 678.3,1350.8 679.0,1348.2 679.6,1337.3 680.3,1360.3 680.9,1349.5 681.6,1353.8 682.2,1368.2 682.9,1378.9 683.5,1389.8 684.2,1393.5 684.8,1384.2 685.5,1380.0 686.1,1397.1 686.8,1387.1 687.4,1396.2 688.1,1398.1 688.7,1408.3 689.4,1394.1 690.0,1421.7 690.7,1408.8 691.3,1427.1 692.0,1427.4 692.6,1421.2 693.3,1422.8 693.9,1414.1 694.6,1418.8 695.2,1441.2 695.9,1445.3 696.5,1412.0 697.2,1441.0 697.8,1431.2 698.5,1409.9 699.1,1432.2 699.8,1444.1 700.4,1443.2 701.1,1462.0 701.7,1453.7 702.4,1456.5 703.0,1454.1 703.7,1437.6 704.3,1467.0 705.0,1445.0 705.6,1446.3 706.3,1462.9 706.9,1473.3 707.6,1469.6 708.2,1456.6 708.9,1472.7 709.5,1441.3 710.2,1470.3 710.8,1479.9 711.5,1465.3 712.1,1458.2 712.8,1472.7 713.4,1481.0 714.1,1479.2 714.7,1489.1 715.4,1487.9 716.0,1480.2 716.7,1459.9 717.3,1464.4 718.0,1492.7 718.6,1486.1 719.3,1483.5 719.9,1474.4 720.6,1489.0 721.2,1484.4 721.9,1473.7 722.5,1489.3 723.2,1474.4 723.8,1486.5 724.5,1495.4 725.1,1495.8 725.8,1492.7 726.4,1470.9 727.1,1493.9 727.7,1502.2 728.4,1503.4 729.0,1495.1 729.7,1476.4 730.3,1500.4 731.0,1468.6 731.6,1507.4 732.3,1504.6 732.9,1489.0 733.6,1489.8 734.2,1508.9 734.9,1498.2 735.5,1498.1 736.2,1499.8 736.8,1510.0 737.5,1509.2 738.1,1467.3 738.8,1495.4 739.4,1477.7 740.1,1481.3 740.7,1502.7 741.4,1455.2 742.0,1488.6 742.7,1501.3 743.3,1503.5 744.0,1498.0 744.6,1500.6 745.3,1484.2 745.9,1457.9 746.6,1510.4 747.2,1506.1 747.9,1484.8 748.5,1511.2 749.2,1498.9 749.8,1496.1 750.5,1505.2 751.1,1485.2 751.8,1486.9 752.4,1503.8 753.1,1514.1 753.7,1515.8 754.4,1515.7 755.0,1484.2 755.7,1485.5 756.3,1516.5 757.0,1495.3 757.6,1505.7 758.3,1513.8 758.9,1509.2 759.6,1514.5 760.2,1513.4 760.9,1519.2 761.5,1498.8 762.2,1518.9 762.8,1503.0 763.5,1513.5 764.1,1511.5 764.8,1517.5 765.4,1519.7 766.1,1512.1 766.7,1491.0 767.4,1490.0 768.0,1506.0 768.7,1496.3 769.3,1515.3 770.0,1518.0 770.6,1486.9 771.3,1510.0 771.9,1523.7 772.6,1517.7 773.2,1520.1 773.9,1520.5 774.5,1505.5 775.2,1524.0 775.8,1521.9 776.5,1500.7 777.1,1512.2 777.8,1517.1 778.4,1478.5 779.1,1519.7 779.7,1497.9 780.4,1521.7 781.0,1493.9 781.7,1522.5 782.3,1473.0 783.0,1505.2 783.6,1524.2 784.3,1516.4 784.9,1505.2 785.6,1521.2 786.2,1474.2 786.9,1500.6 787.5,1522.5 788.2,1516.6 788.8,1505.6 789.5,1510.6 790.1,1522.1 790.8,1510.3 791.4,1514.2 792.1,1524.5 792.7,1496.7 793.4,1508.9 794.0,1488.6 794.7,1523.2 795.3,1515.7 796.0,1523.4 796.6,1519.3 797.3,1526.0 797.9,1517.7 798.5,1502.0 799.2,1526.8 799.8,1517.5 800.5,1523.4 801.1,1523.9 801.8,1518.3 802.4,1527.4 803.1,1507.3 803.7,1526.8 804.4,1518.1 805.0,1527.6 805.7,1525.6 806.3,1518.9 807.0,1512.7 807.6,1517.0 808.3,1516.5 808.9,1524.3 809.6,1519.0 810.2,1520.5 810.9,1520.5 811.5,1526.7 812.2,1529.2 812.8,1523.6 813.5,1527.1 814.1,1513.3 814.8,1520.7 815.4,1512.7 816.1,1527.5 816.7,1526.4 817.4,1517.8 818.0,1526.8 818.7,1500.5 819.3,1524.8 820.0,1496.5 820.6,1530.5 821.3,1510.4 821.9,1531.1 822.6,1524.2 823.2,1528.0 823.9,1486.4 824.5,1527.0 825.2,1531.3 825.8,1509.6 826.5,1508.8 827.1,1519.4 827.8,1520.2 828.4,1525.2 829.1,1524.5 829.7,1515.5 830.4,1487.3 831.0,1510.2 831.7,1530.4 832.3,1520.3 833.0,1518.6 833.6,1527.5 834.3,1516.6 834.9,1519.8 835.6,1522.6 836.2,1504.4 836.9,1515.3 837.5,1513.3 838.2,1528.1 838.8,1527.3 839.5,1528.5 840.1,1499.3 840.8,1527.6 841.4,1511.1 842.1,1505.2 842.7,1519.4 843.4,1510.6 844.0,1517.9 844.7,1524.3 845.3,1508.6 846.0,1528.1 846.6,1522.9 847.3,1525.0 847.9,1512.8 848.6,1514.6 849.2,1502.9 849.9,1518.7 850.5,1518.3 851.2,1514.6 851.8,1529.8 852.5,1499.6 853.1,1502.7 853.8,1519.3 854.4,1519.9 855.1,1515.3 855.7,1504.4 856.4,1526.8 857.0,1521.2 857.7,1501.7 858.3,1515.2 859.0,1509.7 859.6,1531.5 860.3,1514.6 860.9,1490.5 861.6,1505.3 862.2,1530.7 862.9,1514.2 863.5,1523.6 864.2,1528.8 864.8,1514.4 865.5,1522.3 866.1,1528.5 866.8,1514.2 867.4,1517.9 868.1,1500.7 868.7,1527.2 869.4,1528.0 870.0,1527.0 870.7,1526.3 871.3,1529.2 872.0,1529.2 872.6,1528.9 873.3,1510.2 873.9,1533.1 874.6,1528.0 875.2,1522.1 875.9,1524.9 876.5,1518.4 877.2,1531.0 877.8,1531.1 878.5,1505.2 879.1,1532.3 879.8,1509.3 880.4,1524.3 881.1,1523.8 881.7,1525.7 882.4,1526.1 883.0,1524.8 883.7,1519.9 884.3,1532.5 885.0,1533.2 885.6,1517.3 886.3,1524.2 886.9,1526.5 887.6,1513.0 888.2,1529.8 888.9,1526.7 889.5,1527.3 890.2,1522.0 890.8,1518.8 891.5,1528.6 892.1,1518.0 892.8,1520.8 893.4,1526.9 894.1,1529.1 894.7,1530.0 895.4,1518.1 896.0,1526.2 896.7,1530.0 897.3,1506.5 898.0,1523.7 898.6,1517.9 899.3,1512.8 899.9,1527.6 900.6,1528.5 901.2,1500.3 901.9,1528.7 902.5,1532.3 903.2,1528.1 903.8,1523.8 904.5,1530.7 905.1,1519.1 905.8,1517.9 906.4,1535.6 907.1,1528.6 907.7,1524.5 908.4,1516.3 909.0,1518.7 909.7,1522.6 910.3,1524.7 911.0,1526.9 911.6,1530.7 912.3,1519.9 912.9,1525.7 913.6,1522.5 914.2,1518.8 914.9,1527.1 915.5,1530.2 916.2,1519.8 916.8,1520.1 917.5,1524.6 918.1,1507.2 918.8,1523.9 919.4,1514.5 920.1,1522.4 920.7,1529.6 921.4,1529.0 922.0,1530.2 922.7,1529.9 923.3,1500.0 924.0,1512.1 924.6,1527.5 925.3,1522.6 925.9,1525.1 926.6,1528.9 927.2,1520.9 927.9,1528.5 928.5,1529.7 929.2,1527.3 929.8,1526.2 930.5,1530.7 931.1,1528.5 931.8,1529.8 932.4,1531.3 933.1,1526.3 933.7,1534.6 934.4,1532.2 935.0,1524.9 935.7,1514.4 936.3,1535.3 937.0,1522.8 937.6,1514.2 938.3,1529.5 938.9,1522.5 939.6,1504.0 940.2,1519.9 940.9,1526.1 941.5,1527.2 942.2,1522.2 942.8,1519.1 943.5,1530.8 944.1,1522.5 944.8,1524.5 945.4,1526.2 946.1,1526.3 946.7,1528.8 947.4,1518.4 948.0,1528.7 948.7,1527.9 949.3,1528.6 949.9,1531.2 950.6,1528.3 951.2,1519.6 951.9,1531.7 952.5,1520.5 953.2,1515.7 953.8,1515.2 954.5,1514.1 955.1,1534.9 955.8,1517.8 956.4,1532.4 957.1,1524.3 957.7,1532.2 958.4,1534.0 959.0,1530.9 959.7,1524.2 960.3,1526.6 961.0,1529.4 961.6,1533.9 962.3,1500.8 962.9,1511.5 963.6,1528.6 964.2,1529.3 964.9,1527.1 965.5,1532.0 966.2,1533.6 966.8,1524.6 967.5,1522.2 968.1,1527.8 968.8,1533.9 969.4,1500.0 970.1,1524.1 970.7,1516.5 971.4,1527.7 972.0,1519.8 972.7,1523.6 973.3,1529.5 974.0,1525.6 974.6,1511.5 975.3,1532.7 975.9,1531.4 976.6,1501.5 977.2,1529.3 977.9,1517.1 978.5,1512.3 979.2,1520.3 979.8,1526.1 980.5,1521.0 981.1,1524.3 981.8,1531.1 982.4,1510.4 983.1,1530.7 983.7,1525.8 984.4,1517.5 985.0,1525.2 985.7,1528.4 986.3,1524.4 987.0,1519.6 987.6,1527.2 988.3,1525.5 988.9,1509.6 989.6,1525.6 990.2,1531.6 990.9,1526.1 991.5,1521.8 992.2,1528.9 992.8,1521.2 993.5,1520.5 994.1,1518.1 994.8,1520.8 995.4,1526.9 996.1,1524.1 996.7,1527.6 997.4,1524.8 998.0,1530.0 998.7,1535.4 999.3,1526.6 1000.0,1534.2 1000.6,1525.4 1001.3,1522.6 1001.9,1525.9 1002.6,1524.4 1003.2,1533.5 1003.9,1511.6 1004.5,1512.9 1005.2,1534.4 1005.8,1529.9 1006.5,1535.8 1007.1,1531.8 1007.8,1525.8 1008.4,1526.7 1009.1,1517.3 1009.7,1526.6 1010.4,1522.7 1011.0,1519.9 1011.7,1523.1 1012.3,1517.9 1013.0,1530.1 1013.6,1535.4 1014.3,1520.5 1014.9,1532.9 1015.6,1516.1 1016.2,1517.3 1016.9,1524.5 1017.5,1528.3 1018.2,1520.6 1018.8,1524.5 1019.5,1531.1 1020.1,1516.3 1020.8,1527.8 1021.4,1528.8 1022.1,1521.8 1022.7,1511.3 1023.4,1535.1 1024.0,1526.1 1024.7,1531.4 1025.3,1525.3 1026.0,1513.7 1026.6,1531.2 1027.3,1511.3 1027.9,1533.1 1028.6,1527.9 1029.2,1516.7 1029.9,1517.4 1030.5,1531.8 1031.2,1527.9 1031.8,1527.5 1032.5,1530.8 1033.1,1522.8 1033.8,1532.9 1034.4,1529.1 1035.1,1527.8 1035.7,1528.5 1036.4,1535.7 1037.0,1525.9 1037.7,1525.5 1038.3,1526.6 1039.0,1530.4 1039.6,1522.6 1040.3,1516.1 1040.9,1523.2 1041.6,1534.3 1042.2,1527.3 1042.9,1531.5 1043.5,1526.9 1044.2,1521.6 1044.8,1535.6 1045.5,1530.0 1046.1,1537.0 1046.8,1526.7 1047.4,1527.1 1048.1,1519.6 1048.7,1516.2 1049.4,1531.7 1050.0,1513.9 1050.7,1530.3 1051.3,1524.8 1052.0,1521.5 1052.6,1524.5 1053.3,1533.6 1053.9,1523.2 1054.6,1521.2 1055.2,1517.3 1055.9,1529.0 1056.5,1527.8 1057.2,1511.7 1057.8,1533.2 1058.5,1521.4 1059.1,1518.3 1059.8,1532.2 1060.4,1531.9 1061.1,1519.9 1061.7,1530.0 1062.4,1521.9 1063.0,1532.3 1063.7,1529.0 1064.3,1536.1 1065.0,1514.0 1065.6,1520.1 1066.3,1522.5 1066.9,1536.2 1067.6,1509.6 1068.2,1516.9 1068.9,1523.4 1069.5,1533.1 1070.2,1530.0 1070.8,1521.3 1071.5,1530.2 1072.1,1520.7 1072.8,1530.7 1073.4,1527.9 1074.1,1535.8 1074.7,1528.1 1075.4,1527.8 1076.0,1529.3 1076.7,1531.4 1077.3,1524.8 1078.0,1529.0 1078.6,1524.7 1079.3,1528.2 1079.9,1532.9 1080.6,1524.7 1081.2,1537.1 1081.9,1514.2 1082.5,1529.5 1083.2,1535.3 1083.8,1524.9 1084.5,1528.2 1085.1,1529.9 1085.8,1523.5 1086.4,1535.4 1087.1,1518.6 1087.7,1530.4 1088.4,1529.1 1089.0,1528.7 1089.7,1530.0 1090.3,1534.1 1091.0,1522.8 1091.6,1526.0 1092.3,1528.8 1092.9,1521.6 1093.6,1523.6 1094.2,1527.2 1094.9,1514.1 1095.5,1524.0 1096.2,1528.7 1096.8,1527.2 1097.5,1530.6 1098.1,1514.9 1098.8,1527.0 1099.4,1533.9 1100.1,1530.0 1100.7,1511.6" fill="none" stroke="#111" stroke-width="1.5" stroke-linejoin="round"/><polyline points="191.0,1526.7 192.3,1526.7 193.6,1526.7 194.9,1526.7 196.2,1526.7 197.5,1526.6 198.8,1526.6 200.1,1526.6 201.4,1526.6 202.7,1526.6 204.0,1526.6 205.3,1526.6 206.6,1526.6 207.9,1526.6 209.2,1526.6 210.5,1526.6 211.8,1526.6 213.1,1526.6 214.4,1526.6 215.7,1526.6 217.0,1526.6 218.3,1526.6 219.6,1526.6 220.9,1526.6 222.2,1526.5 223.5,1526.5 224.8,1526.5 226.1,1526.5 227.4,1526.5 228.7,1526.5 230.0,1526.5 231.3,1526.5 232.6,1526.5 233.9,1526.5 235.2,1526.5 236.5,1526.5 237.8,1526.5 239.1,1526.5 240.4,1526.5 241.7,1526.5 243.0,1526.4 244.3,1526.4 245.6,1526.4 246.9,1526.4 248.2,1526.4 249.5,1526.4 250.8,1526.4 252.1,1526.4 253.4,1526.4 254.7,1526.4 256.0,1526.4 257.3,1526.4 258.6,1526.4 259.9,1526.4 261.2,1526.3 262.5,1526.3 263.8,1526.3 265.1,1526.3 266.4,1526.3 267.7,1526.3 269.0,1526.3 270.3,1526.3 271.6,1526.3 272.9,1526.3 274.2,1526.3 275.5,1526.3 276.8,1526.2 278.1,1526.2 279.4,1526.2 280.7,1526.2 282.0,1526.2 283.3,1526.2 284.6,1526.2 285.9,1526.2 287.2,1526.2 288.5,1526.2 289.8,1526.2 291.1,1526.1 292.4,1526.1 293.7,1526.1 295.0,1526.1 296.3,1526.1 297.6,1526.1 298.9,1526.1 300.2,1526.1 301.5,1526.1 302.8,1526.0 304.1,1526.0 305.4,1526.0 306.7,1526.0 308.0,1526.0 309.3,1526.0 310.6,1526.0 311.9,1526.0 313.2,1526.0 314.5,1525.9 315.8,1525.9 317.1,1525.9 318.4,1525.9 319.7,1525.9 321.0,1525.9 322.3,1525.9 323.6,1525.9 324.9,1525.8 326.2,1525.8 327.5,1525.8 328.8,1525.8 330.1,1525.8 331.4,1525.8 332.7,1525.8 334.0,1525.7 335.3,1525.7 336.6,1525.7 337.9,1525.7 339.2,1525.7 340.5,1525.7 341.8,1525.7 343.0,1525.6 344.3,1525.6 345.6,1525.6 346.9,1525.6 348.2,1525.6 349.5,1525.6 350.8,1525.5 352.1,1525.5 353.4,1525.5 354.7,1525.5 356.0,1525.5 357.3,1525.5 358.6,1525.4 359.9,1525.4 361.2,1525.4 362.5,1525.4 363.8,1525.4 365.1,1525.3 366.4,1525.3 367.7,1525.3 369.0,1525.3 370.3,1525.3 371.6,1525.2 372.9,1525.2 374.2,1525.2 375.5,1525.2 376.8,1525.1 378.1,1525.1 379.4,1525.1 380.7,1525.1 382.0,1525.1 383.3,1525.0 384.6,1525.0 385.9,1525.0 387.2,1525.0 388.5,1524.9 389.8,1524.9 391.1,1524.9 392.4,1524.8 393.7,1524.8 395.0,1524.8 396.3,1524.8 397.6,1524.7 398.9,1524.7 400.2,1524.7 401.5,1524.6 402.8,1524.6 404.1,1524.6 405.4,1524.6 406.7,1524.5 408.0,1524.5 409.3,1524.5 410.6,1524.4 411.9,1524.4 413.2,1524.4 414.5,1524.3 415.8,1524.3 417.1,1524.2 418.4,1524.2 419.7,1524.2 421.0,1524.1 422.3,1524.1 423.6,1524.1 424.9,1524.0 426.2,1524.0 427.5,1523.9 428.8,1523.9 430.1,1523.8 431.4,1523.8 432.7,1523.8 434.0,1523.7 435.3,1523.7 436.6,1523.6 437.9,1523.6 439.2,1523.5 440.5,1523.5 441.8,1523.4 443.1,1523.4 444.4,1523.3 445.7,1523.3 447.0,1523.2 448.3,1523.2 449.6,1523.1 450.9,1523.0 452.2,1523.0 453.5,1522.9 454.8,1522.9 456.1,1522.8 457.4,1522.7 458.7,1522.7 460.0,1522.6 461.3,1522.5 462.6,1522.5 463.9,1522.4 465.2,1522.3 466.5,1522.2 467.8,1522.2 469.1,1522.1 470.4,1522.0 471.7,1521.9 473.0,1521.8 474.3,1521.8 475.6,1521.7 476.9,1521.6 478.2,1521.5 479.5,1521.4 480.8,1521.3 482.1,1521.2 483.4,1521.1 484.7,1521.0 486.0,1520.9 487.3,1520.8 488.6,1520.7 489.9,1520.6 491.2,1520.5 492.5,1520.3 493.8,1520.2 495.1,1520.1 496.4,1520.0 497.7,1519.8 499.0,1519.7 500.3,1519.6 501.6,1519.4 502.9,1519.3 504.2,1519.1 505.5,1519.0 506.8,1518.8 508.1,1518.7 509.4,1518.5 510.7,1518.3 512.0,1518.2 513.3,1518.0 514.6,1517.8 515.9,1517.6 517.2,1517.4 518.5,1517.2 519.8,1517.0 521.1,1516.8 522.4,1516.6 523.7,1516.3 525.0,1516.1 526.3,1515.9 527.6,1515.6 528.9,1515.4 530.2,1515.1 531.5,1514.8 532.8,1514.5 534.1,1514.2 535.4,1513.9 536.7,1513.6 538.0,1513.3 539.3,1513.0 540.6,1512.6 541.9,1512.3 543.2,1511.9 544.5,1511.5 545.8,1511.1 547.1,1510.7 548.4,1510.3 549.7,1509.8 551.0,1509.3 552.3,1508.9 553.6,1508.4 554.9,1507.8 556.2,1507.3 557.5,1506.7 558.8,1506.1 560.1,1505.5 561.4,1504.9 562.7,1504.2 564.0,1503.5 565.3,1502.8 566.6,1502.0 567.9,1501.2 569.2,1500.4 570.5,1499.5 571.8,1498.6 573.1,1497.7 574.4,1496.7 575.7,1495.6 577.0,1494.5 578.3,1493.3 579.6,1492.1 580.9,1490.8 582.2,1489.4 583.5,1487.9 584.8,1486.4 586.1,1484.8 587.4,1483.0 588.7,1481.2 590.0,1479.2 591.3,1477.2 592.6,1475.0 593.9,1472.6 595.2,1470.1 596.5,1467.4 597.8,1464.5 599.1,1461.4 600.4,1458.1 601.7,1454.6 603.0,1450.8 604.3,1446.7 605.6,1442.3 606.9,1437.6 608.2,1432.6 609.5,1427.2 610.8,1421.4 612.1,1415.2 613.4,1408.5 614.7,1401.4 616.0,1393.8 617.3,1385.6 618.6,1377.0 619.9,1367.7 621.2,1357.9 622.5,1347.5 623.8,1336.5 625.1,1325.0 626.4,1312.9 627.7,1300.4 629.0,1287.4 630.3,1274.1 631.6,1260.6 632.9,1247.0 634.2,1233.6 635.5,1220.6 636.8,1208.2 638.1,1196.7 639.4,1186.5 640.7,1177.9 642.0,1171.0 643.3,1166.2 644.6,1163.6 645.8,1163.3 647.1,1164.3 648.4,1166.6 649.7,1169.9 651.0,1174.4 652.3,1179.9 653.6,1186.3 654.9,1193.5 656.2,1201.4 657.5,1210.0 658.8,1219.1 660.1,1228.5 661.4,1238.3 662.7,1248.3 664.0,1258.5 665.3,1268.7 666.6,1278.9 667.9,1289.0 669.2,1299.1 670.5,1309.0 671.8,1318.7 673.1,1328.2 674.4,1337.4 675.7,1346.4 677.0,1355.0 678.3,1363.4 679.6,1371.5 680.9,1379.3 682.2,1386.7 683.5,1393.8 684.8,1400.6 686.1,1407.1 687.4,1413.3 688.7,1419.2 690.0,1424.7 691.3,1430.0 692.6,1435.0 693.9,1439.7 695.2,1444.1 696.5,1448.3 697.8,1452.3 699.1,1456.0 700.4,1459.4 701.7,1462.7 703.0,1465.8 704.3,1468.6 705.6,1471.3 706.9,1473.8 708.2,1476.2 709.5,1478.4 710.8,1480.5 712.1,1482.4 713.4,1484.2 714.7,1485.9 716.0,1487.5 717.3,1489.0 718.6,1490.4 719.9,1491.8 721.2,1493.0 722.5,1494.2 723.8,1495.3 725.1,1496.3 726.4,1497.3 727.7,1498.3 729.0,1499.1 730.3,1500.0 731.6,1500.8 732.9,1501.5 734.2,1502.3 735.5,1503.0 736.8,1503.6 738.1,1504.3 739.4,1504.9 740.7,1505.4 742.0,1506.0 743.3,1506.5 744.6,1507.0 745.9,1507.5 747.2,1508.0 748.5,1508.5 749.8,1508.9 751.1,1509.3 752.4,1509.7 753.7,1510.1 755.0,1510.5 756.3,1510.9 757.6,1511.2 758.9,1511.6 760.2,1511.9 761.5,1512.3 762.8,1512.6 764.1,1512.9 765.4,1513.2 766.7,1513.5 768.0,1513.7 769.3,1514.0 770.6,1514.3 771.9,1514.5 773.2,1514.8 774.5,1515.0 775.8,1515.3 777.1,1515.5 778.4,1515.7 779.7,1515.9 781.0,1516.1 782.3,1516.3 783.6,1516.5 784.9,1516.7 786.2,1516.9 787.5,1517.1 788.8,1517.3 790.1,1517.5 791.4,1517.6 792.7,1517.8 794.0,1518.0 795.3,1518.1 796.6,1518.3 797.9,1518.4 799.2,1518.6 800.5,1518.7 801.8,1518.9 803.1,1519.0 804.4,1519.1 805.7,1519.3 807.0,1519.4 808.3,1519.5 809.6,1519.6 810.9,1519.7 812.2,1519.9 813.5,1520.0 814.8,1520.1 816.1,1520.2 817.4,1520.3 818.7,1520.4 820.0,1520.5 821.3,1520.6 822.6,1520.7 823.9,1520.8 825.2,1520.9 826.5,1521.0 827.8,1521.1 829.1,1521.2 830.4,1521.3 831.7,1521.3 833.0,1521.4 834.3,1521.5 835.6,1521.6 836.9,1521.7 838.2,1521.7 839.5,1521.8 840.8,1521.9 842.1,1522.0 843.4,1522.0 844.7,1522.1 846.0,1522.2 847.3,1522.2 848.6,1522.3 849.9,1522.4 851.2,1522.4 852.5,1522.5 853.8,1522.5 855.1,1522.6 856.4,1522.7 857.7,1522.7 859.0,1522.8 860.3,1522.8 861.6,1522.9 862.9,1522.9 864.2,1523.0 865.5,1523.1 866.8,1523.1 868.1,1523.2 869.4,1523.2 870.7,1523.3 872.0,1523.3 873.3,1523.3 874.6,1523.4 875.9,1523.4 877.2,1523.5 878.5,1523.5 879.8,1523.6 881.1,1523.6 882.4,1523.7 883.7,1523.7 885.0,1523.7 886.3,1523.8 887.6,1523.8 888.9,1523.9 890.2,1523.9 891.5,1523.9 892.8,1524.0 894.1,1524.0 895.4,1524.0 896.7,1524.1 898.0,1524.1 899.3,1524.1 900.6,1524.2 901.9,1524.2 903.2,1524.2 904.5,1524.3 905.8,1524.3 907.1,1524.3 908.4,1524.4 909.7,1524.4 911.0,1524.4 912.3,1524.5 913.6,1524.5 914.9,1524.5 916.2,1524.5 917.5,1524.6 918.8,1524.6 920.1,1524.6 921.4,1524.7 922.7,1524.7 924.0,1524.7 925.3,1524.7 926.6,1524.8 927.9,1524.8 929.2,1524.8 930.5,1524.8 931.8,1524.9 933.1,1524.9 934.4,1524.9 935.7,1524.9 937.0,1524.9 938.3,1525.0 939.6,1525.0 940.9,1525.0 942.2,1525.0 943.5,1525.1 944.8,1525.1 946.1,1525.1 947.4,1525.1 948.7,1525.1 949.9,1525.2 951.2,1525.2 952.5,1525.2 953.8,1525.2 955.1,1525.2 956.4,1525.3 957.7,1525.3 959.0,1525.3 960.3,1525.3 961.6,1525.3 962.9,1525.3 964.2,1525.4 965.5,1525.4 966.8,1525.4 968.1,1525.4 969.4,1525.4 970.7,1525.4 972.0,1525.5 973.3,1525.5 974.6,1525.5 975.9,1525.5 977.2,1525.5 978.5,1525.5 979.8,1525.6 981.1,1525.6 982.4,1525.6 983.7,1525.6 985.0,1525.6 986.3,1525.6 987.6,1525.6 988.9,1525.7 990.2,1525.7 991.5,1525.7 992.8,1525.7 994.1,1525.7 995.4,1525.7 996.7,1525.7 998.0,1525.7 999.3,1525.8 1000.6,1525.8 1001.9,1525.8 1003.2,1525.8 1004.5,1525.8 1005.8,1525.8 1007.1,1525.8 1008.4,1525.8 1009.7,1525.9 1011.0,1525.9 1012.3,1525.9 1013.6,1525.9 1014.9,1525.9 1016.2,1525.9 1017.5,1525.9 1018.8,1525.9 1020.1,1525.9 1021.4,1526.0 1022.7,1526.0 1024.0,1526.0 1025.3,1526.0 1026.6,1526.0 1027.9,1526.0 1029.2,1526.0 1030.5,1526.0 1031.8,1526.0 1033.1,1526.0 1034.4,1526.1 1035.7,1526.1 1037.0,1526.1 1038.3,1526.1 1039.6,1526.1 1040.9,1526.1 1042.2,1526.1 1043.5,1526.1 1044.8,1526.1 1046.1,1526.1 1047.4,1526.1 1048.7,1526.2 1050.0,1526.2 1051.3,1526.2 1052.6,1526.2 1053.9,1526.2 1055.2,1526.2 1056.5,1526.2 1057.8,1526.2 1059.1,1526.2 1060.4,1526.2 1061.7,1526.2 1063.0,1526.2 1064.3,1526.3 1065.6,1526.3 1066.9,1526.3 1068.2,1526.3 1069.5,1526.3 1070.8,1526.3 1072.1,1526.3 1073.4,1526.3 1074.7,1526.3 1076.0,1526.3 1077.3,1526.3 1078.6,1526.3 1079.9,1526.3 1081.2,1526.3 1082.5,1526.4 1083.8,1526.4 1085.1,1526.4 1086.4,1526.4 1087.7,1526.4 1089.0,1526.4 1090.3,1526.4 1091.6,1526.4 1092.9,1526.4 1094.2,1526.4 1095.5,1526.4 1096.8,1526.4 1098.1,1526.4 1099.4,1526.4 1100.7,1526.4" fill="none" stroke="#14108a" stroke-width="2.8" stroke-linejoin="round"/><polyline points="191.0,1526.3 192.3,1526.3 193.6,1526.2 194.9,1526.2 196.2,1526.2 197.5,1526.2 198.8,1526.2 200.1,1526.2 201.4,1526.2 202.7,1526.2 204.0,1526.2 205.3,1526.2 206.6,1526.2 207.9,1526.2 209.2,1526.2 210.5,1526.1 211.8,1526.1 213.1,1526.1 214.4,1526.1 215.7,1526.1 217.0,1526.1 218.3,1526.1 219.6,1526.1 220.9,1526.1 222.2,1526.1 223.5,1526.1 224.8,1526.0 226.1,1526.0 227.4,1526.0 228.7,1526.0 230.0,1526.0 231.3,1526.0 232.6,1526.0 233.9,1526.0 235.2,1526.0 236.5,1526.0 237.8,1525.9 239.1,1525.9 240.4,1525.9 241.7,1525.9 243.0,1525.9 244.3,1525.9 245.6,1525.9 246.9,1525.9 248.2,1525.9 249.5,1525.8 250.8,1525.8 252.1,1525.8 253.4,1525.8 254.7,1525.8 256.0,1525.8 257.3,1525.8 258.6,1525.8 259.9,1525.7 261.2,1525.7 262.5,1525.7 263.8,1525.7 265.1,1525.7 266.4,1525.7 267.7,1525.7 269.0,1525.6 270.3,1525.6 271.6,1525.6 272.9,1525.6 274.2,1525.6 275.5,1525.6 276.8,1525.6 278.1,1525.5 279.4,1525.5 280.7,1525.5 282.0,1525.5 283.3,1525.5 284.6,1525.5 285.9,1525.5 287.2,1525.4 288.5,1525.4 289.8,1525.4 291.1,1525.4 292.4,1525.4 293.7,1525.4 295.0,1525.3 296.3,1525.3 297.6,1525.3 298.9,1525.3 300.2,1525.3 301.5,1525.2 302.8,1525.2 304.1,1525.2 305.4,1525.2 306.7,1525.2 308.0,1525.2 309.3,1525.1 310.6,1525.1 311.9,1525.1 313.2,1525.1 314.5,1525.1 315.8,1525.0 317.1,1525.0 318.4,1525.0 319.7,1525.0 321.0,1524.9 322.3,1524.9 323.6,1524.9 324.9,1524.9 326.2,1524.9 327.5,1524.8 328.8,1524.8 330.1,1524.8 331.4,1524.8 332.7,1524.7 334.0,1524.7 335.3,1524.7 336.6,1524.7 337.9,1524.6 339.2,1524.6 340.5,1524.6 341.8,1524.5 343.0,1524.5 344.3,1524.5 345.6,1524.5 346.9,1524.4 348.2,1524.4 349.5,1524.4 350.8,1524.3 352.1,1524.3 353.4,1524.3 354.7,1524.2 356.0,1524.2 357.3,1524.2 358.6,1524.1 359.9,1524.1 361.2,1524.1 362.5,1524.0 363.8,1524.0 365.1,1524.0 366.4,1523.9 367.7,1523.9 369.0,1523.9 370.3,1523.8 371.6,1523.8 372.9,1523.7 374.2,1523.7 375.5,1523.7 376.8,1523.6 378.1,1523.6 379.4,1523.5 380.7,1523.5 382.0,1523.5 383.3,1523.4 384.6,1523.4 385.9,1523.3 387.2,1523.3 388.5,1523.2 389.8,1523.2 391.1,1523.1 392.4,1523.1 393.7,1523.0 395.0,1523.0 396.3,1522.9 397.6,1522.9 398.9,1522.8 400.2,1522.8 401.5,1522.7 402.8,1522.6 404.1,1522.6 405.4,1522.5 406.7,1522.5 408.0,1522.4 409.3,1522.3 410.6,1522.3 411.9,1522.2 413.2,1522.2 414.5,1522.1 415.8,1522.0 417.1,1521.9 418.4,1521.9 419.7,1521.8 421.0,1521.7 422.3,1521.7 423.6,1521.6 424.9,1521.5 426.2,1521.4 427.5,1521.3 428.8,1521.3 430.1,1521.2 431.4,1521.1 432.7,1521.0 434.0,1520.9 435.3,1520.8 436.6,1520.7 437.9,1520.6 439.2,1520.5 440.5,1520.4 441.8,1520.3 443.1,1520.2 444.4,1520.1 445.7,1520.0 447.0,1519.9 448.3,1519.8 449.6,1519.7 450.9,1519.5 452.2,1519.4 453.5,1519.3 454.8,1519.2 456.1,1519.0 457.4,1518.9 458.7,1518.8 460.0,1518.6 461.3,1518.5 462.6,1518.4 463.9,1518.2 465.2,1518.1 466.5,1517.9 467.8,1517.7 469.1,1517.6 470.4,1517.4 471.7,1517.2 473.0,1517.1 474.3,1516.9 475.6,1516.7 476.9,1516.5 478.2,1516.3 479.5,1516.1 480.8,1515.9 482.1,1515.7 483.4,1515.5 484.7,1515.3 486.0,1515.1 487.3,1514.8 488.6,1514.6 489.9,1514.3 491.2,1514.1 492.5,1513.8 493.8,1513.6 495.1,1513.3 496.4,1513.0 497.7,1512.7 499.0,1512.4 500.3,1512.1 501.6,1511.8 502.9,1511.5 504.2,1511.2 505.5,1510.8 506.8,1510.5 508.1,1510.1 509.4,1509.8 510.7,1509.4 512.0,1509.0 513.3,1508.6 514.6,1508.1 515.9,1507.7 517.2,1507.3 518.5,1506.8 519.8,1506.3 521.1,1505.8 522.4,1505.3 523.7,1504.8 525.0,1504.3 526.3,1503.7 527.6,1503.1 528.9,1502.6 530.2,1501.9 531.5,1501.3 532.8,1500.6 534.1,1500.0 535.4,1499.3 536.7,1498.5 538.0,1497.8 539.3,1497.0 540.6,1496.2 541.9,1495.4 543.2,1494.5 544.5,1493.7 545.8,1492.7 547.1,1491.8 548.4,1490.8 549.7,1489.8 551.0,1488.8 552.3,1487.7 553.6,1486.6 554.9,1485.4 556.2,1484.2 557.5,1483.0 558.8,1481.7 560.1,1480.4 561.4,1479.0 562.7,1477.6 564.0,1476.2 565.3,1474.7 566.6,1473.2 567.9,1471.6 569.2,1470.0 570.5,1468.3 571.8,1466.6 573.1,1464.9 574.4,1463.1 575.7,1461.3 577.0,1459.4 578.3,1457.5 579.6,1455.6 580.9,1453.7 582.2,1451.7 583.5,1449.7 584.8,1447.8 586.1,1445.8 587.4,1443.8 588.7,1441.9 590.0,1439.9 591.3,1438.0 592.6,1436.2 593.9,1434.4 595.2,1432.6 596.5,1430.9 597.8,1429.4 599.1,1427.9 600.4,1426.5 601.7,1425.3 603.0,1424.2 604.3,1423.2 605.6,1422.4 606.9,1421.7 608.2,1421.2 609.5,1420.9 610.8,1420.8 612.1,1420.8 613.4,1421.1 614.7,1421.7 616.0,1422.6 617.3,1423.8 618.6,1425.2 619.9,1426.8 621.2,1428.6 622.5,1430.6 623.8,1432.7 625.1,1435.0 626.4,1437.4 627.7,1439.8 629.0,1442.3 630.3,1444.9 631.6,1447.5 632.9,1450.0 634.2,1452.6 635.5,1455.1 636.8,1457.6 638.1,1460.0 639.4,1462.4 640.7,1464.7 642.0,1466.9 643.3,1469.1 644.6,1471.2 645.8,1473.3 647.1,1475.2 648.4,1477.1 649.7,1479.0 651.0,1480.7 652.3,1482.4 653.6,1484.0 654.9,1485.6 656.2,1487.0 657.5,1488.5 658.8,1489.8 660.1,1491.1 661.4,1492.4 662.7,1493.6 664.0,1494.7 665.3,1495.8 666.6,1496.8 667.9,1497.8 669.2,1498.8 670.5,1499.7 671.8,1500.6 673.1,1501.5 674.4,1502.3 675.7,1503.0 677.0,1503.8 678.3,1504.5 679.6,1505.2 680.9,1505.8 682.2,1506.5 683.5,1507.1 684.8,1507.7 686.1,1508.2 687.4,1508.8 688.7,1509.3 690.0,1509.8 691.3,1510.3 692.6,1510.7 693.9,1511.2 695.2,1511.6 696.5,1512.0 697.8,1512.4 699.1,1512.8 700.4,1513.1 701.7,1513.5 703.0,1513.8 704.3,1514.2 705.6,1514.5 706.9,1514.8 708.2,1515.1 709.5,1515.4 710.8,1515.7 712.1,1515.9 713.4,1516.2 714.7,1516.5 716.0,1516.7 717.3,1516.9 718.6,1517.2 719.9,1517.4 721.2,1517.6 722.5,1517.8 723.8,1518.0 725.1,1518.2 726.4,1518.4 727.7,1518.6 729.0,1518.8 730.3,1518.9 731.6,1519.1 732.9,1519.3 734.2,1519.4 735.5,1519.6 736.8,1519.7 738.1,1519.9 739.4,1520.0 740.7,1520.2 742.0,1520.3 743.3,1520.4 744.6,1520.6 745.9,1520.7 747.2,1520.8 748.5,1520.9 749.8,1521.0 751.1,1521.2 752.4,1521.3 753.7,1521.4 755.0,1521.5 756.3,1521.6 757.6,1521.7 758.9,1521.8 760.2,1521.9 761.5,1522.0 762.8,1522.0 764.1,1522.1 765.4,1522.2 766.7,1522.3 768.0,1522.4 769.3,1522.5 770.6,1522.5 771.9,1522.6 773.2,1522.7 774.5,1522.8 775.8,1522.8 777.1,1522.9 778.4,1523.0 779.7,1523.0 781.0,1523.1 782.3,1523.2 783.6,1523.2 784.9,1523.3 786.2,1523.4 787.5,1523.4 788.8,1523.5 790.1,1523.5 791.4,1523.6 792.7,1523.6 794.0,1523.7 795.3,1523.7 796.6,1523.8 797.9,1523.8 799.2,1523.9 800.5,1523.9 801.8,1524.0 803.1,1524.0 804.4,1524.1 805.7,1524.1 807.0,1524.2 808.3,1524.2 809.6,1524.2 810.9,1524.3 812.2,1524.3 813.5,1524.4 814.8,1524.4 816.1,1524.4 817.4,1524.5 818.7,1524.5 820.0,1524.6 821.3,1524.6 822.6,1524.6 823.9,1524.7 825.2,1524.7 826.5,1524.7 827.8,1524.8 829.1,1524.8 830.4,1524.8 831.7,1524.9 833.0,1524.9 834.3,1524.9 835.6,1524.9 836.9,1525.0 838.2,1525.0 839.5,1525.0 840.8,1525.1 842.1,1525.1 843.4,1525.1 844.7,1525.1 846.0,1525.2 847.3,1525.2 848.6,1525.2 849.9,1525.2 851.2,1525.3 852.5,1525.3 853.8,1525.3 855.1,1525.3 856.4,1525.3 857.7,1525.4 859.0,1525.4 860.3,1525.4 861.6,1525.4 862.9,1525.5 864.2,1525.5 865.5,1525.5 866.8,1525.5 868.1,1525.5 869.4,1525.6 870.7,1525.6 872.0,1525.6 873.3,1525.6 874.6,1525.6 875.9,1525.6 877.2,1525.7 878.5,1525.7 879.8,1525.7 881.1,1525.7 882.4,1525.7 883.7,1525.8 885.0,1525.8 886.3,1525.8 887.6,1525.8 888.9,1525.8 890.2,1525.8 891.5,1525.8 892.8,1525.9 894.1,1525.9 895.4,1525.9 896.7,1525.9 898.0,1525.9 899.3,1525.9 900.6,1525.9 901.9,1526.0 903.2,1526.0 904.5,1526.0 905.8,1526.0 907.1,1526.0 908.4,1526.0 909.7,1526.0 911.0,1526.1 912.3,1526.1 913.6,1526.1 914.9,1526.1 916.2,1526.1 917.5,1526.1 918.8,1526.1 920.1,1526.1 921.4,1526.1 922.7,1526.2 924.0,1526.2 925.3,1526.2 926.6,1526.2 927.9,1526.2 929.2,1526.2 930.5,1526.2 931.8,1526.2 933.1,1526.2 934.4,1526.3 935.7,1526.3 937.0,1526.3 938.3,1526.3 939.6,1526.3 940.9,1526.3 942.2,1526.3 943.5,1526.3 944.8,1526.3 946.1,1526.3 947.4,1526.3 948.7,1526.4 949.9,1526.4 951.2,1526.4 952.5,1526.4 953.8,1526.4 955.1,1526.4 956.4,1526.4 957.7,1526.4 959.0,1526.4 960.3,1526.4 961.6,1526.4 962.9,1526.4 964.2,1526.5 965.5,1526.5 966.8,1526.5 968.1,1526.5 969.4,1526.5 970.7,1526.5 972.0,1526.5 973.3,1526.5 974.6,1526.5 975.9,1526.5 977.2,1526.5 978.5,1526.5 979.8,1526.5 981.1,1526.5 982.4,1526.6 983.7,1526.6 985.0,1526.6 986.3,1526.6 987.6,1526.6 988.9,1526.6 990.2,1526.6 991.5,1526.6 992.8,1526.6 994.1,1526.6 995.4,1526.6 996.7,1526.6 998.0,1526.6 999.3,1526.6 1000.6,1526.6 1001.9,1526.6 1003.2,1526.6 1004.5,1526.7 1005.8,1526.7 1007.1,1526.7 1008.4,1526.7 1009.7,1526.7 1011.0,1526.7 1012.3,1526.7 1013.6,1526.7 1014.9,1526.7 1016.2,1526.7 1017.5,1526.7 1018.8,1526.7 1020.1,1526.7 1021.4,1526.7 1022.7,1526.7 1024.0,1526.7 1025.3,1526.7 1026.6,1526.7 1027.9,1526.7 1029.2,1526.8 1030.5,1526.8 1031.8,1526.8 1033.1,1526.8 1034.4,1526.8 1035.7,1526.8 1037.0,1526.8 1038.3,1526.8 1039.6,1526.8 1040.9,1526.8 1042.2,1526.8 1043.5,1526.8 1044.8,1526.8 1046.1,1526.8 1047.4,1526.8 1048.7,1526.8 1050.0,1526.8 1051.3,1526.8 1052.6,1526.8 1053.9,1526.8 1055.2,1526.8 1056.5,1526.8 1057.8,1526.8 1059.1,1526.8 1060.4,1526.8 1061.7,1526.9 1063.0,1526.9 1064.3,1526.9 1065.6,1526.9 1066.9,1526.9 1068.2,1526.9 1069.5,1526.9 1070.8,1526.9 1072.1,1526.9 1073.4,1526.9 1074.7,1526.9 1076.0,1526.9 1077.3,1526.9 1078.6,1526.9 1079.9,1526.9 1081.2,1526.9 1082.5,1526.9 1083.8,1526.9 1085.1,1526.9 1086.4,1526.9 1087.7,1526.9 1089.0,1526.9 1090.3,1526.9 1091.6,1526.9 1092.9,1526.9 1094.2,1526.9 1095.5,1526.9 1096.8,1526.9 1098.1,1526.9 1099.4,1526.9 1100.7,1527.0" fill="none" stroke="#b82a2e" stroke-width="2.8" stroke-linejoin="round"/><polyline points="191.0,1525.4 192.3,1525.4 193.6,1525.4 194.9,1525.4 196.2,1525.4 197.5,1525.4 198.8,1525.4 200.1,1525.3 201.4,1525.3 202.7,1525.3 204.0,1525.3 205.3,1525.3 206.6,1525.3 207.9,1525.3 209.2,1525.3 210.5,1525.2 211.8,1525.2 213.1,1525.2 214.4,1525.2 215.7,1525.2 217.0,1525.2 218.3,1525.2 219.6,1525.1 220.9,1525.1 222.2,1525.1 223.5,1525.1 224.8,1525.1 226.1,1525.1 227.4,1525.0 228.7,1525.0 230.0,1525.0 231.3,1525.0 232.6,1525.0 233.9,1525.0 235.2,1524.9 236.5,1524.9 237.8,1524.9 239.1,1524.9 240.4,1524.9 241.7,1524.9 243.0,1524.8 244.3,1524.8 245.6,1524.8 246.9,1524.8 248.2,1524.8 249.5,1524.8 250.8,1524.7 252.1,1524.7 253.4,1524.7 254.7,1524.7 256.0,1524.7 257.3,1524.6 258.6,1524.6 259.9,1524.6 261.2,1524.6 262.5,1524.6 263.8,1524.5 265.1,1524.5 266.4,1524.5 267.7,1524.5 269.0,1524.4 270.3,1524.4 271.6,1524.4 272.9,1524.4 274.2,1524.4 275.5,1524.3 276.8,1524.3 278.1,1524.3 279.4,1524.3 280.7,1524.2 282.0,1524.2 283.3,1524.2 284.6,1524.2 285.9,1524.1 287.2,1524.1 288.5,1524.1 289.8,1524.1 291.1,1524.0 292.4,1524.0 293.7,1524.0 295.0,1523.9 296.3,1523.9 297.6,1523.9 298.9,1523.9 300.2,1523.8 301.5,1523.8 302.8,1523.8 304.1,1523.7 305.4,1523.7 306.7,1523.7 308.0,1523.7 309.3,1523.6 310.6,1523.6 311.9,1523.6 313.2,1523.5 314.5,1523.5 315.8,1523.5 317.1,1523.4 318.4,1523.4 319.7,1523.4 321.0,1523.3 322.3,1523.3 323.6,1523.3 324.9,1523.2 326.2,1523.2 327.5,1523.1 328.8,1523.1 330.1,1523.1 331.4,1523.0 332.7,1523.0 334.0,1522.9 335.3,1522.9 336.6,1522.9 337.9,1522.8 339.2,1522.8 340.5,1522.7 341.8,1522.7 343.0,1522.7 344.3,1522.6 345.6,1522.6 346.9,1522.5 348.2,1522.5 349.5,1522.4 350.8,1522.4 352.1,1522.3 353.4,1522.3 354.7,1522.2 356.0,1522.2 357.3,1522.1 358.6,1522.1 359.9,1522.0 361.2,1522.0 362.5,1521.9 363.8,1521.9 365.1,1521.8 366.4,1521.8 367.7,1521.7 369.0,1521.6 370.3,1521.6 371.6,1521.5 372.9,1521.5 374.2,1521.4 375.5,1521.3 376.8,1521.3 378.1,1521.2 379.4,1521.1 380.7,1521.1 382.0,1521.0 383.3,1520.9 384.6,1520.9 385.9,1520.8 387.2,1520.7 388.5,1520.7 389.8,1520.6 391.1,1520.5 392.4,1520.4 393.7,1520.3 395.0,1520.3 396.3,1520.2 397.6,1520.1 398.9,1520.0 400.2,1519.9 401.5,1519.9 402.8,1519.8 404.1,1519.7 405.4,1519.6 406.7,1519.5 408.0,1519.4 409.3,1519.3 410.6,1519.2 411.9,1519.1 413.2,1519.0 414.5,1518.9 415.8,1518.8 417.1,1518.7 418.4,1518.6 419.7,1518.5 421.0,1518.4 422.3,1518.2 423.6,1518.1 424.9,1518.0 426.2,1517.9 427.5,1517.8 428.8,1517.6 430.1,1517.5 431.4,1517.4 432.7,1517.3 434.0,1517.1 435.3,1517.0 436.6,1516.8 437.9,1516.7 439.2,1516.5 440.5,1516.4 441.8,1516.2 443.1,1516.1 444.4,1515.9 445.7,1515.8 447.0,1515.6 448.3,1515.4 449.6,1515.3 450.9,1515.1 452.2,1514.9 453.5,1514.7 454.8,1514.5 456.1,1514.3 457.4,1514.1 458.7,1513.9 460.0,1513.7 461.3,1513.5 462.6,1513.3 463.9,1513.1 465.2,1512.9 466.5,1512.6 467.8,1512.4 469.1,1512.2 470.4,1511.9 471.7,1511.7 473.0,1511.4 474.3,1511.1 475.6,1510.9 476.9,1510.6 478.2,1510.3 479.5,1510.0 480.8,1509.7 482.1,1509.4 483.4,1509.1 484.7,1508.8 486.0,1508.5 487.3,1508.1 488.6,1507.8 489.9,1507.4 491.2,1507.1 492.5,1506.7 493.8,1506.3 495.1,1505.9 496.4,1505.5 497.7,1505.1 499.0,1504.6 500.3,1504.2 501.6,1503.8 502.9,1503.3 504.2,1502.8 505.5,1502.3 506.8,1501.8 508.1,1501.3 509.4,1500.7 510.7,1500.2 512.0,1499.6 513.3,1499.0 514.6,1498.4 515.9,1497.8 517.2,1497.2 518.5,1496.5 519.8,1495.8 521.1,1495.1 522.4,1494.4 523.7,1493.6 525.0,1492.9 526.3,1492.1 527.6,1491.3 528.9,1490.4 530.2,1489.5 531.5,1488.6 532.8,1487.7 534.1,1486.7 535.4,1485.7 536.7,1484.7 538.0,1483.6 539.3,1482.5 540.6,1481.3 541.9,1480.2 543.2,1478.9 544.5,1477.7 545.8,1476.3 547.1,1475.0 548.4,1473.6 549.7,1472.1 551.0,1470.6 552.3,1469.0 553.6,1467.4 554.9,1465.7 556.2,1464.0 557.5,1462.2 558.8,1460.3 560.1,1458.4 561.4,1456.4 562.7,1454.3 564.0,1452.2 565.3,1450.0 566.6,1447.7 567.9,1445.3 569.2,1442.9 570.5,1440.3 571.8,1437.7 573.1,1435.0 574.4,1432.2 575.7,1429.4 577.0,1426.4 578.3,1423.3 579.6,1420.2 580.9,1416.9 582.2,1413.6 583.5,1410.2 584.8,1406.7 586.1,1403.1 587.4,1399.4 588.7,1395.6 590.0,1391.7 591.3,1387.7 592.6,1383.6 593.9,1379.4 595.2,1375.2 596.5,1370.8 597.8,1366.4 599.1,1361.8 600.4,1357.1 601.7,1352.3 603.0,1347.4 604.3,1342.4 605.6,1337.2 606.9,1331.9 608.2,1326.3 609.5,1320.6 610.8,1314.7 612.1,1308.5 613.4,1302.2 614.7,1295.6 616.0,1288.9 617.3,1281.9 618.6,1274.6 619.9,1267.0 621.2,1259.0 622.5,1250.6 623.8,1241.8 625.1,1232.5 626.4,1222.8 627.7,1212.7 629.0,1202.2 630.3,1191.5 631.6,1180.5 632.9,1169.5 634.2,1158.6 635.5,1148.1 636.8,1138.2 638.1,1129.2 639.4,1121.4 640.7,1115.0 642.0,1110.4 643.3,1107.8 644.6,1107.3 645.8,1109.0 647.1,1112.1 648.4,1116.2 649.7,1121.4 651.0,1127.6 652.3,1134.8 653.6,1142.8 654.9,1151.6 656.2,1161.0 657.5,1171.0 658.8,1181.4 660.1,1192.1 661.4,1203.2 662.7,1214.4 664.0,1225.7 665.3,1237.0 666.6,1248.2 667.9,1259.4 669.2,1270.4 670.5,1281.2 671.8,1291.8 673.1,1302.1 674.4,1312.2 675.7,1321.9 677.0,1331.3 678.3,1340.4 679.6,1349.2 680.9,1357.6 682.2,1365.7 683.5,1373.4 684.8,1380.8 686.1,1387.9 687.4,1394.6 688.7,1400.9 690.0,1407.0 691.3,1412.8 692.6,1418.2 693.9,1423.4 695.2,1428.2 696.5,1432.8 697.8,1437.1 699.1,1441.2 700.4,1445.1 701.7,1448.7 703.0,1452.1 704.3,1455.3 705.6,1458.3 706.9,1461.1 708.2,1463.8 709.5,1466.3 710.8,1468.6 712.1,1470.8 713.4,1472.9 714.7,1474.9 716.0,1476.7 717.3,1478.5 718.6,1480.1 719.9,1481.6 721.2,1483.1 722.5,1484.5 723.8,1485.8 725.1,1487.0 726.4,1488.2 727.7,1489.3 729.0,1490.4 730.3,1491.4 731.6,1492.4 732.9,1493.3 734.2,1494.2 735.5,1495.0 736.8,1495.9 738.1,1496.6 739.4,1497.4 740.7,1498.1 742.0,1498.8 743.3,1499.5 744.6,1500.1 745.9,1500.7 747.2,1501.3 748.5,1501.9 749.8,1502.4 751.1,1503.0 752.4,1503.5 753.7,1504.0 755.0,1504.5 756.3,1505.0 757.6,1505.4 758.9,1505.9 760.2,1506.3 761.5,1506.7 762.8,1507.1 764.1,1507.5 765.4,1507.9 766.7,1508.3 768.0,1508.6 769.3,1509.0 770.6,1509.3 771.9,1509.7 773.2,1510.0 774.5,1510.3 775.8,1510.6 777.1,1510.9 778.4,1511.2 779.7,1511.5 781.0,1511.7 782.3,1512.0 783.6,1512.3 784.9,1512.5 786.2,1512.8 787.5,1513.0 788.8,1513.3 790.1,1513.5 791.4,1513.7 792.7,1513.9 794.0,1514.1 795.3,1514.4 796.6,1514.6 797.9,1514.8 799.2,1515.0 800.5,1515.1 801.8,1515.3 803.1,1515.5 804.4,1515.7 805.7,1515.9 807.0,1516.0 808.3,1516.2 809.6,1516.4 810.9,1516.5 812.2,1516.7 813.5,1516.8 814.8,1517.0 816.1,1517.1 817.4,1517.3 818.7,1517.4 820.0,1517.6 821.3,1517.7 822.6,1517.8 823.9,1518.0 825.2,1518.1 826.5,1518.2 827.8,1518.3 829.1,1518.5 830.4,1518.6 831.7,1518.7 833.0,1518.8 834.3,1518.9 835.6,1519.0 836.9,1519.1 838.2,1519.2 839.5,1519.3 840.8,1519.4 842.1,1519.5 843.4,1519.6 844.7,1519.7 846.0,1519.8 847.3,1519.9 848.6,1520.0 849.9,1520.1 851.2,1520.2 852.5,1520.3 853.8,1520.4 855.1,1520.4 856.4,1520.5 857.7,1520.6 859.0,1520.7 860.3,1520.8 861.6,1520.8 862.9,1520.9 864.2,1521.0 865.5,1521.0 866.8,1521.1 868.1,1521.2 869.4,1521.3 870.7,1521.3 872.0,1521.4 873.3,1521.5 874.6,1521.5 875.9,1521.6 877.2,1521.6 878.5,1521.7 879.8,1521.8 881.1,1521.8 882.4,1521.9 883.7,1521.9 885.0,1522.0 886.3,1522.1 887.6,1522.1 888.9,1522.2 890.2,1522.2 891.5,1522.3 892.8,1522.3 894.1,1522.4 895.4,1522.4 896.7,1522.5 898.0,1522.5 899.3,1522.6 900.6,1522.6 901.9,1522.7 903.2,1522.7 904.5,1522.8 905.8,1522.8 907.1,1522.8 908.4,1522.9 909.7,1522.9 911.0,1523.0 912.3,1523.0 913.6,1523.1 914.9,1523.1 916.2,1523.1 917.5,1523.2 918.8,1523.2 920.1,1523.3 921.4,1523.3 922.7,1523.3 924.0,1523.4 925.3,1523.4 926.6,1523.4 927.9,1523.5 929.2,1523.5 930.5,1523.5 931.8,1523.6 933.1,1523.6 934.4,1523.7 935.7,1523.7 937.0,1523.7 938.3,1523.7 939.6,1523.8 940.9,1523.8 942.2,1523.8 943.5,1523.9 944.8,1523.9 946.1,1523.9 947.4,1524.0 948.7,1524.0 949.9,1524.0 951.2,1524.0 952.5,1524.1 953.8,1524.1 955.1,1524.1 956.4,1524.2 957.7,1524.2 959.0,1524.2 960.3,1524.2 961.6,1524.3 962.9,1524.3 964.2,1524.3 965.5,1524.3 966.8,1524.4 968.1,1524.4 969.4,1524.4 970.7,1524.4 972.0,1524.5 973.3,1524.5 974.6,1524.5 975.9,1524.5 977.2,1524.5 978.5,1524.6 979.8,1524.6 981.1,1524.6 982.4,1524.6 983.7,1524.7 985.0,1524.7 986.3,1524.7 987.6,1524.7 988.9,1524.7 990.2,1524.8 991.5,1524.8 992.8,1524.8 994.1,1524.8 995.4,1524.8 996.7,1524.9 998.0,1524.9 999.3,1524.9 1000.6,1524.9 1001.9,1524.9 1003.2,1524.9 1004.5,1525.0 1005.8,1525.0 1007.1,1525.0 1008.4,1525.0 1009.7,1525.0 1011.0,1525.0 1012.3,1525.1 1013.6,1525.1 1014.9,1525.1 1016.2,1525.1 1017.5,1525.1 1018.8,1525.1 1020.1,1525.2 1021.4,1525.2 1022.7,1525.2 1024.0,1525.2 1025.3,1525.2 1026.6,1525.2 1027.9,1525.3 1029.2,1525.3 1030.5,1525.3 1031.8,1525.3 1033.1,1525.3 1034.4,1525.3 1035.7,1525.3 1037.0,1525.4 1038.3,1525.4 1039.6,1525.4 1040.9,1525.4 1042.2,1525.4 1043.5,1525.4 1044.8,1525.4 1046.1,1525.4 1047.4,1525.5 1048.7,1525.5 1050.0,1525.5 1051.3,1525.5 1052.6,1525.5 1053.9,1525.5 1055.2,1525.5 1056.5,1525.5 1057.8,1525.6 1059.1,1525.6 1060.4,1525.6 1061.7,1525.6 1063.0,1525.6 1064.3,1525.6 1065.6,1525.6 1066.9,1525.6 1068.2,1525.7 1069.5,1525.7 1070.8,1525.7 1072.1,1525.7 1073.4,1525.7 1074.7,1525.7 1076.0,1525.7 1077.3,1525.7 1078.6,1525.7 1079.9,1525.7 1081.2,1525.8 1082.5,1525.8 1083.8,1525.8 1085.1,1525.8 1086.4,1525.8 1087.7,1525.8 1089.0,1525.8 1090.3,1525.8 1091.6,1525.8 1092.9,1525.8 1094.2,1525.9 1095.5,1525.9 1096.8,1525.9 1098.1,1525.9 1099.4,1525.9 1100.7,1525.9" fill="none" stroke="#000" stroke-width="2.8" stroke-linejoin="round"/></g><rect x="191.0" y="878.3" width="909.7" height="670.5" fill="none" stroke="#000" stroke-width="3.3"/><line x1="207.2" y1="1548.8" x2="207.2" y2="1541.3" stroke="#000" stroke-width="2.8"/><line x1="288.5" y1="1548.8" x2="288.5" y2="1533.8" stroke="#000" stroke-width="2.8"/><line x1="369.7" y1="1548.8" x2="369.7" y2="1541.3" stroke="#000" stroke-width="2.8"/><line x1="450.9" y1="1548.8" x2="450.9" y2="1533.8" stroke="#000" stroke-width="2.8"/><line x1="532.1" y1="1548.8" x2="532.1" y2="1541.3" stroke="#000" stroke-width="2.8"/><line x1="613.4" y1="1548.8" x2="613.4" y2="1533.8" stroke="#000" stroke-width="2.8"/><line x1="694.6" y1="1548.8" x2="694.6" y2="1541.3" stroke="#000" stroke-width="2.8"/><line x1="775.8" y1="1548.8" x2="775.8" y2="1533.8" stroke="#000" stroke-width="2.8"/><line x1="857.0" y1="1548.8" x2="857.0" y2="1541.3" stroke="#000" stroke-width="2.8"/><line x1="938.3" y1="1548.8" x2="938.3" y2="1533.8" stroke="#000" stroke-width="2.8"/><line x1="1019.5" y1="1548.8" x2="1019.5" y2="1541.3" stroke="#000" stroke-width="2.8"/><text x="288.5" y="1598.5" font-family="'Liberation Serif','Times New Roman',serif" font-size="44" text-anchor="middle">15</text><text x="450.9" y="1598.5" font-family="'Liberation Serif','Times New Roman',serif" font-size="44" text-anchor="middle">20</text><text x="613.4" y="1598.5" font-family="'Liberation Serif','Times New Roman',serif" font-size="44" text-anchor="middle">25</text><text x="775.8" y="1598.5" font-family="'Liberation Serif','Times New Roman',serif" font-size="44" text-anchor="middle">30</text><text x="938.3" y="1598.5" font-family="'Liberation Serif','Times New Roman',serif" font-size="44" text-anchor="middle">35</text><text x="1100.7" y="1598.5" font-family="'Liberation Serif','Times New Roman',serif" font-size="44" text-anchor="middle">40</text><text x="550.3" y="1655.7" font-family="'Liberation Serif','Times New Roman',serif" font-size="45.5">2<tspan dx="2.3">θ</tspan><tspan dx="0.5"> (degree)</tspan></text><text transform="translate(151.2,1339.4) rotate(-90)" font-family="'Liberation Serif','Times New Roman',serif" font-size="45.6">Intensity (a.u.)</text><line x1="199.1" y1="910.8" x2="303.7" y2="910.8" stroke="#000" stroke-width="3.4"/><text x="315.8" y="925.4" font-family="'Liberation Serif','Times New Roman',serif" font-size="45">Experimental data</text><line x1="199.1" y1="967.0" x2="303.7" y2="967.0" stroke="#14108a" stroke-width="3.4"/><text x="315.8" y="981.1" font-family="'Liberation Serif','Times New Roman',serif" font-size="45">Graphitic region</text><line x1="199.1" y1="1022.7" x2="303.7" y2="1022.7" stroke="#b82a2e" stroke-width="3.4"/><text x="315.8" y="1036.8" font-family="'Liberation Serif','Times New Roman',serif" font-size="45">Disordered region</text><text x="681.7" y="981.1" font-family="'Liberation Serif','Times New Roman',serif" font-size="45">69.3 %</text><text x="681.7" y="1036.8" font-family="'Liberation Serif','Times New Roman',serif" font-size="45">30.7 %</text><clipPath id="c3"><rect x="1228.6" y="880.0" width="907.2000000000003" height="670.2"/></clipPath><g clip-path="url(#c3)"><polyline points="1228.6,1517.9 1229.2,1530.8 1229.9,1527.2 1230.5,1511.5 1231.2,1480.2 1231.8,1522.9 1232.5,1528.7 1233.1,1531.9 1233.8,1536.2 1234.4,1494.2 1235.1,1529.8 1235.7,1522.3 1236.4,1519.8 1237.0,1519.5 1237.7,1516.1 1238.3,1534.3 1239.0,1534.4 1239.6,1527.8 1240.3,1534.7 1240.9,1530.3 1241.6,1514.8 1242.2,1523.5 1242.9,1522.3 1243.5,1517.8 1244.2,1534.9 1244.8,1523.0 1245.4,1532.5 1246.1,1522.0 1246.7,1534.4 1247.4,1534.8 1248.0,1513.9 1248.7,1529.6 1249.3,1531.0 1250.0,1531.4 1250.6,1504.3 1251.3,1528.0 1251.9,1535.0 1252.6,1514.5 1253.2,1515.1 1253.9,1508.4 1254.5,1530.8 1255.2,1530.5 1255.8,1535.1 1256.5,1503.3 1257.1,1529.4 1257.8,1532.3 1258.4,1520.5 1259.1,1527.7 1259.7,1529.1 1260.4,1521.0 1261.0,1525.5 1261.6,1502.9 1262.3,1500.9 1262.9,1529.5 1263.6,1515.2 1264.2,1534.2 1264.9,1531.7 1265.5,1512.6 1266.2,1513.2 1266.8,1516.9 1267.5,1526.3 1268.1,1530.7 1268.8,1526.3 1269.4,1529.8 1270.1,1524.1 1270.7,1530.8 1271.4,1528.4 1272.0,1531.7 1272.7,1526.0 1273.3,1523.4 1274.0,1533.9 1274.6,1535.5 1275.3,1509.2 1275.9,1535.6 1276.6,1530.9 1277.2,1524.7 1277.8,1530.8 1278.5,1491.7 1279.1,1522.3 1279.8,1523.8 1280.4,1514.8 1281.1,1502.9 1281.7,1479.6 1282.4,1528.0 1283.0,1533.5 1283.7,1528.4 1284.3,1533.5 1285.0,1535.4 1285.6,1505.0 1286.3,1526.6 1286.9,1530.2 1287.6,1535.2 1288.2,1529.5 1288.9,1529.5 1289.5,1530.2 1290.2,1504.0 1290.8,1529.6 1291.5,1526.6 1292.1,1535.5 1292.8,1522.9 1293.4,1522.4 1294.0,1527.4 1294.7,1494.3 1295.3,1531.6 1296.0,1519.7 1296.6,1530.6 1297.3,1523.2 1297.9,1530.5 1298.6,1522.9 1299.2,1532.9 1299.9,1527.0 1300.5,1505.0 1301.2,1526.9 1301.8,1520.2 1302.5,1515.0 1303.1,1528.1 1303.8,1533.9 1304.4,1514.0 1305.1,1533.3 1305.7,1533.6 1306.4,1516.4 1307.0,1532.9 1307.7,1528.5 1308.3,1521.7 1309.0,1519.3 1309.6,1516.9 1310.2,1533.1 1310.9,1534.1 1311.5,1524.4 1312.2,1533.8 1312.8,1524.5 1313.5,1529.1 1314.1,1530.6 1314.8,1522.4 1315.4,1516.5 1316.1,1493.0 1316.7,1528.1 1317.4,1530.3 1318.0,1531.5 1318.7,1523.6 1319.3,1524.4 1320.0,1518.3 1320.6,1480.1 1321.3,1494.1 1321.9,1534.7 1322.6,1521.6 1323.2,1522.5 1323.9,1522.2 1324.5,1479.0 1325.2,1532.2 1325.8,1529.0 1326.4,1525.1 1327.1,1511.4 1327.7,1504.5 1328.4,1532.9 1329.0,1530.8 1329.7,1525.8 1330.3,1529.3 1331.0,1530.7 1331.6,1523.9 1332.3,1528.7 1332.9,1529.4 1333.6,1527.4 1334.2,1533.9 1334.9,1501.2 1335.5,1511.3 1336.2,1511.0 1336.8,1534.1 1337.5,1528.2 1338.1,1496.2 1338.8,1529.0 1339.4,1479.9 1340.1,1519.7 1340.7,1528.8 1341.4,1528.9 1342.0,1534.2 1342.6,1514.1 1343.3,1514.0 1343.9,1523.3 1344.6,1527.4 1345.2,1504.0 1345.9,1533.6 1346.5,1529.5 1347.2,1529.6 1347.8,1515.4 1348.5,1529.2 1349.1,1509.8 1349.8,1530.6 1350.4,1500.3 1351.1,1522.1 1351.7,1524.7 1352.4,1524.8 1353.0,1504.9 1353.7,1523.4 1354.3,1523.1 1355.0,1519.9 1355.6,1525.0 1356.3,1532.6 1356.9,1532.5 1357.6,1530.6 1358.2,1520.1 1358.8,1521.5 1359.5,1478.2 1360.1,1522.3 1360.8,1503.6 1361.4,1519.5 1362.1,1515.2 1362.7,1532.8 1363.4,1533.2 1364.0,1503.9 1364.7,1529.0 1365.3,1487.4 1366.0,1514.5 1366.6,1524.6 1367.3,1530.1 1367.9,1527.9 1368.6,1477.9 1369.2,1485.4 1369.9,1525.7 1370.5,1529.9 1371.2,1524.8 1371.8,1499.2 1372.5,1528.9 1373.1,1503.0 1373.8,1520.8 1374.4,1530.1 1375.0,1533.2 1375.7,1529.8 1376.3,1533.3 1377.0,1515.1 1377.6,1530.0 1378.3,1498.7 1378.9,1527.0 1379.6,1487.8 1380.2,1524.1 1380.9,1533.0 1381.5,1507.0 1382.2,1526.1 1382.8,1520.2 1383.5,1528.4 1384.1,1529.6 1384.8,1514.9 1385.4,1509.7 1386.1,1513.8 1386.7,1531.0 1387.4,1528.9 1388.0,1528.7 1388.7,1530.4 1389.3,1526.1 1390.0,1533.2 1390.6,1529.7 1391.2,1528.5 1391.9,1511.7 1392.5,1515.6 1393.2,1517.0 1393.8,1525.0 1394.5,1506.2 1395.1,1508.8 1395.8,1525.4 1396.4,1525.6 1397.1,1521.9 1397.7,1531.9 1398.4,1524.2 1399.0,1521.3 1399.7,1495.7 1400.3,1487.0 1401.0,1531.6 1401.6,1529.4 1402.3,1532.6 1402.9,1522.6 1403.6,1524.7 1404.2,1509.3 1404.9,1526.0 1405.5,1499.5 1406.2,1505.8 1406.8,1524.8 1407.4,1529.6 1408.1,1499.6 1408.7,1528.6 1409.4,1531.4 1410.0,1519.4 1410.7,1526.2 1411.3,1531.9 1412.0,1509.2 1412.6,1531.1 1413.3,1517.8 1413.9,1524.0 1414.6,1524.9 1415.2,1524.7 1415.9,1527.8 1416.5,1520.2 1417.2,1521.3 1417.8,1530.4 1418.5,1531.8 1419.1,1512.7 1419.8,1507.3 1420.4,1513.6 1421.1,1522.7 1421.7,1524.1 1422.4,1530.9 1423.0,1531.3 1423.6,1529.9 1424.3,1531.6 1424.9,1531.8 1425.6,1528.3 1426.2,1499.2 1426.9,1528.7 1427.5,1514.2 1428.2,1490.7 1428.8,1526.6 1429.5,1524.7 1430.1,1506.5 1430.8,1527.9 1431.4,1510.6 1432.1,1512.8 1432.7,1484.9 1433.4,1526.0 1434.0,1528.7 1434.7,1527.7 1435.3,1523.0 1436.0,1488.3 1436.6,1525.4 1437.3,1519.8 1437.9,1513.2 1438.6,1529.4 1439.2,1527.8 1439.8,1529.3 1440.5,1518.7 1441.1,1521.2 1441.8,1492.9 1442.4,1512.9 1443.1,1502.3 1443.7,1530.0 1444.4,1525.6 1445.0,1524.5 1445.7,1527.8 1446.3,1494.4 1447.0,1515.7 1447.6,1522.3 1448.3,1529.1 1448.9,1503.8 1449.6,1520.4 1450.2,1523.9 1450.9,1522.6 1451.5,1528.6 1452.2,1524.0 1452.8,1525.0 1453.5,1526.8 1454.1,1501.6 1454.8,1527.5 1455.4,1523.9 1456.0,1528.3 1456.7,1525.3 1457.3,1523.4 1458.0,1522.6 1458.6,1501.3 1459.3,1496.1 1459.9,1523.3 1460.6,1529.2 1461.2,1483.0 1461.9,1506.5 1462.5,1518.8 1463.2,1518.9 1463.8,1525.4 1464.5,1527.0 1465.1,1526.3 1465.8,1523.1 1466.4,1524.7 1467.1,1491.4 1467.7,1520.9 1468.4,1485.3 1469.0,1522.1 1469.7,1522.7 1470.3,1524.3 1471.0,1495.8 1471.6,1516.3 1472.2,1523.7 1472.9,1523.6 1473.5,1524.9 1474.2,1521.0 1474.8,1495.2 1475.5,1524.3 1476.1,1522.3 1476.8,1526.8 1477.4,1526.8 1478.1,1499.3 1478.7,1524.9 1479.4,1513.6 1480.0,1492.9 1480.7,1526.8 1481.3,1522.6 1482.0,1527.3 1482.6,1511.6 1483.3,1518.5 1483.9,1503.3 1484.6,1517.2 1485.2,1521.7 1485.9,1515.4 1486.5,1510.4 1487.2,1526.6 1487.8,1511.4 1488.4,1525.2 1489.1,1511.3 1489.7,1474.9 1490.4,1521.6 1491.0,1506.5 1491.7,1522.1 1492.3,1525.7 1493.0,1517.0 1493.6,1524.5 1494.3,1520.7 1494.9,1491.9 1495.6,1518.9 1496.2,1525.9 1496.9,1524.8 1497.5,1524.3 1498.2,1514.2 1498.8,1506.3 1499.5,1524.3 1500.1,1518.8 1500.8,1517.7 1501.4,1520.6 1502.1,1492.4 1502.7,1483.5 1503.4,1522.5 1504.0,1494.5 1504.6,1521.3 1505.3,1518.8 1505.9,1501.9 1506.6,1519.6 1507.2,1513.4 1507.9,1507.8 1508.5,1495.2 1509.2,1519.1 1509.8,1515.6 1510.5,1504.0 1511.1,1516.6 1511.8,1516.3 1512.4,1513.6 1513.1,1520.2 1513.7,1519.0 1514.4,1510.7 1515.0,1514.2 1515.7,1517.4 1516.3,1504.8 1517.0,1509.1 1517.6,1511.5 1518.3,1511.2 1518.9,1514.7 1519.6,1516.7 1520.2,1497.3 1520.8,1512.6 1521.5,1482.7 1522.1,1520.3 1522.8,1487.2 1523.4,1512.7 1524.1,1499.5 1524.7,1512.2 1525.4,1487.9 1526.0,1464.3 1526.7,1517.0 1527.3,1517.3 1528.0,1499.8 1528.6,1519.6 1529.3,1512.1 1529.9,1498.2 1530.6,1501.8 1531.2,1506.3 1531.9,1503.6 1532.5,1515.3 1533.2,1513.1 1533.8,1516.4 1534.5,1514.2 1535.1,1515.4 1535.8,1508.0 1536.4,1507.6 1537.0,1514.6 1537.7,1493.1 1538.3,1510.8 1539.0,1495.5 1539.6,1507.1 1540.3,1510.1 1540.9,1476.6 1541.6,1501.3 1542.2,1515.5 1542.9,1513.4 1543.5,1479.8 1544.2,1508.9 1544.8,1514.6 1545.5,1513.8 1546.1,1477.9 1546.8,1511.1 1547.4,1505.5 1548.1,1498.6 1548.7,1506.5 1549.4,1510.4 1550.0,1509.6 1550.7,1475.1 1551.3,1512.6 1552.0,1502.4 1552.6,1508.3 1553.2,1472.2 1553.9,1507.1 1554.5,1510.4 1555.2,1500.7 1555.8,1506.4 1556.5,1495.1 1557.1,1502.0 1557.8,1496.6 1558.4,1506.9 1559.1,1507.5 1559.7,1499.1 1560.4,1507.2 1561.0,1502.9 1561.7,1508.1 1562.3,1502.9 1563.0,1506.3 1563.6,1486.2 1564.3,1501.1 1564.9,1452.9 1565.6,1502.7 1566.2,1483.9 1566.9,1495.2 1567.5,1499.7 1568.2,1469.0 1568.8,1499.6 1569.4,1497.3 1570.1,1501.9 1570.7,1492.4 1571.4,1489.6 1572.0,1481.6 1572.7,1471.0 1573.3,1496.7 1574.0,1465.6 1574.6,1499.5 1575.3,1485.4 1575.9,1496.7 1576.6,1494.2 1577.2,1479.7 1577.9,1497.4 1578.5,1474.2 1579.2,1491.9 1579.8,1465.2 1580.5,1482.9 1581.1,1466.9 1581.8,1489.6 1582.4,1471.7 1583.1,1486.0 1583.7,1460.9 1584.4,1469.5 1585.0,1472.7 1585.6,1488.2 1586.3,1487.1 1586.9,1486.5 1587.6,1486.7 1588.2,1464.1 1588.9,1443.0 1589.5,1479.2 1590.2,1485.2 1590.8,1473.3 1591.5,1477.3 1592.1,1477.0 1592.8,1469.3 1593.4,1464.5 1594.1,1460.1 1594.7,1478.0 1595.4,1430.7 1596.0,1472.0 1596.7,1464.2 1597.3,1460.7 1598.0,1465.3 1598.6,1472.5 1599.3,1472.2 1599.9,1468.5 1600.6,1446.0 1601.2,1467.8 1601.8,1428.8 1602.5,1444.6 1603.1,1450.9 1603.8,1456.3 1604.4,1459.9 1605.1,1456.2 1605.7,1432.8 1606.4,1453.3 1607.0,1456.6 1607.7,1413.8 1608.3,1447.1 1609.0,1445.2 1609.6,1449.1 1610.3,1442.6 1610.9,1446.3 1611.6,1422.6 1612.2,1442.7 1612.9,1443.1 1613.5,1440.0 1614.2,1434.0 1614.8,1435.2 1615.5,1427.3 1616.1,1413.9 1616.8,1431.4 1617.4,1421.8 1618.0,1425.6 1618.7,1409.5 1619.3,1422.8 1620.0,1421.7 1620.6,1399.8 1621.3,1419.4 1621.9,1407.7 1622.6,1408.1 1623.2,1411.4 1623.9,1402.5 1624.5,1389.9 1625.2,1378.6 1625.8,1393.7 1626.5,1393.2 1627.1,1395.4 1627.8,1389.2 1628.4,1391.8 1629.1,1389.0 1629.7,1377.6 1630.4,1383.5 1631.0,1333.3 1631.7,1358.9 1632.3,1314.7 1633.0,1358.2 1633.6,1356.5 1634.2,1362.3 1634.9,1340.1 1635.5,1338.3 1636.2,1327.6 1636.8,1355.1 1637.5,1312.5 1638.1,1333.0 1638.8,1308.8 1639.4,1339.4 1640.1,1319.7 1640.7,1299.8 1641.4,1276.7 1642.0,1328.0 1642.7,1323.9 1643.3,1320.8 1644.0,1288.2 1644.6,1311.7 1645.3,1307.3 1645.9,1304.5 1646.6,1289.2 1647.2,1299.9 1647.9,1296.2 1648.5,1287.7 1649.2,1282.9 1649.8,1282.6 1650.4,1274.1 1651.1,1279.3 1651.7,1273.5 1652.4,1261.1 1653.0,1268.2 1653.7,1245.3 1654.3,1230.9 1655.0,1188.0 1655.6,1246.9 1656.3,1247.0 1656.9,1241.1 1657.6,1237.0 1658.2,1218.3 1658.9,1230.5 1659.5,1219.6 1660.2,1221.4 1660.8,1216.9 1661.5,1211.1 1662.1,1199.4 1662.8,1188.5 1663.4,1190.9 1664.1,1196.7 1664.7,1192.4 1665.4,1190.6 1666.0,1172.9 1666.6,1158.5 1667.3,1174.1 1667.9,1147.8 1668.6,1162.9 1669.2,1144.5 1669.9,1159.1 1670.5,1084.4 1671.2,1135.7 1671.8,1130.2 1672.5,1136.4 1673.1,1126.3 1673.8,1125.5 1674.4,1091.9 1675.1,1113.8 1675.7,1117.1 1676.4,1099.8 1677.0,1109.2 1677.7,1064.8 1678.3,1095.1 1679.0,1101.7 1679.6,1058.3 1680.3,1092.8 1680.9,1081.1 1681.6,1073.6 1682.2,1075.8 1682.8,1089.7 1683.5,1086.8 1684.1,1075.1 1684.8,1083.3 1685.4,1066.4 1686.1,1094.6 1686.7,1092.6 1687.4,1087.2 1688.0,1079.0 1688.7,1082.5 1689.3,1086.3 1690.0,1096.5 1690.6,1111.1 1691.3,1116.6 1691.9,1091.0 1692.6,1101.4 1693.2,1119.2 1693.9,1132.1 1694.5,1090.7 1695.2,1143.5 1695.8,1145.2 1696.5,1130.1 1697.1,1136.4 1697.8,1160.6 1698.4,1151.7 1699.0,1175.6 1699.7,1178.2 1700.3,1148.1 1701.0,1150.6 1701.6,1171.3 1702.3,1198.1 1702.9,1205.2 1703.6,1205.1 1704.2,1201.7 1704.9,1210.3 1705.5,1219.1 1706.2,1236.9 1706.8,1220.8 1707.5,1242.0 1708.1,1248.1 1708.8,1243.4 1709.4,1268.0 1710.1,1249.5 1710.7,1273.8 1711.4,1256.2 1712.0,1253.4 1712.7,1278.3 1713.3,1292.1 1714.0,1293.4 1714.6,1300.8 1715.2,1305.7 1715.9,1313.6 1716.5,1308.8 1717.2,1327.9 1717.8,1327.0 1718.5,1330.2 1719.1,1328.0 1719.8,1343.3 1720.4,1328.8 1721.1,1345.9 1721.7,1347.9 1722.4,1327.4 1723.0,1355.2 1723.7,1353.0 1724.3,1356.1 1725.0,1373.1 1725.6,1376.8 1726.3,1378.2 1726.9,1359.5 1727.6,1382.1 1728.2,1385.6 1728.9,1385.7 1729.5,1389.7 1730.2,1392.7 1730.8,1393.5 1731.4,1356.0 1732.1,1376.9 1732.7,1377.1 1733.4,1382.7 1734.0,1399.1 1734.7,1382.5 1735.3,1409.9 1736.0,1419.7 1736.6,1407.5 1737.3,1422.8 1737.9,1419.3 1738.6,1420.6 1739.2,1405.6 1739.9,1431.5 1740.5,1432.1 1741.2,1393.6 1741.8,1436.0 1742.5,1424.7 1743.1,1438.2 1743.8,1435.1 1744.4,1442.5 1745.1,1424.1 1745.7,1444.3 1746.4,1441.9 1747.0,1443.0 1747.6,1433.4 1748.3,1440.1 1748.9,1421.0 1749.6,1451.2 1750.2,1428.4 1750.9,1453.1 1751.5,1456.2 1752.2,1440.8 1752.8,1429.5 1753.5,1429.1 1754.1,1430.2 1754.8,1449.1 1755.4,1448.4 1756.1,1430.9 1756.7,1456.6 1757.4,1460.3 1758.0,1437.1 1758.7,1467.9 1759.3,1473.0 1760.0,1470.1 1760.6,1452.0 1761.3,1449.5 1761.9,1473.2 1762.6,1469.0 1763.2,1465.2 1763.8,1461.2 1764.5,1449.0 1765.1,1455.6 1765.8,1452.5 1766.4,1482.9 1767.1,1479.0 1767.7,1475.7 1768.4,1479.3 1769.0,1483.5 1769.7,1471.4 1770.3,1477.3 1771.0,1472.9 1771.6,1485.4 1772.3,1482.8 1772.9,1479.9 1773.6,1480.7 1774.2,1481.4 1774.9,1486.8 1775.5,1480.4 1776.2,1490.6 1776.8,1469.5 1777.5,1468.2 1778.1,1491.2 1778.8,1489.8 1779.4,1472.3 1780.0,1455.4 1780.7,1479.1 1781.3,1450.4 1782.0,1496.6 1782.6,1490.4 1783.3,1480.9 1783.9,1491.9 1784.6,1475.7 1785.2,1483.1 1785.9,1492.9 1786.5,1493.1 1787.2,1486.3 1787.8,1483.7 1788.5,1500.0 1789.1,1494.6 1789.8,1477.2 1790.4,1491.6 1791.1,1494.6 1791.7,1489.4 1792.4,1481.6 1793.0,1504.3 1793.7,1496.3 1794.3,1501.5 1795.0,1489.1 1795.6,1481.1 1796.2,1482.0 1796.9,1481.7 1797.5,1488.1 1798.2,1501.9 1798.8,1505.4 1799.5,1496.8 1800.1,1477.9 1800.8,1471.5 1801.4,1502.1 1802.1,1486.0 1802.7,1494.0 1803.4,1479.7 1804.0,1477.2 1804.7,1508.7 1805.3,1493.2 1806.0,1506.1 1806.6,1496.5 1807.3,1510.8 1807.9,1462.2 1808.6,1508.5 1809.2,1495.4 1809.9,1497.2 1810.5,1491.7 1811.2,1486.3 1811.8,1486.0 1812.4,1513.2 1813.1,1504.4 1813.7,1487.8 1814.4,1481.3 1815.0,1502.5 1815.7,1483.4 1816.3,1490.9 1817.0,1489.9 1817.6,1498.1 1818.3,1504.7 1818.9,1473.5 1819.6,1511.5 1820.2,1510.7 1820.9,1498.6 1821.5,1504.6 1822.2,1503.0 1822.8,1487.5 1823.5,1516.7 1824.1,1502.9 1824.8,1498.3 1825.4,1506.2 1826.1,1501.1 1826.7,1514.5 1827.4,1516.2 1828.0,1503.8 1828.6,1517.9 1829.3,1502.9 1829.9,1504.5 1830.6,1499.9 1831.2,1517.7 1831.9,1509.4 1832.5,1515.9 1833.2,1510.7 1833.8,1506.8 1834.5,1500.1 1835.1,1508.0 1835.8,1512.0 1836.4,1512.9 1837.1,1512.2 1837.7,1502.7 1838.4,1514.6 1839.0,1514.7 1839.7,1506.8 1840.3,1502.7 1841.0,1487.2 1841.6,1510.7 1842.3,1508.1 1842.9,1519.1 1843.6,1516.7 1844.2,1518.2 1844.8,1514.0 1845.5,1514.9 1846.1,1490.8 1846.8,1512.4 1847.4,1508.4 1848.1,1522.2 1848.7,1506.3 1849.4,1507.1 1850.0,1496.9 1850.7,1508.3 1851.3,1498.3 1852.0,1511.2 1852.6,1502.1 1853.3,1520.4 1853.9,1515.2 1854.6,1498.4 1855.2,1522.0 1855.9,1519.0 1856.5,1508.4 1857.2,1520.2 1857.8,1518.5 1858.5,1517.4 1859.1,1506.4 1859.8,1511.3 1860.4,1504.6 1861.0,1501.8 1861.7,1514.1 1862.3,1510.1 1863.0,1505.4 1863.6,1498.8 1864.3,1516.7 1864.9,1518.7 1865.6,1504.6 1866.2,1510.5 1866.9,1518.8 1867.5,1517.2 1868.2,1512.7 1868.8,1523.8 1869.5,1514.7 1870.1,1511.9 1870.8,1522.6 1871.4,1522.0 1872.1,1510.2 1872.7,1516.6 1873.4,1505.0 1874.0,1523.4 1874.7,1507.0 1875.3,1496.4 1876.0,1518.2 1876.6,1522.6 1877.2,1518.2 1877.9,1496.7 1878.5,1513.1 1879.2,1504.8 1879.8,1517.6 1880.5,1512.5 1881.1,1518.9 1881.8,1506.8 1882.4,1516.9 1883.1,1520.9 1883.7,1510.5 1884.4,1519.3 1885.0,1513.3 1885.7,1515.9 1886.3,1512.4 1887.0,1524.2 1887.6,1511.7 1888.3,1522.4 1888.9,1502.5 1889.6,1513.4 1890.2,1514.8 1890.9,1523.2 1891.5,1520.8 1892.2,1519.1 1892.8,1506.7 1893.4,1522.3 1894.1,1510.2 1894.7,1509.3 1895.4,1512.5 1896.0,1514.5 1896.7,1502.2 1897.3,1520.6 1898.0,1520.7 1898.6,1514.9 1899.3,1524.8 1899.9,1514.9 1900.6,1524.0 1901.2,1514.7 1901.9,1526.0 1902.5,1516.3 1903.2,1518.5 1903.8,1517.4 1904.5,1524.5 1905.1,1511.5 1905.8,1513.5 1906.4,1527.3 1907.1,1512.5 1907.7,1516.1 1908.4,1513.5 1909.0,1518.5 1909.6,1516.6 1910.3,1504.4 1910.9,1520.8 1911.6,1506.2 1912.2,1518.7 1912.9,1515.5 1913.5,1523.2 1914.2,1515.8 1914.8,1519.4 1915.5,1507.6 1916.1,1518.0 1916.8,1524.6 1917.4,1523.1 1918.1,1522.6 1918.7,1518.3 1919.4,1522.8 1920.0,1527.5 1920.7,1514.0 1921.3,1518.0 1922.0,1519.9 1922.6,1517.7 1923.3,1517.5 1923.9,1517.4 1924.6,1521.1 1925.2,1506.4 1925.8,1519.1 1926.5,1512.6 1927.1,1523.4 1927.8,1525.5 1928.4,1524.1 1929.1,1520.7 1929.7,1519.8 1930.4,1521.0 1931.0,1510.0 1931.7,1521.6 1932.3,1517.3 1933.0,1520.8 1933.6,1509.3 1934.3,1523.1 1934.9,1523.4 1935.6,1526.5 1936.2,1517.8 1936.9,1508.7 1937.5,1522.0 1938.2,1512.5 1938.8,1524.1 1939.5,1517.1 1940.1,1518.2 1940.8,1509.9 1941.4,1513.8 1942.0,1524.3 1942.7,1521.4 1943.3,1518.5 1944.0,1510.2 1944.6,1514.0 1945.3,1524.9 1945.9,1525.4 1946.6,1518.5 1947.2,1524.3 1947.9,1524.5 1948.5,1513.1 1949.2,1522.5 1949.8,1516.5 1950.5,1527.2 1951.1,1517.3 1951.8,1519.2 1952.4,1515.7 1953.1,1510.4 1953.7,1526.8 1954.4,1519.3 1955.0,1506.7 1955.7,1508.4 1956.3,1517.6 1957.0,1510.6 1957.6,1519.8 1958.2,1514.5 1958.9,1520.4 1959.5,1524.4 1960.2,1519.0 1960.8,1516.8 1961.5,1518.4 1962.1,1525.9 1962.8,1522.9 1963.4,1514.4 1964.1,1512.6 1964.7,1522.3 1965.4,1526.3 1966.0,1522.4 1966.7,1527.4 1967.3,1507.2 1968.0,1517.4 1968.6,1507.4 1969.3,1519.4 1969.9,1525.9 1970.6,1526.6 1971.2,1516.6 1971.9,1525.0 1972.5,1526.2 1973.2,1518.7 1973.8,1518.3 1974.4,1517.6 1975.1,1516.6 1975.7,1514.4 1976.4,1511.2 1977.0,1501.7 1977.7,1521.0 1978.3,1512.8 1979.0,1512.7 1979.6,1525.7 1980.3,1519.2 1980.9,1521.3 1981.6,1511.6 1982.2,1520.5 1982.9,1513.4 1983.5,1512.0 1984.2,1526.2 1984.8,1523.8 1985.5,1507.1 1986.1,1515.3 1986.8,1522.1 1987.4,1526.2 1988.1,1521.8 1988.7,1520.5 1989.4,1525.4 1990.0,1527.2 1990.6,1510.5 1991.3,1527.4 1991.9,1514.6 1992.6,1524.6 1993.2,1519.8 1993.9,1510.9 1994.5,1524.9 1995.2,1515.4 1995.8,1520.1 1996.5,1521.3 1997.1,1514.6 1997.8,1521.7 1998.4,1517.2 1999.1,1516.0 1999.7,1527.8 2000.4,1501.4 2001.0,1524.9 2001.7,1527.5 2002.3,1516.7 2003.0,1526.1 2003.6,1523.3 2004.3,1523.7 2004.9,1524.5 2005.6,1526.8 2006.2,1523.4 2006.8,1517.7 2007.5,1528.8 2008.1,1525.9 2008.8,1519.6 2009.4,1528.9 2010.1,1520.0 2010.7,1526.2 2011.4,1529.9 2012.0,1520.1 2012.7,1517.6 2013.3,1519.7 2014.0,1523.3 2014.6,1524.5 2015.3,1529.9 2015.9,1519.7 2016.6,1509.5 2017.2,1525.5 2017.9,1524.6 2018.5,1525.0 2019.2,1513.7 2019.8,1517.8 2020.5,1523.7 2021.1,1527.6 2021.8,1521.8 2022.4,1526.1 2023.0,1519.8 2023.7,1527.5 2024.3,1508.9 2025.0,1516.1 2025.6,1525.9 2026.3,1525.6 2026.9,1521.8 2027.6,1527.8 2028.2,1529.1 2028.9,1526.2 2029.5,1519.5 2030.2,1526.9 2030.8,1524.2 2031.5,1528.9 2032.1,1520.8 2032.8,1516.4 2033.4,1526.2 2034.1,1525.9 2034.7,1516.6 2035.4,1525.0 2036.0,1521.3 2036.7,1519.7 2037.3,1516.4 2038.0,1519.9 2038.6,1511.8 2039.2,1521.8 2039.9,1526.1 2040.5,1521.1 2041.2,1527.4 2041.8,1524.9 2042.5,1527.8 2043.1,1522.9 2043.8,1522.5 2044.4,1528.6 2045.1,1517.2 2045.7,1517.8 2046.4,1524.5 2047.0,1529.0 2047.7,1527.4 2048.3,1523.9 2049.0,1521.6 2049.6,1506.2 2050.3,1520.6 2050.9,1524.4 2051.6,1516.8 2052.2,1512.8 2052.9,1521.0 2053.5,1528.1 2054.2,1528.2 2054.8,1521.8 2055.4,1525.5 2056.1,1513.2 2056.7,1513.7 2057.4,1520.7 2058.0,1530.3 2058.7,1519.1 2059.3,1519.9 2060.0,1527.8 2060.6,1521.0 2061.3,1526.4 2061.9,1517.7 2062.6,1517.7 2063.2,1521.2 2063.9,1519.0 2064.5,1518.4 2065.2,1518.5 2065.8,1524.8 2066.5,1521.5 2067.1,1522.9 2067.8,1519.5 2068.4,1519.2 2069.1,1517.7 2069.7,1527.1 2070.4,1524.6 2071.0,1521.6 2071.6,1527.5 2072.3,1524.6 2072.9,1522.9 2073.6,1523.0 2074.2,1523.9 2074.9,1530.1 2075.5,1530.2 2076.2,1523.1 2076.8,1529.0 2077.5,1523.6 2078.1,1527.9 2078.8,1527.2 2079.4,1525.6 2080.1,1527.6 2080.7,1524.7 2081.4,1529.4 2082.0,1522.3 2082.7,1517.5 2083.3,1517.9 2084.0,1522.8 2084.6,1524.0 2085.3,1518.7 2085.9,1528.0 2086.6,1521.8 2087.2,1525.6 2087.8,1526.1 2088.5,1519.8 2089.1,1528.8 2089.8,1529.3 2090.4,1530.1 2091.1,1527.7 2091.7,1523.9 2092.4,1515.7 2093.0,1523.7 2093.7,1515.0 2094.3,1512.8 2095.0,1521.6 2095.6,1524.1 2096.3,1524.1 2096.9,1530.0 2097.6,1516.7 2098.2,1513.8 2098.9,1526.5 2099.5,1504.1 2100.2,1519.6 2100.8,1528.3 2101.5,1525.5 2102.1,1521.3 2102.8,1526.1 2103.4,1527.9 2104.0,1528.0 2104.7,1524.7 2105.3,1509.2 2106.0,1517.8 2106.6,1504.3 2107.3,1516.2 2107.9,1519.0 2108.6,1524.0 2109.2,1528.8 2109.9,1512.0 2110.5,1522.5 2111.2,1521.7 2111.8,1525.1 2112.5,1525.5 2113.1,1528.6 2113.8,1521.9 2114.4,1520.7 2115.1,1519.9 2115.7,1516.3 2116.4,1530.6 2117.0,1512.1 2117.7,1523.8 2118.3,1508.0 2119.0,1517.2 2119.6,1526.6 2120.2,1528.6 2120.9,1523.8 2121.5,1530.5 2122.2,1519.7 2122.8,1521.5 2123.5,1517.2 2124.1,1516.1 2124.8,1518.9 2125.4,1527.0 2126.1,1511.1 2126.7,1529.4 2127.4,1519.5 2128.0,1526.0 2128.7,1522.4 2129.3,1530.8 2130.0,1521.9 2130.6,1518.2 2131.3,1524.6 2131.9,1513.6 2132.6,1527.3 2133.2,1519.1 2133.9,1530.7 2134.5,1521.5 2135.2,1521.0 2135.8,1519.5" fill="none" stroke="#111" stroke-width="1.5" stroke-linejoin="round"/><polyline points="1228.6,1524.0 1229.9,1524.0 1231.2,1524.0 1232.5,1524.0 1233.8,1524.0 1235.1,1524.0 1236.4,1524.0 1237.7,1524.0 1239.0,1524.0 1240.3,1524.0 1241.6,1523.9 1242.9,1523.9 1244.2,1523.9 1245.4,1523.9 1246.7,1523.9 1248.0,1523.9 1249.3,1523.9 1250.6,1523.9 1251.9,1523.9 1253.2,1523.9 1254.5,1523.9 1255.8,1523.9 1257.1,1523.9 1258.4,1523.8 1259.7,1523.8 1261.0,1523.8 1262.3,1523.8 1263.6,1523.8 1264.9,1523.8 1266.2,1523.8 1267.5,1523.8 1268.8,1523.8 1270.1,1523.8 1271.4,1523.8 1272.7,1523.8 1274.0,1523.7 1275.3,1523.7 1276.6,1523.7 1277.8,1523.7 1279.1,1523.7 1280.4,1523.7 1281.7,1523.7 1283.0,1523.7 1284.3,1523.7 1285.6,1523.7 1286.9,1523.6 1288.2,1523.6 1289.5,1523.6 1290.8,1523.6 1292.1,1523.6 1293.4,1523.6 1294.7,1523.6 1296.0,1523.6 1297.3,1523.6 1298.6,1523.6 1299.9,1523.5 1301.2,1523.5 1302.5,1523.5 1303.8,1523.5 1305.1,1523.5 1306.4,1523.5 1307.7,1523.5 1309.0,1523.5 1310.2,1523.4 1311.5,1523.4 1312.8,1523.4 1314.1,1523.4 1315.4,1523.4 1316.7,1523.4 1318.0,1523.4 1319.3,1523.4 1320.6,1523.3 1321.9,1523.3 1323.2,1523.3 1324.5,1523.3 1325.8,1523.3 1327.1,1523.3 1328.4,1523.3 1329.7,1523.3 1331.0,1523.2 1332.3,1523.2 1333.6,1523.2 1334.9,1523.2 1336.2,1523.2 1337.5,1523.2 1338.8,1523.2 1340.1,1523.1 1341.4,1523.1 1342.6,1523.1 1343.9,1523.1 1345.2,1523.1 1346.5,1523.1 1347.8,1523.0 1349.1,1523.0 1350.4,1523.0 1351.7,1523.0 1353.0,1523.0 1354.3,1523.0 1355.6,1522.9 1356.9,1522.9 1358.2,1522.9 1359.5,1522.9 1360.8,1522.9 1362.1,1522.8 1363.4,1522.8 1364.7,1522.8 1366.0,1522.8 1367.3,1522.8 1368.6,1522.8 1369.9,1522.7 1371.2,1522.7 1372.5,1522.7 1373.8,1522.7 1375.0,1522.7 1376.3,1522.6 1377.6,1522.6 1378.9,1522.6 1380.2,1522.6 1381.5,1522.5 1382.8,1522.5 1384.1,1522.5 1385.4,1522.5 1386.7,1522.5 1388.0,1522.4 1389.3,1522.4 1390.6,1522.4 1391.9,1522.4 1393.2,1522.3 1394.5,1522.3 1395.8,1522.3 1397.1,1522.3 1398.4,1522.2 1399.7,1522.2 1401.0,1522.2 1402.3,1522.1 1403.6,1522.1 1404.9,1522.1 1406.2,1522.1 1407.4,1522.0 1408.7,1522.0 1410.0,1522.0 1411.3,1521.9 1412.6,1521.9 1413.9,1521.9 1415.2,1521.8 1416.5,1521.8 1417.8,1521.8 1419.1,1521.8 1420.4,1521.7 1421.7,1521.7 1423.0,1521.7 1424.3,1521.6 1425.6,1521.6 1426.9,1521.5 1428.2,1521.5 1429.5,1521.5 1430.8,1521.4 1432.1,1521.4 1433.4,1521.4 1434.7,1521.3 1436.0,1521.3 1437.3,1521.2 1438.6,1521.2 1439.8,1521.2 1441.1,1521.1 1442.4,1521.1 1443.7,1521.0 1445.0,1521.0 1446.3,1520.9 1447.6,1520.9 1448.9,1520.8 1450.2,1520.8 1451.5,1520.7 1452.8,1520.7 1454.1,1520.7 1455.4,1520.6 1456.7,1520.5 1458.0,1520.5 1459.3,1520.4 1460.6,1520.4 1461.9,1520.3 1463.2,1520.3 1464.5,1520.2 1465.8,1520.2 1467.1,1520.1 1468.4,1520.0 1469.7,1520.0 1471.0,1519.9 1472.2,1519.9 1473.5,1519.8 1474.8,1519.7 1476.1,1519.7 1477.4,1519.6 1478.7,1519.5 1480.0,1519.5 1481.3,1519.4 1482.6,1519.3 1483.9,1519.2 1485.2,1519.2 1486.5,1519.1 1487.8,1519.0 1489.1,1518.9 1490.4,1518.8 1491.7,1518.8 1493.0,1518.7 1494.3,1518.6 1495.6,1518.5 1496.9,1518.4 1498.2,1518.3 1499.5,1518.2 1500.8,1518.1 1502.1,1518.0 1503.4,1517.9 1504.6,1517.8 1505.9,1517.7 1507.2,1517.6 1508.5,1517.5 1509.8,1517.4 1511.1,1517.3 1512.4,1517.2 1513.7,1517.0 1515.0,1516.9 1516.3,1516.8 1517.6,1516.7 1518.9,1516.5 1520.2,1516.4 1521.5,1516.3 1522.8,1516.1 1524.1,1516.0 1525.4,1515.9 1526.7,1515.7 1528.0,1515.6 1529.3,1515.4 1530.6,1515.2 1531.9,1515.1 1533.2,1514.9 1534.5,1514.7 1535.8,1514.6 1537.0,1514.4 1538.3,1514.2 1539.6,1514.0 1540.9,1513.8 1542.2,1513.6 1543.5,1513.4 1544.8,1513.2 1546.1,1513.0 1547.4,1512.8 1548.7,1512.5 1550.0,1512.3 1551.3,1512.1 1552.6,1511.8 1553.9,1511.6 1555.2,1511.3 1556.5,1511.0 1557.8,1510.7 1559.1,1510.5 1560.4,1510.2 1561.7,1509.9 1563.0,1509.6 1564.3,1509.2 1565.6,1508.9 1566.9,1508.6 1568.2,1508.2 1569.4,1507.9 1570.7,1507.5 1572.0,1507.1 1573.3,1506.7 1574.6,1506.3 1575.9,1505.9 1577.2,1505.4 1578.5,1505.0 1579.8,1504.5 1581.1,1504.0 1582.4,1503.5 1583.7,1503.0 1585.0,1502.5 1586.3,1501.9 1587.6,1501.3 1588.9,1500.7 1590.2,1500.1 1591.5,1499.5 1592.8,1498.8 1594.1,1498.1 1595.4,1497.4 1596.7,1496.6 1598.0,1495.8 1599.3,1495.0 1600.6,1494.2 1601.8,1493.3 1603.1,1492.4 1604.4,1491.4 1605.7,1490.4 1607.0,1489.4 1608.3,1488.3 1609.6,1487.2 1610.9,1486.0 1612.2,1484.7 1613.5,1483.5 1614.8,1482.1 1616.1,1480.7 1617.4,1479.2 1618.7,1477.6 1620.0,1476.0 1621.3,1474.3 1622.6,1472.5 1623.9,1470.6 1625.2,1468.6 1626.5,1466.4 1627.8,1464.2 1629.1,1461.9 1630.4,1459.4 1631.7,1456.8 1633.0,1454.1 1634.2,1451.2 1635.5,1448.1 1636.8,1444.9 1638.1,1441.4 1639.4,1437.8 1640.7,1434.0 1642.0,1429.9 1643.3,1425.5 1644.6,1420.9 1645.9,1416.0 1647.2,1410.9 1648.5,1405.3 1649.8,1399.5 1651.1,1393.3 1652.4,1386.7 1653.7,1379.7 1655.0,1372.2 1656.3,1364.3 1657.6,1355.9 1658.9,1347.1 1660.2,1337.7 1661.5,1327.9 1662.8,1317.5 1664.1,1306.6 1665.4,1295.3 1666.6,1283.5 1667.9,1271.3 1669.2,1258.7 1670.5,1245.9 1671.8,1233.0 1673.1,1220.1 1674.4,1207.4 1675.7,1195.1 1677.0,1183.3 1678.3,1172.4 1679.6,1162.6 1680.9,1154.0 1682.2,1147.0 1683.5,1141.8 1684.8,1138.4 1686.1,1137.0 1687.4,1137.4 1688.7,1139.2 1690.0,1142.3 1691.3,1146.6 1692.6,1152.1 1693.9,1158.6 1695.2,1166.1 1696.5,1174.3 1697.8,1183.3 1699.0,1192.8 1700.3,1202.7 1701.6,1212.9 1702.9,1223.4 1704.2,1233.9 1705.5,1244.4 1706.8,1254.8 1708.1,1265.1 1709.4,1275.2 1710.7,1285.1 1712.0,1294.7 1713.3,1304.0 1714.6,1313.0 1715.9,1321.6 1717.2,1329.9 1718.5,1337.9 1719.8,1345.6 1721.1,1352.9 1722.4,1359.9 1723.7,1366.5 1725.0,1372.9 1726.3,1378.9 1727.6,1384.7 1728.9,1390.2 1730.2,1395.5 1731.4,1400.4 1732.7,1405.2 1734.0,1409.7 1735.3,1414.0 1736.6,1418.1 1737.9,1422.0 1739.2,1425.7 1740.5,1429.2 1741.8,1432.6 1743.1,1435.8 1744.4,1438.9 1745.7,1441.8 1747.0,1444.6 1748.3,1447.3 1749.6,1449.8 1750.9,1452.3 1752.2,1454.6 1753.5,1456.8 1754.8,1458.9 1756.1,1461.0 1757.4,1462.9 1758.7,1464.8 1760.0,1466.6 1761.3,1468.3 1762.6,1469.9 1763.8,1471.5 1765.1,1473.0 1766.4,1474.5 1767.7,1475.9 1769.0,1477.2 1770.3,1478.5 1771.6,1479.8 1772.9,1481.0 1774.2,1482.1 1775.5,1483.2 1776.8,1484.3 1778.1,1485.3 1779.4,1486.3 1780.7,1487.3 1782.0,1488.2 1783.3,1489.1 1784.6,1489.9 1785.9,1490.8 1787.2,1491.6 1788.5,1492.4 1789.8,1493.1 1791.1,1493.8 1792.4,1494.5 1793.7,1495.2 1795.0,1495.9 1796.2,1496.5 1797.5,1497.1 1798.8,1497.7 1800.1,1498.3 1801.4,1498.9 1802.7,1499.4 1804.0,1499.9 1805.3,1500.4 1806.6,1500.9 1807.9,1501.4 1809.2,1501.9 1810.5,1502.3 1811.8,1502.8 1813.1,1503.2 1814.4,1503.6 1815.7,1504.0 1817.0,1504.4 1818.3,1504.8 1819.6,1505.2 1820.9,1505.6 1822.2,1505.9 1823.5,1506.3 1824.8,1506.6 1826.1,1506.9 1827.4,1507.2 1828.6,1507.6 1829.9,1507.9 1831.2,1508.2 1832.5,1508.4 1833.8,1508.7 1835.1,1509.0 1836.4,1509.3 1837.7,1509.5 1839.0,1509.8 1840.3,1510.0 1841.6,1510.3 1842.9,1510.5 1844.2,1510.7 1845.5,1511.0 1846.8,1511.2 1848.1,1511.4 1849.4,1511.6 1850.7,1511.8 1852.0,1512.0 1853.3,1512.2 1854.6,1512.4 1855.9,1512.6 1857.2,1512.8 1858.5,1513.0 1859.8,1513.1 1861.0,1513.3 1862.3,1513.5 1863.6,1513.6 1864.9,1513.8 1866.2,1514.0 1867.5,1514.1 1868.8,1514.3 1870.1,1514.4 1871.4,1514.6 1872.7,1514.7 1874.0,1514.9 1875.3,1515.0 1876.6,1515.1 1877.9,1515.3 1879.2,1515.4 1880.5,1515.5 1881.8,1515.6 1883.1,1515.8 1884.4,1515.9 1885.7,1516.0 1887.0,1516.1 1888.3,1516.2 1889.6,1516.3 1890.9,1516.4 1892.2,1516.6 1893.4,1516.7 1894.7,1516.8 1896.0,1516.9 1897.3,1517.0 1898.6,1517.1 1899.9,1517.2 1901.2,1517.3 1902.5,1517.3 1903.8,1517.4 1905.1,1517.5 1906.4,1517.6 1907.7,1517.7 1909.0,1517.8 1910.3,1517.9 1911.6,1518.0 1912.9,1518.0 1914.2,1518.1 1915.5,1518.2 1916.8,1518.3 1918.1,1518.3 1919.4,1518.4 1920.7,1518.5 1922.0,1518.6 1923.3,1518.6 1924.6,1518.7 1925.8,1518.8 1927.1,1518.8 1928.4,1518.9 1929.7,1519.0 1931.0,1519.0 1932.3,1519.1 1933.6,1519.2 1934.9,1519.2 1936.2,1519.3 1937.5,1519.4 1938.8,1519.4 1940.1,1519.5 1941.4,1519.5 1942.7,1519.6 1944.0,1519.6 1945.3,1519.7 1946.6,1519.7 1947.9,1519.8 1949.2,1519.9 1950.5,1519.9 1951.8,1520.0 1953.1,1520.0 1954.4,1520.1 1955.7,1520.1 1957.0,1520.1 1958.2,1520.2 1959.5,1520.2 1960.8,1520.3 1962.1,1520.3 1963.4,1520.4 1964.7,1520.4 1966.0,1520.5 1967.3,1520.5 1968.6,1520.6 1969.9,1520.6 1971.2,1520.6 1972.5,1520.7 1973.8,1520.7 1975.1,1520.8 1976.4,1520.8 1977.7,1520.8 1979.0,1520.9 1980.3,1520.9 1981.6,1520.9 1982.9,1521.0 1984.2,1521.0 1985.5,1521.1 1986.8,1521.1 1988.1,1521.1 1989.4,1521.2 1990.6,1521.2 1991.9,1521.2 1993.2,1521.3 1994.5,1521.3 1995.8,1521.3 1997.1,1521.4 1998.4,1521.4 1999.7,1521.4 2001.0,1521.5 2002.3,1521.5 2003.6,1521.5 2004.9,1521.5 2006.2,1521.6 2007.5,1521.6 2008.8,1521.6 2010.1,1521.7 2011.4,1521.7 2012.7,1521.7 2014.0,1521.7 2015.3,1521.8 2016.6,1521.8 2017.9,1521.8 2019.2,1521.8 2020.5,1521.9 2021.8,1521.9 2023.0,1521.9 2024.3,1521.9 2025.6,1522.0 2026.9,1522.0 2028.2,1522.0 2029.5,1522.0 2030.8,1522.1 2032.1,1522.1 2033.4,1522.1 2034.7,1522.1 2036.0,1522.2 2037.3,1522.2 2038.6,1522.2 2039.9,1522.2 2041.2,1522.2 2042.5,1522.3 2043.8,1522.3 2045.1,1522.3 2046.4,1522.3 2047.7,1522.3 2049.0,1522.4 2050.3,1522.4 2051.6,1522.4 2052.9,1522.4 2054.2,1522.4 2055.4,1522.5 2056.7,1522.5 2058.0,1522.5 2059.3,1522.5 2060.6,1522.5 2061.9,1522.6 2063.2,1522.6 2064.5,1522.6 2065.8,1522.6 2067.1,1522.6 2068.4,1522.6 2069.7,1522.7 2071.0,1522.7 2072.3,1522.7 2073.6,1522.7 2074.9,1522.7 2076.2,1522.7 2077.5,1522.8 2078.8,1522.8 2080.1,1522.8 2081.4,1522.8 2082.7,1522.8 2084.0,1522.8 2085.3,1522.9 2086.6,1522.9 2087.8,1522.9 2089.1,1522.9 2090.4,1522.9 2091.7,1522.9 2093.0,1522.9 2094.3,1523.0 2095.6,1523.0 2096.9,1523.0 2098.2,1523.0 2099.5,1523.0 2100.8,1523.0 2102.1,1523.0 2103.4,1523.1 2104.7,1523.1 2106.0,1523.1 2107.3,1523.1 2108.6,1523.1 2109.9,1523.1 2111.2,1523.1 2112.5,1523.1 2113.8,1523.2 2115.1,1523.2 2116.4,1523.2 2117.7,1523.2 2119.0,1523.2 2120.2,1523.2 2121.5,1523.2 2122.8,1523.2 2124.1,1523.3 2125.4,1523.3 2126.7,1523.3 2128.0,1523.3 2129.3,1523.3 2130.6,1523.3 2131.9,1523.3 2133.2,1523.3 2134.5,1523.3 2135.8,1523.4" fill="none" stroke="#14108a" stroke-width="2.8" stroke-linejoin="round"/><polyline points="1228.6,1524.4 1229.9,1524.4 1231.2,1524.4 1232.5,1524.4 1233.8,1524.4 1235.1,1524.4 1236.4,1524.4 1237.7,1524.4 1239.0,1524.4 1240.3,1524.3 1241.6,1524.3 1242.9,1524.3 1244.2,1524.3 1245.4,1524.3 1246.7,1524.3 1248.0,1524.3 1249.3,1524.3 1250.6,1524.3 1251.9,1524.3 1253.2,1524.3 1254.5,1524.3 1255.8,1524.3 1257.1,1524.3 1258.4,1524.3 1259.7,1524.3 1261.0,1524.3 1262.3,1524.2 1263.6,1524.2 1264.9,1524.2 1266.2,1524.2 1267.5,1524.2 1268.8,1524.2 1270.1,1524.2 1271.4,1524.2 1272.7,1524.2 1274.0,1524.2 1275.3,1524.2 1276.6,1524.2 1277.8,1524.2 1279.1,1524.2 1280.4,1524.2 1281.7,1524.1 1283.0,1524.1 1284.3,1524.1 1285.6,1524.1 1286.9,1524.1 1288.2,1524.1 1289.5,1524.1 1290.8,1524.1 1292.1,1524.1 1293.4,1524.1 1294.7,1524.1 1296.0,1524.1 1297.3,1524.1 1298.6,1524.1 1299.9,1524.0 1301.2,1524.0 1302.5,1524.0 1303.8,1524.0 1305.1,1524.0 1306.4,1524.0 1307.7,1524.0 1309.0,1524.0 1310.2,1524.0 1311.5,1524.0 1312.8,1524.0 1314.1,1523.9 1315.4,1523.9 1316.7,1523.9 1318.0,1523.9 1319.3,1523.9 1320.6,1523.9 1321.9,1523.9 1323.2,1523.9 1324.5,1523.9 1325.8,1523.9 1327.1,1523.8 1328.4,1523.8 1329.7,1523.8 1331.0,1523.8 1332.3,1523.8 1333.6,1523.8 1334.9,1523.8 1336.2,1523.8 1337.5,1523.8 1338.8,1523.7 1340.1,1523.7 1341.4,1523.7 1342.6,1523.7 1343.9,1523.7 1345.2,1523.7 1346.5,1523.7 1347.8,1523.7 1349.1,1523.7 1350.4,1523.6 1351.7,1523.6 1353.0,1523.6 1354.3,1523.6 1355.6,1523.6 1356.9,1523.6 1358.2,1523.6 1359.5,1523.5 1360.8,1523.5 1362.1,1523.5 1363.4,1523.5 1364.7,1523.5 1366.0,1523.5 1367.3,1523.5 1368.6,1523.4 1369.9,1523.4 1371.2,1523.4 1372.5,1523.4 1373.8,1523.4 1375.0,1523.4 1376.3,1523.3 1377.6,1523.3 1378.9,1523.3 1380.2,1523.3 1381.5,1523.3 1382.8,1523.3 1384.1,1523.2 1385.4,1523.2 1386.7,1523.2 1388.0,1523.2 1389.3,1523.2 1390.6,1523.1 1391.9,1523.1 1393.2,1523.1 1394.5,1523.1 1395.8,1523.1 1397.1,1523.0 1398.4,1523.0 1399.7,1523.0 1401.0,1523.0 1402.3,1523.0 1403.6,1522.9 1404.9,1522.9 1406.2,1522.9 1407.4,1522.9 1408.7,1522.8 1410.0,1522.8 1411.3,1522.8 1412.6,1522.8 1413.9,1522.7 1415.2,1522.7 1416.5,1522.7 1417.8,1522.7 1419.1,1522.6 1420.4,1522.6 1421.7,1522.6 1423.0,1522.6 1424.3,1522.5 1425.6,1522.5 1426.9,1522.5 1428.2,1522.4 1429.5,1522.4 1430.8,1522.4 1432.1,1522.3 1433.4,1522.3 1434.7,1522.3 1436.0,1522.2 1437.3,1522.2 1438.6,1522.2 1439.8,1522.1 1441.1,1522.1 1442.4,1522.1 1443.7,1522.0 1445.0,1522.0 1446.3,1522.0 1447.6,1521.9 1448.9,1521.9 1450.2,1521.8 1451.5,1521.8 1452.8,1521.8 1454.1,1521.7 1455.4,1521.7 1456.7,1521.6 1458.0,1521.6 1459.3,1521.5 1460.6,1521.5 1461.9,1521.4 1463.2,1521.4 1464.5,1521.3 1465.8,1521.3 1467.1,1521.2 1468.4,1521.2 1469.7,1521.1 1471.0,1521.1 1472.2,1521.0 1473.5,1521.0 1474.8,1520.9 1476.1,1520.8 1477.4,1520.8 1478.7,1520.7 1480.0,1520.7 1481.3,1520.6 1482.6,1520.5 1483.9,1520.5 1485.2,1520.4 1486.5,1520.3 1487.8,1520.3 1489.1,1520.2 1490.4,1520.1 1491.7,1520.0 1493.0,1520.0 1494.3,1519.9 1495.6,1519.8 1496.9,1519.7 1498.2,1519.6 1499.5,1519.5 1500.8,1519.5 1502.1,1519.4 1503.4,1519.3 1504.6,1519.2 1505.9,1519.1 1507.2,1519.0 1508.5,1518.9 1509.8,1518.8 1511.1,1518.7 1512.4,1518.5 1513.7,1518.4 1515.0,1518.3 1516.3,1518.2 1517.6,1518.1 1518.9,1518.0 1520.2,1517.8 1521.5,1517.7 1522.8,1517.6 1524.1,1517.4 1525.4,1517.3 1526.7,1517.1 1528.0,1517.0 1529.3,1516.8 1530.6,1516.7 1531.9,1516.5 1533.2,1516.3 1534.5,1516.2 1535.8,1516.0 1537.0,1515.8 1538.3,1515.6 1539.6,1515.4 1540.9,1515.2 1542.2,1515.0 1543.5,1514.8 1544.8,1514.6 1546.1,1514.3 1547.4,1514.1 1548.7,1513.8 1550.0,1513.6 1551.3,1513.3 1552.6,1513.0 1553.9,1512.8 1555.2,1512.5 1556.5,1512.2 1557.8,1511.8 1559.1,1511.5 1560.4,1511.2 1561.7,1510.8 1563.0,1510.4 1564.3,1510.1 1565.6,1509.6 1566.9,1509.2 1568.2,1508.8 1569.4,1508.3 1570.7,1507.8 1572.0,1507.3 1573.3,1506.8 1574.6,1506.3 1575.9,1505.7 1577.2,1505.1 1578.5,1504.5 1579.8,1503.8 1581.1,1503.1 1582.4,1502.4 1583.7,1501.6 1585.0,1500.8 1586.3,1500.0 1587.6,1499.1 1588.9,1498.2 1590.2,1497.3 1591.5,1496.3 1592.8,1495.2 1594.1,1494.1 1595.4,1493.0 1596.7,1491.8 1598.0,1490.5 1599.3,1489.2 1600.6,1487.8 1601.8,1486.4 1603.1,1484.9 1604.4,1483.3 1605.7,1481.7 1607.0,1480.0 1608.3,1478.3 1609.6,1476.4 1610.9,1474.5 1612.2,1472.5 1613.5,1470.5 1614.8,1468.3 1616.1,1466.1 1617.4,1463.8 1618.7,1461.5 1620.0,1459.1 1621.3,1456.6 1622.6,1454.0 1623.9,1451.3 1625.2,1448.6 1626.5,1445.9 1627.8,1443.0 1629.1,1440.2 1630.4,1437.2 1631.7,1434.3 1633.0,1431.3 1634.2,1428.3 1635.5,1425.4 1636.8,1422.4 1638.1,1419.5 1639.4,1416.6 1640.7,1413.8 1642.0,1411.0 1643.3,1408.4 1644.6,1405.9 1645.9,1403.6 1647.2,1401.4 1648.5,1399.5 1649.8,1397.7 1651.1,1396.2 1652.4,1395.0 1653.7,1394.0 1655.0,1393.3 1656.3,1392.9 1657.6,1392.8 1658.9,1393.2 1660.2,1394.3 1661.5,1395.9 1662.8,1398.0 1664.1,1400.7 1665.4,1403.7 1666.6,1407.2 1667.9,1410.9 1669.2,1414.8 1670.5,1418.9 1671.8,1423.2 1673.1,1427.5 1674.4,1431.7 1675.7,1436.0 1677.0,1440.2 1678.3,1444.4 1679.6,1448.4 1680.9,1452.3 1682.2,1456.0 1683.5,1459.6 1684.8,1463.1 1686.1,1466.4 1687.4,1469.6 1688.7,1472.6 1690.0,1475.4 1691.3,1478.1 1692.6,1480.6 1693.9,1483.0 1695.2,1485.3 1696.5,1487.4 1697.8,1489.4 1699.0,1491.3 1700.3,1493.0 1701.6,1494.7 1702.9,1496.2 1704.2,1497.7 1705.5,1499.0 1706.8,1500.3 1708.1,1501.4 1709.4,1502.5 1710.7,1503.6 1712.0,1504.5 1713.3,1505.4 1714.6,1506.3 1715.9,1507.1 1717.2,1507.8 1718.5,1508.5 1719.8,1509.2 1721.1,1509.8 1722.4,1510.3 1723.7,1510.9 1725.0,1511.4 1726.3,1511.9 1727.6,1512.3 1728.9,1512.8 1730.2,1513.2 1731.4,1513.6 1732.7,1513.9 1734.0,1514.3 1735.3,1514.6 1736.6,1514.9 1737.9,1515.2 1739.2,1515.5 1740.5,1515.8 1741.8,1516.1 1743.1,1516.3 1744.4,1516.6 1745.7,1516.8 1747.0,1517.0 1748.3,1517.2 1749.6,1517.4 1750.9,1517.6 1752.2,1517.8 1753.5,1518.0 1754.8,1518.2 1756.1,1518.4 1757.4,1518.5 1758.7,1518.7 1760.0,1518.8 1761.3,1519.0 1762.6,1519.1 1763.8,1519.3 1765.1,1519.4 1766.4,1519.5 1767.7,1519.7 1769.0,1519.8 1770.3,1519.9 1771.6,1520.0 1772.9,1520.1 1774.2,1520.2 1775.5,1520.3 1776.8,1520.4 1778.1,1520.5 1779.4,1520.6 1780.7,1520.7 1782.0,1520.8 1783.3,1520.9 1784.6,1521.0 1785.9,1521.1 1787.2,1521.1 1788.5,1521.2 1789.8,1521.3 1791.1,1521.4 1792.4,1521.4 1793.7,1521.5 1795.0,1521.6 1796.2,1521.6 1797.5,1521.7 1798.8,1521.8 1800.1,1521.8 1801.4,1521.9 1802.7,1521.9 1804.0,1522.0 1805.3,1522.0 1806.6,1522.1 1807.9,1522.1 1809.2,1522.2 1810.5,1522.2 1811.8,1522.3 1813.1,1522.3 1814.4,1522.4 1815.7,1522.4 1817.0,1522.5 1818.3,1522.5 1819.6,1522.6 1820.9,1522.6 1822.2,1522.6 1823.5,1522.7 1824.8,1522.7 1826.1,1522.8 1827.4,1522.8 1828.6,1522.8 1829.9,1522.9 1831.2,1522.9 1832.5,1522.9 1833.8,1523.0 1835.1,1523.0 1836.4,1523.0 1837.7,1523.1 1839.0,1523.1 1840.3,1523.1 1841.6,1523.1 1842.9,1523.2 1844.2,1523.2 1845.5,1523.2 1846.8,1523.2 1848.1,1523.3 1849.4,1523.3 1850.7,1523.3 1852.0,1523.3 1853.3,1523.4 1854.6,1523.4 1855.9,1523.4 1857.2,1523.4 1858.5,1523.5 1859.8,1523.5 1861.0,1523.5 1862.3,1523.5 1863.6,1523.5 1864.9,1523.6 1866.2,1523.6 1867.5,1523.6 1868.8,1523.6 1870.1,1523.6 1871.4,1523.7 1872.7,1523.7 1874.0,1523.7 1875.3,1523.7 1876.6,1523.7 1877.9,1523.8 1879.2,1523.8 1880.5,1523.8 1881.8,1523.8 1883.1,1523.8 1884.4,1523.8 1885.7,1523.8 1887.0,1523.9 1888.3,1523.9 1889.6,1523.9 1890.9,1523.9 1892.2,1523.9 1893.4,1523.9 1894.7,1523.9 1896.0,1524.0 1897.3,1524.0 1898.6,1524.0 1899.9,1524.0 1901.2,1524.0 1902.5,1524.0 1903.8,1524.0 1905.1,1524.0 1906.4,1524.1 1907.7,1524.1 1909.0,1524.1 1910.3,1524.1 1911.6,1524.1 1912.9,1524.1 1914.2,1524.1 1915.5,1524.1 1916.8,1524.1 1918.1,1524.2 1919.4,1524.2 1920.7,1524.2 1922.0,1524.2 1923.3,1524.2 1924.6,1524.2 1925.8,1524.2 1927.1,1524.2 1928.4,1524.2 1929.7,1524.2 1931.0,1524.3 1932.3,1524.3 1933.6,1524.3 1934.9,1524.3 1936.2,1524.3 1937.5,1524.3 1938.8,1524.3 1940.1,1524.3 1941.4,1524.3 1942.7,1524.3 1944.0,1524.3 1945.3,1524.3 1946.6,1524.4 1947.9,1524.4 1949.2,1524.4 1950.5,1524.4 1951.8,1524.4 1953.1,1524.4 1954.4,1524.4 1955.7,1524.4 1957.0,1524.4 1958.2,1524.4 1959.5,1524.4 1960.8,1524.4 1962.1,1524.4 1963.4,1524.4 1964.7,1524.4 1966.0,1524.5 1967.3,1524.5 1968.6,1524.5 1969.9,1524.5 1971.2,1524.5 1972.5,1524.5 1973.8,1524.5 1975.1,1524.5 1976.4,1524.5 1977.7,1524.5 1979.0,1524.5 1980.3,1524.5 1981.6,1524.5 1982.9,1524.5 1984.2,1524.5 1985.5,1524.5 1986.8,1524.5 1988.1,1524.5 1989.4,1524.6 1990.6,1524.6 1991.9,1524.6 1993.2,1524.6 1994.5,1524.6 1995.8,1524.6 1997.1,1524.6 1998.4,1524.6 1999.7,1524.6 2001.0,1524.6 2002.3,1524.6 2003.6,1524.6 2004.9,1524.6 2006.2,1524.6 2007.5,1524.6 2008.8,1524.6 2010.1,1524.6 2011.4,1524.6 2012.7,1524.6 2014.0,1524.6 2015.3,1524.6 2016.6,1524.6 2017.9,1524.6 2019.2,1524.7 2020.5,1524.7 2021.8,1524.7 2023.0,1524.7 2024.3,1524.7 2025.6,1524.7 2026.9,1524.7 2028.2,1524.7 2029.5,1524.7 2030.8,1524.7 2032.1,1524.7 2033.4,1524.7 2034.7,1524.7 2036.0,1524.7 2037.3,1524.7 2038.6,1524.7 2039.9,1524.7 2041.2,1524.7 2042.5,1524.7 2043.8,1524.7 2045.1,1524.7 2046.4,1524.7 2047.7,1524.7 2049.0,1524.7 2050.3,1524.7 2051.6,1524.7 2052.9,1524.7 2054.2,1524.7 2055.4,1524.7 2056.7,1524.8 2058.0,1524.8 2059.3,1524.8 2060.6,1524.8 2061.9,1524.8 2063.2,1524.8 2064.5,1524.8 2065.8,1524.8 2067.1,1524.8 2068.4,1524.8 2069.7,1524.8 2071.0,1524.8 2072.3,1524.8 2073.6,1524.8 2074.9,1524.8 2076.2,1524.8 2077.5,1524.8 2078.8,1524.8 2080.1,1524.8 2081.4,1524.8 2082.7,1524.8 2084.0,1524.8 2085.3,1524.8 2086.6,1524.8 2087.8,1524.8 2089.1,1524.8 2090.4,1524.8 2091.7,1524.8 2093.0,1524.8 2094.3,1524.8 2095.6,1524.8 2096.9,1524.8 2098.2,1524.8 2099.5,1524.8 2100.8,1524.8 2102.1,1524.8 2103.4,1524.8 2104.7,1524.8 2106.0,1524.8 2107.3,1524.8 2108.6,1524.8 2109.9,1524.8 2111.2,1524.8 2112.5,1524.9 2113.8,1524.9 2115.1,1524.9 2116.4,1524.9 2117.7,1524.9 2119.0,1524.9 2120.2,1524.9 2121.5,1524.9 2122.8,1524.9 2124.1,1524.9 2125.4,1524.9 2126.7,1524.9 2128.0,1524.9 2129.3,1524.9 2130.6,1524.9 2131.9,1524.9 2133.2,1524.9 2134.5,1524.9 2135.8,1524.9" fill="none" stroke="#b82a2e" stroke-width="2.8" stroke-linejoin="round"/><polyline points="1228.6,1523.2 1229.9,1523.2 1231.2,1523.2 1232.5,1523.2 1233.8,1523.2 1235.1,1523.2 1236.4,1523.1 1237.7,1523.1 1239.0,1523.1 1240.3,1523.1 1241.6,1523.1 1242.9,1523.1 1244.2,1523.1 1245.4,1523.1 1246.7,1523.0 1248.0,1523.0 1249.3,1523.0 1250.6,1523.0 1251.9,1523.0 1253.2,1523.0 1254.5,1523.0 1255.8,1522.9 1257.1,1522.9 1258.4,1522.9 1259.7,1522.9 1261.0,1522.9 1262.3,1522.9 1263.6,1522.9 1264.9,1522.8 1266.2,1522.8 1267.5,1522.8 1268.8,1522.8 1270.1,1522.8 1271.4,1522.8 1272.7,1522.8 1274.0,1522.7 1275.3,1522.7 1276.6,1522.7 1277.8,1522.7 1279.1,1522.7 1280.4,1522.7 1281.7,1522.6 1283.0,1522.6 1284.3,1522.6 1285.6,1522.6 1286.9,1522.6 1288.2,1522.6 1289.5,1522.5 1290.8,1522.5 1292.1,1522.5 1293.4,1522.5 1294.7,1522.5 1296.0,1522.4 1297.3,1522.4 1298.6,1522.4 1299.9,1522.4 1301.2,1522.4 1302.5,1522.3 1303.8,1522.3 1305.1,1522.3 1306.4,1522.3 1307.7,1522.3 1309.0,1522.2 1310.2,1522.2 1311.5,1522.2 1312.8,1522.2 1314.1,1522.2 1315.4,1522.1 1316.7,1522.1 1318.0,1522.1 1319.3,1522.1 1320.6,1522.1 1321.9,1522.0 1323.2,1522.0 1324.5,1522.0 1325.8,1522.0 1327.1,1521.9 1328.4,1521.9 1329.7,1521.9 1331.0,1521.9 1332.3,1521.8 1333.6,1521.8 1334.9,1521.8 1336.2,1521.8 1337.5,1521.7 1338.8,1521.7 1340.1,1521.7 1341.4,1521.7 1342.6,1521.6 1343.9,1521.6 1345.2,1521.6 1346.5,1521.5 1347.8,1521.5 1349.1,1521.5 1350.4,1521.5 1351.7,1521.4 1353.0,1521.4 1354.3,1521.4 1355.6,1521.3 1356.9,1521.3 1358.2,1521.3 1359.5,1521.2 1360.8,1521.2 1362.1,1521.2 1363.4,1521.1 1364.7,1521.1 1366.0,1521.1 1367.3,1521.0 1368.6,1521.0 1369.9,1521.0 1371.2,1520.9 1372.5,1520.9 1373.8,1520.9 1375.0,1520.8 1376.3,1520.8 1377.6,1520.7 1378.9,1520.7 1380.2,1520.7 1381.5,1520.6 1382.8,1520.6 1384.1,1520.5 1385.4,1520.5 1386.7,1520.5 1388.0,1520.4 1389.3,1520.4 1390.6,1520.3 1391.9,1520.3 1393.2,1520.2 1394.5,1520.2 1395.8,1520.1 1397.1,1520.1 1398.4,1520.1 1399.7,1520.0 1401.0,1520.0 1402.3,1519.9 1403.6,1519.9 1404.9,1519.8 1406.2,1519.8 1407.4,1519.7 1408.7,1519.6 1410.0,1519.6 1411.3,1519.5 1412.6,1519.5 1413.9,1519.4 1415.2,1519.4 1416.5,1519.3 1417.8,1519.3 1419.1,1519.2 1420.4,1519.1 1421.7,1519.1 1423.0,1519.0 1424.3,1518.9 1425.6,1518.9 1426.9,1518.8 1428.2,1518.7 1429.5,1518.7 1430.8,1518.6 1432.1,1518.5 1433.4,1518.5 1434.7,1518.4 1436.0,1518.3 1437.3,1518.3 1438.6,1518.2 1439.8,1518.1 1441.1,1518.0 1442.4,1517.9 1443.7,1517.9 1445.0,1517.8 1446.3,1517.7 1447.6,1517.6 1448.9,1517.5 1450.2,1517.4 1451.5,1517.3 1452.8,1517.3 1454.1,1517.2 1455.4,1517.1 1456.7,1517.0 1458.0,1516.9 1459.3,1516.8 1460.6,1516.7 1461.9,1516.6 1463.2,1516.5 1464.5,1516.4 1465.8,1516.3 1467.1,1516.1 1468.4,1516.0 1469.7,1515.9 1471.0,1515.8 1472.2,1515.7 1473.5,1515.6 1474.8,1515.4 1476.1,1515.3 1477.4,1515.2 1478.7,1515.1 1480.0,1514.9 1481.3,1514.8 1482.6,1514.6 1483.9,1514.5 1485.2,1514.4 1486.5,1514.2 1487.8,1514.1 1489.1,1513.9 1490.4,1513.8 1491.7,1513.6 1493.0,1513.4 1494.3,1513.3 1495.6,1513.1 1496.9,1512.9 1498.2,1512.7 1499.5,1512.6 1500.8,1512.4 1502.1,1512.2 1503.4,1512.0 1504.6,1511.8 1505.9,1511.6 1507.2,1511.4 1508.5,1511.2 1509.8,1511.0 1511.1,1510.7 1512.4,1510.5 1513.7,1510.3 1515.0,1510.0 1516.3,1509.8 1517.6,1509.6 1518.9,1509.3 1520.2,1509.0 1521.5,1508.8 1522.8,1508.5 1524.1,1508.2 1525.4,1507.9 1526.7,1507.6 1528.0,1507.3 1529.3,1507.0 1530.6,1506.7 1531.9,1506.4 1533.2,1506.0 1534.5,1505.7 1535.8,1505.3 1537.0,1505.0 1538.3,1504.6 1539.6,1504.2 1540.9,1503.8 1542.2,1503.4 1543.5,1503.0 1544.8,1502.6 1546.1,1502.1 1547.4,1501.6 1548.7,1501.2 1550.0,1500.7 1551.3,1500.2 1552.6,1499.7 1553.9,1499.1 1555.2,1498.6 1556.5,1498.0 1557.8,1497.4 1559.1,1496.8 1560.4,1496.1 1561.7,1495.5 1563.0,1494.8 1564.3,1494.1 1565.6,1493.4 1566.9,1492.6 1568.2,1491.8 1569.4,1491.0 1570.7,1490.1 1572.0,1489.2 1573.3,1488.3 1574.6,1487.4 1575.9,1486.4 1577.2,1485.3 1578.5,1484.2 1579.8,1483.1 1581.1,1481.9 1582.4,1480.7 1583.7,1479.4 1585.0,1478.1 1586.3,1476.7 1587.6,1475.3 1588.9,1473.8 1590.2,1472.2 1591.5,1470.5 1592.8,1468.8 1594.1,1467.0 1595.4,1465.2 1596.7,1463.2 1598.0,1461.2 1599.3,1459.0 1600.6,1456.8 1601.8,1454.5 1603.1,1452.1 1604.4,1449.6 1605.7,1447.0 1607.0,1444.2 1608.3,1441.4 1609.6,1438.4 1610.9,1435.3 1612.2,1432.1 1613.5,1428.7 1614.8,1425.2 1616.1,1421.6 1617.4,1417.8 1618.7,1413.9 1620.0,1409.8 1621.3,1405.6 1622.6,1401.2 1623.9,1396.7 1625.2,1392.0 1626.5,1387.1 1627.8,1382.1 1629.1,1376.9 1630.4,1371.5 1631.7,1365.9 1633.0,1360.2 1634.2,1354.3 1635.5,1348.3 1636.8,1342.1 1638.1,1335.7 1639.4,1329.2 1640.7,1322.5 1642.0,1315.7 1643.3,1308.7 1644.6,1301.6 1645.9,1294.4 1647.2,1287.1 1648.5,1279.6 1649.8,1272.0 1651.1,1264.3 1652.4,1256.4 1653.7,1248.4 1655.0,1240.3 1656.3,1232.0 1657.6,1223.6 1658.9,1215.1 1660.2,1206.8 1661.5,1198.6 1662.8,1190.3 1664.1,1182.1 1665.4,1173.8 1666.6,1165.4 1667.9,1156.9 1669.2,1148.3 1670.5,1139.7 1671.8,1131.0 1673.1,1122.4 1674.4,1114.0 1675.7,1105.9 1677.0,1098.4 1678.3,1091.6 1679.6,1085.7 1680.9,1081.1 1682.2,1077.9 1683.5,1076.2 1684.8,1076.3 1686.1,1078.2 1687.4,1081.8 1688.7,1086.5 1690.0,1092.5 1691.3,1099.5 1692.6,1107.5 1693.9,1116.4 1695.2,1126.1 1696.5,1136.5 1697.8,1147.5 1699.0,1158.9 1700.3,1170.6 1701.6,1182.4 1702.9,1194.4 1704.2,1206.3 1705.5,1218.2 1706.8,1229.9 1708.1,1241.4 1709.4,1252.6 1710.7,1263.5 1712.0,1274.0 1713.3,1284.2 1714.6,1294.1 1715.9,1303.5 1717.2,1312.5 1718.5,1321.2 1719.8,1329.5 1721.1,1337.4 1722.4,1345.0 1723.7,1352.2 1725.0,1359.1 1726.3,1365.6 1727.6,1371.9 1728.9,1377.8 1730.2,1383.4 1731.4,1388.8 1732.7,1393.9 1734.0,1398.8 1735.3,1403.4 1736.6,1407.8 1737.9,1412.0 1739.2,1416.0 1740.5,1419.9 1741.8,1423.5 1743.1,1427.0 1744.4,1430.3 1745.7,1433.4 1747.0,1436.4 1748.3,1439.3 1749.6,1442.1 1750.9,1444.7 1752.2,1447.2 1753.5,1449.6 1754.8,1451.9 1756.1,1454.1 1757.4,1456.3 1758.7,1458.3 1760.0,1460.2 1761.3,1462.1 1762.6,1463.9 1763.8,1465.6 1765.1,1467.2 1766.4,1468.8 1767.7,1470.4 1769.0,1471.8 1770.3,1473.2 1771.6,1474.6 1772.9,1475.9 1774.2,1477.1 1775.5,1478.4 1776.8,1479.5 1778.1,1480.7 1779.4,1481.7 1780.7,1482.8 1782.0,1483.8 1783.3,1484.8 1784.6,1485.7 1785.9,1486.6 1787.2,1487.5 1788.5,1488.4 1789.8,1489.2 1791.1,1490.0 1792.4,1490.8 1793.7,1491.5 1795.0,1492.2 1796.2,1492.9 1797.5,1493.6 1798.8,1494.3 1800.1,1494.9 1801.4,1495.5 1802.7,1496.1 1804.0,1496.7 1805.3,1497.3 1806.6,1497.8 1807.9,1498.4 1809.2,1498.9 1810.5,1499.4 1811.8,1499.9 1813.1,1500.4 1814.4,1500.8 1815.7,1501.3 1817.0,1501.7 1818.3,1502.1 1819.6,1502.6 1820.9,1503.0 1822.2,1503.4 1823.5,1503.7 1824.8,1504.1 1826.1,1504.5 1827.4,1504.8 1828.6,1505.2 1829.9,1505.5 1831.2,1505.9 1832.5,1506.2 1833.8,1506.5 1835.1,1506.8 1836.4,1507.1 1837.7,1507.4 1839.0,1507.7 1840.3,1507.9 1841.6,1508.2 1842.9,1508.5 1844.2,1508.7 1845.5,1509.0 1846.8,1509.2 1848.1,1509.5 1849.4,1509.7 1850.7,1509.9 1852.0,1510.2 1853.3,1510.4 1854.6,1510.6 1855.9,1510.8 1857.2,1511.0 1858.5,1511.2 1859.8,1511.4 1861.0,1511.6 1862.3,1511.8 1863.6,1512.0 1864.9,1512.2 1866.2,1512.4 1867.5,1512.5 1868.8,1512.7 1870.1,1512.9 1871.4,1513.0 1872.7,1513.2 1874.0,1513.4 1875.3,1513.5 1876.6,1513.7 1877.9,1513.8 1879.2,1514.0 1880.5,1514.1 1881.8,1514.2 1883.1,1514.4 1884.4,1514.5 1885.7,1514.7 1887.0,1514.8 1888.3,1514.9 1889.6,1515.0 1890.9,1515.2 1892.2,1515.3 1893.4,1515.4 1894.7,1515.5 1896.0,1515.6 1897.3,1515.7 1898.6,1515.9 1899.9,1516.0 1901.2,1516.1 1902.5,1516.2 1903.8,1516.3 1905.1,1516.4 1906.4,1516.5 1907.7,1516.6 1909.0,1516.7 1910.3,1516.8 1911.6,1516.9 1912.9,1517.0 1914.2,1517.0 1915.5,1517.1 1916.8,1517.2 1918.1,1517.3 1919.4,1517.4 1920.7,1517.5 1922.0,1517.6 1923.3,1517.6 1924.6,1517.7 1925.8,1517.8 1927.1,1517.9 1928.4,1518.0 1929.7,1518.0 1931.0,1518.1 1932.3,1518.2 1933.6,1518.2 1934.9,1518.3 1936.2,1518.4 1937.5,1518.5 1938.8,1518.5 1940.1,1518.6 1941.4,1518.7 1942.7,1518.7 1944.0,1518.8 1945.3,1518.8 1946.6,1518.9 1947.9,1519.0 1949.2,1519.0 1950.5,1519.1 1951.8,1519.1 1953.1,1519.2 1954.4,1519.3 1955.7,1519.3 1957.0,1519.4 1958.2,1519.4 1959.5,1519.5 1960.8,1519.5 1962.1,1519.6 1963.4,1519.6 1964.7,1519.7 1966.0,1519.7 1967.3,1519.8 1968.6,1519.8 1969.9,1519.9 1971.2,1519.9 1972.5,1520.0 1973.8,1520.0 1975.1,1520.1 1976.4,1520.1 1977.7,1520.1 1979.0,1520.2 1980.3,1520.2 1981.6,1520.3 1982.9,1520.3 1984.2,1520.4 1985.5,1520.4 1986.8,1520.4 1988.1,1520.5 1989.4,1520.5 1990.6,1520.6 1991.9,1520.6 1993.2,1520.6 1994.5,1520.7 1995.8,1520.7 1997.1,1520.7 1998.4,1520.8 1999.7,1520.8 2001.0,1520.9 2002.3,1520.9 2003.6,1520.9 2004.9,1521.0 2006.2,1521.0 2007.5,1521.0 2008.8,1521.1 2010.1,1521.1 2011.4,1521.1 2012.7,1521.2 2014.0,1521.2 2015.3,1521.2 2016.6,1521.2 2017.9,1521.3 2019.2,1521.3 2020.5,1521.3 2021.8,1521.4 2023.0,1521.4 2024.3,1521.4 2025.6,1521.4 2026.9,1521.5 2028.2,1521.5 2029.5,1521.5 2030.8,1521.6 2032.1,1521.6 2033.4,1521.6 2034.7,1521.6 2036.0,1521.7 2037.3,1521.7 2038.6,1521.7 2039.9,1521.7 2041.2,1521.8 2042.5,1521.8 2043.8,1521.8 2045.1,1521.8 2046.4,1521.9 2047.7,1521.9 2049.0,1521.9 2050.3,1521.9 2051.6,1522.0 2052.9,1522.0 2054.2,1522.0 2055.4,1522.0 2056.7,1522.0 2058.0,1522.1 2059.3,1522.1 2060.6,1522.1 2061.9,1522.1 2063.2,1522.1 2064.5,1522.2 2065.8,1522.2 2067.1,1522.2 2068.4,1522.2 2069.7,1522.2 2071.0,1522.3 2072.3,1522.3 2073.6,1522.3 2074.9,1522.3 2076.2,1522.3 2077.5,1522.4 2078.8,1522.4 2080.1,1522.4 2081.4,1522.4 2082.7,1522.4 2084.0,1522.5 2085.3,1522.5 2086.6,1522.5 2087.8,1522.5 2089.1,1522.5 2090.4,1522.5 2091.7,1522.6 2093.0,1522.6 2094.3,1522.6 2095.6,1522.6 2096.9,1522.6 2098.2,1522.6 2099.5,1522.7 2100.8,1522.7 2102.1,1522.7 2103.4,1522.7 2104.7,1522.7 2106.0,1522.7 2107.3,1522.7 2108.6,1522.8 2109.9,1522.8 2111.2,1522.8 2112.5,1522.8 2113.8,1522.8 2115.1,1522.8 2116.4,1522.8 2117.7,1522.9 2119.0,1522.9 2120.2,1522.9 2121.5,1522.9 2122.8,1522.9 2124.1,1522.9 2125.4,1522.9 2126.7,1523.0 2128.0,1523.0 2129.3,1523.0 2130.6,1523.0 2131.9,1523.0 2133.2,1523.0 2134.5,1523.0 2135.8,1523.0" fill="none" stroke="#000" stroke-width="2.8" stroke-linejoin="round"/></g><rect x="1228.6" y="880.0" width="907.2000000000003" height="670.2" fill="none" stroke="#000" stroke-width="3.3"/><line x1="1244.8" y1="1550.2" x2="1244.8" y2="1542.7" stroke="#000" stroke-width="2.8"/><line x1="1325.8" y1="1550.2" x2="1325.8" y2="1535.2" stroke="#000" stroke-width="2.8"/><line x1="1406.8" y1="1550.2" x2="1406.8" y2="1542.7" stroke="#000" stroke-width="2.8"/><line x1="1487.8" y1="1550.2" x2="1487.8" y2="1535.2" stroke="#000" stroke-width="2.8"/><line x1="1568.8" y1="1550.2" x2="1568.8" y2="1542.7" stroke="#000" stroke-width="2.8"/><line x1="1649.8" y1="1550.2" x2="1649.8" y2="1535.2" stroke="#000" stroke-width="2.8"/><line x1="1730.8" y1="1550.2" x2="1730.8" y2="1542.7" stroke="#000" stroke-width="2.8"/><line x1="1811.8" y1="1550.2" x2="1811.8" y2="1535.2" stroke="#000" stroke-width="2.8"/><line x1="1892.8" y1="1550.2" x2="1892.8" y2="1542.7" stroke="#000" stroke-width="2.8"/><line x1="1973.8" y1="1550.2" x2="1973.8" y2="1535.2" stroke="#000" stroke-width="2.8"/><line x1="2054.8" y1="1550.2" x2="2054.8" y2="1542.7" stroke="#000" stroke-width="2.8"/><text x="1325.8" y="1599.9" font-family="'Liberation Serif','Times New Roman',serif" font-size="44" text-anchor="middle">15</text><text x="1487.8" y="1599.9" font-family="'Liberation Serif','Times New Roman',serif" font-size="44" text-anchor="middle">20</text><text x="1649.8" y="1599.9" font-family="'Liberation Serif','Times New Roman',serif" font-size="44" text-anchor="middle">25</text><text x="1811.8" y="1599.9" font-family="'Liberation Serif','Times New Roman',serif" font-size="44" text-anchor="middle">30</text><text x="1973.8" y="1599.9" font-family="'Liberation Serif','Times New Roman',serif" font-size="44" text-anchor="middle">35</text><text x="2135.8" y="1599.9" font-family="'Liberation Serif','Times New Roman',serif" font-size="44" text-anchor="middle">40</text><text x="1594.1" y="1656.7" font-family="'Liberation Serif','Times New Roman',serif" font-size="45.5">2<tspan dx="2.3">θ</tspan><tspan dx="0.5"> (degree)</tspan></text><text transform="translate(1187.6,1340.5) rotate(-90)" font-family="'Liberation Serif','Times New Roman',serif" font-size="45.6">Intensity (a.u.)</text><line x1="1239.1" y1="914.9" x2="1342.2" y2="914.9" stroke="#000" stroke-width="3.4"/><text x="1354.9" y="930.4" font-family="'Liberation Serif','Times New Roman',serif" font-size="45">Experimental data</text><line x1="1239.1" y1="971.4" x2="1342.2" y2="971.4" stroke="#14108a" stroke-width="3.4"/><text x="1354.9" y="986.1" font-family="'Liberation Serif','Times New Roman',serif" font-size="45">Graphitic region</text><line x1="1239.1" y1="1027.7" x2="1342.2" y2="1027.7" stroke="#b82a2e" stroke-width="3.4"/><text x="1354.9" y="1041.8" font-family="'Liberation Serif','Times New Roman',serif" font-size="45">Disordered region</text><text x="1721.7" y="986.1" font-family="'Liberation Serif','Times New Roman',serif" font-size="45">74.9 %</text><text x="1721.7" y="1041.8" font-family="'Liberation Serif','Times New Roman',serif" font-size="45">25.1 %</text><text x="48" y="105" font-family="'Liberation Serif','Times New Roman',serif" font-size="93">(<tspan dx="-1.4">b</tspan><tspan dx="-1.6">)</tspan></text><text x="968" y="133.3" font-family="'Liberation Serif','Times New Roman',serif" font-size="59.5">Ar</text><text x="2002" y="138.7" font-family="'Liberation Serif','Times New Roman',serif" font-size="58.5">He</text><text x="926" y="979.8" font-family="'Liberation Serif','Times New Roman',serif" font-size="59.5">Ar</text><rect x="994.1" y="961.6" width="23.5" height="8.3" fill="#000"/><text x="1023.5" y="979.8" font-family="'Liberation Serif','Times New Roman',serif" font-size="57">H</text><text x="1062" y="979.8" font-family="'Liberation Serif','Times New Roman',serif" font-size="33">2</text><text x="1965.2" y="985.5" font-family="'Liberation Serif','Times New Roman',serif" font-size="59.5">Ar</text><rect x="2032.9" y="966.2" width="23" height="7.8" fill="#000"/><text x="2059" y="985.5" font-family="'Liberation Serif','Times New Roman',serif" font-size="59">N</text><text x="2101.5" y="985.5" font-family="'Liberation Serif','Times New Roman',serif" font-size="33">2</text></svg>
</body></html>
